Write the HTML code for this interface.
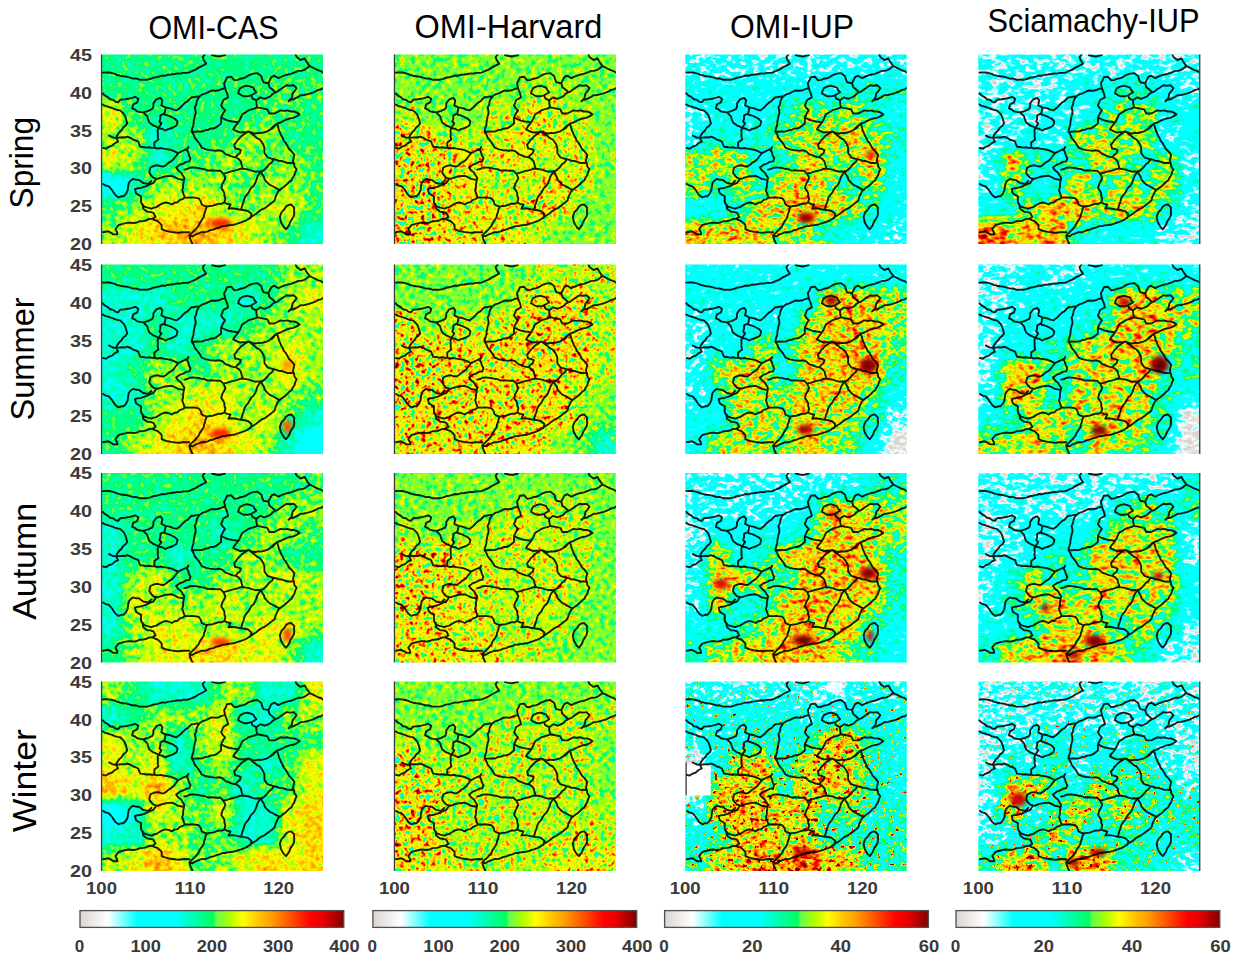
<!DOCTYPE html><html><head><meta charset="utf-8"><style>html,body{margin:0;padding:0;background:#fff;width:1240px;height:963px;overflow:hidden}svg{display:block;font-family:"Liberation Sans",sans-serif}</style></head><body><svg width="1240" height="963" viewBox="0 0 1240 963"><rect width="1240" height="963" fill="#fff"/><defs><path id="bd" d="M1.0,18.1L4.0,17.9 7.6,18.0 10.6,18.6 13.3,19.3 15.4,20.3 18.6,21.2 21.5,21.8 24.9,22.1 28.7,23.2 31.6,24.1 34.3,23.9 37.9,25.2 40.8,25.2 45.8,25.2 48.9,24.3 52.4,23.0 54.9,22.7 58.3,21.8 60.6,21.0 63.8,21.2 67.0,20.2 69.7,20.0 73.2,19.5 76.1,18.9 79.1,19.1 81.3,18.4 84.6,18.4 87.1,18.1 90.4,16.7 94.2,15.1 97.1,13.1 100.2,11.6 104.7,9.1 102.2,5.5 101.2,2.5 103.3,0.0M110.5,0.5L114.4,1.5 117.6,2.0 120.3,1.3 123.6,0.5M1.0,38.8L3.6,41.2 6.3,42.6 8.6,44.8 11.8,45.4 13.8,47.1 16.6,47.8 18.6,45.3 20.9,45.0 23.5,44.8 26.7,44.3 30.5,43.4 33.7,42.3 36.8,44.3 35.8,47.8 31.7,49.9 30.7,53.9 33.7,55.2 35.8,56.9 39.0,57.5 41.8,57.9 44.4,57.1 46.8,56.4 50.9,54.4 51.8,52.1 51.9,48.9 54.9,44.8 58.9,43.3 60.9,45.8 59.9,50.9 64.0,52.9 69.0,53.9 72.0,55.1 75.0,55.9 79.0,52.9 81.1,50.6 84.1,47.8 86.3,46.7 88.5,44.2 90.1,42.8 92.7,42.7 95.0,42.1 98.2,41.8 100.8,39.9 104.2,38.8 106.3,37.8 109.3,36.3 111.5,36.0 114.5,36.3 117.4,35.8 120.1,34.5 123.6,33.7 122.6,28.7 124.2,26.1 125.6,22.7 129.6,22.2 132.7,25.7 136.1,25.4 138.5,24.3 141.7,23.7 143.9,23.0 146.9,21.0 148.8,20.2 151.9,19.1 155.8,18.6 159.9,21.7 160.6,24.7 161.9,27.7 166.9,28.7 168.5,25.4 169.9,22.7 172.9,21.2 177.0,23.7 180.0,22.1 184.0,20.7 186.4,20.0 189.5,19.4 191.6,18.5 194.1,17.6 196.8,16.4 199.6,16.4 202.1,15.7 204.2,14.6 208.2,11.6 211.1,13.0 214.2,14.6 216.3,15.7 219.3,16.6 222.0,18.6M208.2,11.6L205.2,7.6 203.2,4.0 199.1,5.5 195.1,2.5 194.1,0.0M41.8,57.9L43.3,59.4 45.8,61.9 46.5,64.6 47.8,68.0 51.9,71.0 54.2,71.8 56.9,73.5 56.1,75.9 56.4,79.1 56.2,81.9 56.9,85.1 52.9,88.1 52.9,93.2 55.5,94.0 59.2,93.5 61.9,94.1 65.3,94.6 68.8,95.2 72.5,96.6 76.6,98.7M64.0,53.9L63.0,58.9 58.9,60.9 58.8,64.5 57.9,67.0 59.9,69.0 58.4,71.2 56.9,73.5M63.0,60.0L65.2,60.6 68.2,61.7 71.0,63.0 73.9,64.6 76.0,67.0 75.0,71.0 71.5,73.0 69.0,74.0 66.5,74.6 64.0,76.0 60.5,74.2 56.9,73.5M1.0,49.9L3.6,51.4 6.5,52.1 8.6,52.9 10.8,53.5 13.2,54.7 16.1,55.5 18.6,55.9 20.5,57.6 22.7,59.9 24.0,63.0 24.7,65.0 25.7,69.0 24.1,71.3 21.7,73.0 20.0,75.8 17.6,78.0 15.8,80.6 14.6,83.1 16.6,87.1 13.4,88.6 10.6,91.1 7.0,92.4 4.5,94.2 1.6,93.5M7.6,81.1L11.6,83.1 14.3,83.3 17.6,83.1 20.8,82.7 23.5,83.0 25.7,82.1 29.2,83.5 31.7,85.1 33.9,85.8 36.8,87.1 37.5,89.3 38.8,92.2 41.7,92.5 44.6,93.1 47.7,92.8 50.3,93.4 52.9,93.2M98.2,41.8L96.2,44.5 95.2,46.8 94.7,50.2 93.2,52.9 94.0,55.9 94.2,58.9 93.2,61.9 92.7,64.6 92.2,67.0 92.0,70.3 90.7,74.2 90.1,77.1 91.9,79.7 93.2,83.1 94.8,85.2 97.2,88.1 99.1,91.0 100.2,93.2 101.3,93.5 104.5,94.9 108.5,95.6 112.1,96.0 114.5,96.2 117.3,95.8 120.8,96.6 123.9,99.7 127.0,100.6 129.1,101.7 131.6,102.4 134.2,102.8 137.1,104.5 139.3,106.9 140.1,110.3 141.4,114.1M90.1,77.1L92.8,77.2 95.9,77.0 99.2,77.1 101.3,76.8 104.1,75.5 106.9,75.2 109.3,74.0 111.8,74.0 114.5,73.0 117.1,71.0 119.6,69.0 119.6,65.5 119.6,63.0 120.9,60.3 121.7,58.6 123.6,55.9 121.2,53.4 119.6,50.9 120.8,48.4 121.6,45.8 123.9,44.3 126.6,42.8 125.6,38.8 124.7,36.6 123.6,33.7M119.6,63.0L123.6,65.0 126.7,66.1 130.7,67.0 133.4,67.3 136.7,68.0 138.3,65.3 139.4,62.9 140.7,59.9 144.2,57.8 146.8,55.9 149.9,54.9 152.8,54.1 155.8,52.9 160.9,53.9 165.9,54.9 167.9,59.0 173.0,59.0 175.9,57.5 179.0,55.9 182.5,56.4 186.0,55.9 189.3,57.0 192.6,57.0 195.1,57.9 198.1,59.9 195.1,61.9 191.7,63.4 188.1,64.0 185.4,64.9 181.6,66.6 179.0,68.0 175.5,69.2 173.0,71.0 170.5,73.2 168.9,75.0 165.7,76.9 161.9,78.0 158.8,78.6 156.7,78.3 153.8,79.0 150.7,78.5 146.8,77.0 143.8,77.8 141.3,77.7 138.7,78.0 135.7,76.9 131.7,75.0 133.0,72.6 135.1,70.2 136.7,68.0M136.7,38.8L137.4,36.1 138.7,33.7 142.5,31.9 145.8,31.2 148.9,32.1 151.8,33.2 152.8,35.3 154.8,37.8 152.4,39.3 149.8,40.8 145.8,41.8 142.7,41.8 140.0,40.8 136.7,38.8M149.8,40.8L150.8,43.8 154.8,45.8 154.9,49.1 155.8,52.9M154.8,45.8L158.9,42.8 162.9,44.3 165.4,43.4 168.9,41.8 171.1,39.4 173.9,37.8 176.4,36.8 179.0,34.8 182.4,32.5 185.0,30.7 188.2,31.2 192.1,30.7 195.1,33.7 193.2,36.5 191.1,38.8 190.1,43.8 187.0,46.8 189.1,45.3 192.1,44.8 194.6,43.4 196.3,42.6 199.1,40.8 202.6,40.5 205.4,39.9 209.2,38.8 211.2,38.2 214.2,36.8 216.7,35.4 219.5,34.9 222.0,33.2M166.9,28.7L168.0,32.7 170.7,34.8 173.9,37.8M146.8,77.0L144.6,78.5 141.8,80.2 139.5,82.0 137.7,84.1 135.8,85.9 134.7,87.9 132.7,90.1 133.7,94.0 136.5,94.4 139.3,95.6 138.3,98.7 136.1,100.2 134.2,102.8M146.8,77.0L148.9,78.2 151.7,80.5 153.8,82.1 155.5,83.7 158.3,85.0 159.9,87.1 161.8,90.1 162.9,93.2 162.9,96.3 163.0,98.7 166.0,102.8 169.0,103.8 172.2,104.8M168.9,75.0L171.3,73.6 173.1,71.4 175.5,69.1 176.7,72.7 177.5,76.0 178.7,78.4 179.5,80.7 181.3,83.7 182.3,86.4 184.0,88.1 185.7,90.9 187.4,94.2 190.0,96.7 192.9,100.4 192.2,103.3 191.5,106.2 192.6,109.3 192.9,112.0 195.1,114.9 193.8,117.5 192.9,120.7 191.2,123.2 190.0,125.8 187.5,127.6 185.7,129.5 183.2,131.8 181.3,133.1 179.4,134.6M172.2,104.8L175.3,105.4 177.1,106.4 180.0,106.5 182.8,107.3 186.0,108.5 188.4,108.4 191.8,108.6M141.4,114.1L144.5,114.6 147.6,115.1 150.3,116.2 153.7,117.2 156.3,116.9 159.9,117.2 163.0,115.1 166.0,112.0 167.6,109.8 170.2,107.9 172.2,104.8M179.4,134.6L176.8,136.7 175.3,139.8 174.0,142.6 173.2,145.9 170.7,148.0 168.1,150.0 165.6,151.9 162.9,153.9 159.9,155.2 157.2,157.1 154.7,159.3 152.7,160.5 149.6,162.4 145.5,165.5 143.0,166.7 139.5,167.9 137.3,168.6 135.0,169.4 132.0,170.3 129.0,170.6 125.9,171.0 123.5,171.6 120.8,171.6 118.1,173.0 114.7,173.7 111.7,175.1 108.5,175.7 106.4,176.8 103.5,177.7 100.0,177.6 97.2,178.8 93.7,180.2 91.0,181.9 87.9,180.9 88.9,185.0 91.0,189.5M159.6,116.6L157.4,119.7 156.0,122.0 154.8,125.7 153.4,129.1 151.9,131.4 150.1,132.8 148.4,135.4 147.1,138.1 145.1,140.4 143.4,142.8 142.7,144.8 142.0,147.5 140.9,150.3 139.6,155.3M159.6,116.6L160.4,119.3 162.3,122.1 163.3,125.4 166.1,128.4 168.3,130.4 170.8,131.5 173.3,132.9 175.8,134.3 178.3,135.3M82.8,115.1L85.8,114.5 88.4,113.2 91.0,113.0 93.3,113.1 96.7,113.5 99.2,114.1 102.9,114.6 106.4,116.1 109.5,115.8 113.6,116.1 116.4,116.3 118.8,116.1 121.9,119.2 126.0,118.2 129.8,116.9 133.2,116.1 136.0,115.4 138.6,114.3 141.4,114.1M121.9,119.2L123.9,123.3 122.8,126.1 120.8,129.5 119.8,133.6 121.9,136.6 122.9,138.7 122.9,141.3 123.9,143.9 122.9,148.0 120.5,149.2 117.4,149.1 114.7,150.0 111.3,151.2 108.2,151.5 105.4,152.1 102.4,151.1 100.2,150.0 99.2,146.5 97.2,143.9 94.5,143.4 91.0,142.9 87.8,143.1 83.8,142.9M122.9,148.0L125.7,149.4 129.0,150.0 127.0,154.2 130.6,153.7 134.2,154.2 136.4,154.7 139.6,155.3M139.6,155.3L143.0,155.7 146.5,156.5 150.0,159.5 149.0,163.5M105.4,152.1L104.2,154.5 103.6,157.6 102.5,160.1 102.3,162.4 100.6,165.1 98.2,168.6 97.1,171.4 95.1,173.7 93.5,175.5 91.0,177.8 87.9,180.9M76.6,98.7L80.7,96.6 83.2,95.5 85.9,94.6 86.9,92.5M84.8,94.6L86.7,97.8 87.4,100.7 89.0,103.8 87.9,106.9 84.6,107.4 81.3,109.3 78.7,110.0 74.6,113.0 76.9,116.1 79.7,118.2 81.0,120.5 82.8,123.3 82.3,126.1 81.6,130.0 81.6,132.9 80.7,135.7 81.9,139.2 82.8,141.8 83.8,142.9M76.6,98.7L73.5,102.8 71.9,104.9 69.4,106.9 67.2,108.1 64.9,110.2 62.2,112.0 59.7,111.8 56.5,110.8 54.0,111.0 51.9,111.6 48.9,113.0 48.3,115.4 47.8,118.2 49.7,121.0 52.0,123.3 56.0,124.4 59.6,123.1 62.2,122.3 65.1,121.7 67.7,121.5 70.4,121.3 73.1,122.5 76.6,124.4 81.7,125.4M83.8,142.9L80.8,144.8 78.4,145.4 76.2,147.7 73.0,148.2 70.4,150.0 67.0,148.5 64.3,148.0 61.7,148.6 59.2,149.8 57.1,151.1 54.8,152.6 52.6,153.1 49.9,154.2 46.2,153.2 42.7,152.1 39.6,148.0 39.5,144.7 39.6,141.8 36.6,140.1 34.5,138.8 33.4,134.6 36.5,133.7 38.6,133.6 41.7,132.7 44.8,131.6 48.7,129.7 51.9,128.5 54.0,125.4M31.4,124.4L29.1,126.2 27.3,128.5 26.6,132.0 26.2,135.7 24.6,139.1 22.1,141.8 20.0,141.8 17.0,142.9 13.9,140.5 11.9,137.7 10.6,135.6 8.5,133.1 6.7,131.6 4.0,131.0 1.6,129.5M31.4,124.4L34.9,125.3 37.6,125.4 41.7,128.5 46.8,129.5 49.9,126.4M39.6,148.0L41.2,150.8 41.7,154.2 45.8,157.2 48.4,157.4 51.9,158.3 54.0,162.4 50.9,164.4 53.5,165.7 56.0,166.5 58.6,168.8 60.2,170.6 60.2,174.7 63.4,176.0 66.3,176.8 69.4,177.4 72.5,177.8 74.7,178.1 77.7,178.3 80.7,177.8 84.5,177.6 87.9,177.8M49.9,164.4L46.8,164.8 44.6,166.0 41.7,166.5 38.2,166.7 35.5,168.0 32.4,168.6 29.5,168.3 27.0,168.1 24.2,168.6 20.4,169.6 17.0,170.6 13.9,174.7 15.5,177.5 16.0,179.9 11.9,179.9 9.7,178.3 6.7,176.8 1.6,177.8M189.7,150.0L192.8,153.1 192.5,155.4 192.8,158.3 192.3,161.6 190.7,164.4 188.9,167.0 187.6,170.6 184.6,174.7 182.5,172.7 180.9,170.3 179.4,167.5 178.4,162.4 179.3,159.5 180.4,157.2 182.7,155.1 184.6,152.1 186.8,150.5 189.7,150.0" fill="none" stroke="#050505" stroke-width="1.9" stroke-linejoin="round" stroke-linecap="round" opacity="0.88" filter="url(#lb)"/><linearGradient id="cbg" x1="0" x2="1" y1="0" y2="0"><stop offset="0.000" stop-color="rgb(218,213,208)"/><stop offset="0.105" stop-color="rgb(255,255,255)"/><stop offset="0.218" stop-color="rgb(0,255,255)"/><stop offset="0.362" stop-color="rgb(0,255,255)"/><stop offset="0.505" stop-color="rgb(0,255,96)"/><stop offset="0.514" stop-color="rgb(96,255,80)"/><stop offset="0.569" stop-color="rgb(176,255,0)"/><stop offset="0.617" stop-color="rgb(255,255,0)"/><stop offset="0.684" stop-color="rgb(255,192,0)"/><stop offset="0.720" stop-color="rgb(255,165,0)"/><stop offset="0.785" stop-color="rgb(255,96,0)"/><stop offset="0.875" stop-color="rgb(255,0,0)"/><stop offset="0.920" stop-color="rgb(235,0,0)"/><stop offset="1.000" stop-color="rgb(128,0,0)"/></linearGradient><filter id="sb" x="-50%" y="-50%" width="200%" height="200%"><feGaussianBlur stdDeviation="2.2"/></filter><filter id="lb" x="-5%" y="-5%" width="110%" height="110%"><feGaussianBlur stdDeviation="0.45"/></filter></defs><filter id="f00" filterUnits="userSpaceOnUse" x="61.5" y="14.5" width="301.5" height="269.5" color-interpolation-filters="sRGB"><feGaussianBlur in="SourceGraphic" stdDeviation="6" result="b"/><feColorMatrix in="b" type="matrix" values="1 0 0 0 0 1 0 0 0 0 1 0 0 0 0 0 0 0 0 1" result="val"/><feColorMatrix in="b" type="matrix" values="0 1 0 0 0 0 1 0 0 0 0 1 0 0 0 0 0 0 0 1" result="amp"/><feTurbulence type="fractalNoise" baseFrequency="0.18" numOctaves="2" seed="3" result="t"/><feColorMatrix in="t" type="matrix" values="1 0 0 0 0 1 0 0 0 0 1 0 0 0 0 0 0 0 0 1" result="tg0"/><feOffset in="tg0" dx="0" dy="0" result="tg"/><feComposite in="amp" in2="tg" operator="arithmetic" k1="1" k2="-0.5" k3="0" k4="0.5" result="nm"/><feComposite in="val" in2="nm" operator="arithmetic" k1="0" k2="1" k3="0.32" k4="-0.160" result="sum"/><feComponentTransfer><feFuncR type="table" tableValues="0.855 0.866 0.877 0.888 0.898 0.909 0.920 0.931 0.942 0.953 0.964 0.975 0.985 0.996 0.954 0.884 0.814 0.745 0.675 0.605 0.536 0.466 0.396 0.327 0.257 0.187 0.117 0.048 0.000 0.000 0.000 0.000 0.000 0.000 0.000 0.000 0.000 0.000 0.000 0.000 0.000 0.000 0.000 0.000 0.000 0.000 0.000 0.000 0.000 0.000 0.000 0.000 0.000 0.000 0.000 0.000 0.000 0.000 0.000 0.000 0.000 0.000 0.000 0.000 0.000 0.285 0.409 0.454 0.499 0.544 0.589 0.633 0.678 0.728 0.778 0.829 0.880 0.931 0.982 1.000 1.000 1.000 1.000 1.000 1.000 1.000 1.000 1.000 1.000 1.000 1.000 1.000 1.000 1.000 1.000 1.000 1.000 1.000 1.000 1.000 1.000 1.000 1.000 1.000 1.000 1.000 1.000 1.000 1.000 1.000 1.000 1.000 0.988 0.974 0.961 0.947 0.933 0.915 0.874 0.832 0.791 0.750 0.708 0.667 0.626 0.585 0.543 0.502"/><feFuncG type="table" tableValues="0.835 0.848 0.860 0.872 0.885 0.897 0.909 0.922 0.934 0.946 0.959 0.971 0.984 0.996 1.000 1.000 1.000 1.000 1.000 1.000 1.000 1.000 1.000 1.000 1.000 1.000 1.000 1.000 1.000 1.000 1.000 1.000 1.000 1.000 1.000 1.000 1.000 1.000 1.000 1.000 1.000 1.000 1.000 1.000 1.000 1.000 1.000 1.000 1.000 1.000 1.000 1.000 1.000 1.000 1.000 1.000 1.000 1.000 1.000 1.000 1.000 1.000 1.000 1.000 1.000 1.000 1.000 1.000 1.000 1.000 1.000 1.000 1.000 1.000 1.000 1.000 1.000 1.000 1.000 0.981 0.952 0.923 0.894 0.865 0.836 0.807 0.778 0.750 0.727 0.704 0.680 0.657 0.629 0.596 0.563 0.530 0.498 0.465 0.432 0.399 0.366 0.333 0.301 0.268 0.235 0.202 0.169 0.136 0.103 0.070 0.037 0.004 0.000 0.000 0.000 0.000 0.000 0.000 0.000 0.000 0.000 0.000 0.000 0.000 0.000 0.000 0.000 0.000"/><feFuncB type="table" tableValues="0.816 0.830 0.843 0.857 0.871 0.885 0.899 0.912 0.926 0.940 0.954 0.968 0.982 0.995 1.000 1.000 1.000 1.000 1.000 1.000 1.000 1.000 1.000 1.000 1.000 1.000 1.000 1.000 1.000 1.000 1.000 1.000 1.000 1.000 1.000 1.000 1.000 1.000 1.000 1.000 1.000 1.000 1.000 1.000 1.000 1.000 0.999 0.965 0.930 0.896 0.862 0.827 0.793 0.759 0.724 0.690 0.656 0.621 0.587 0.553 0.518 0.484 0.450 0.415 0.381 0.329 0.281 0.236 0.191 0.147 0.102 0.057 0.012 0.000 0.000 0.000 0.000 0.000 0.000 0.000 0.000 0.000 0.000 0.000 0.000 0.000 0.000 0.000 0.000 0.000 0.000 0.000 0.000 0.000 0.000 0.000 0.000 0.000 0.000 0.000 0.000 0.000 0.000 0.000 0.000 0.000 0.000 0.000 0.000 0.000 0.000 0.000 0.000 0.000 0.000 0.000 0.000 0.000 0.000 0.000 0.000 0.000 0.000 0.000 0.000 0.000 0.000 0.000"/></feComponentTransfer><feGaussianBlur stdDeviation="0.6"/></filter><clipPath id="cf00"><rect x="101.5" y="54.5" width="221.5" height="189.5"/></clipPath><g clip-path="url(#cf00)"><g filter="url(#f00)"><rect x="61.5" y="14.5" width="62.6" height="64.2" fill="rgb(121,204,0)"/><rect x="123.7" y="14.5" width="22.6" height="64.2" fill="rgb(121,204,0)"/><rect x="145.8" y="14.5" width="22.6" height="64.2" fill="rgb(121,204,0)"/><rect x="167.9" y="14.5" width="22.6" height="64.2" fill="rgb(121,204,0)"/><rect x="190.1" y="14.5" width="22.6" height="64.2" fill="rgb(121,204,0)"/><rect x="212.2" y="14.5" width="22.6" height="64.2" fill="rgb(121,204,0)"/><rect x="234.4" y="14.5" width="22.6" height="64.2" fill="rgb(121,204,0)"/><rect x="256.5" y="14.5" width="22.6" height="64.2" fill="rgb(121,204,0)"/><rect x="278.7" y="14.5" width="22.6" height="64.2" fill="rgb(121,204,0)"/><rect x="300.9" y="14.5" width="62.6" height="64.2" fill="rgb(121,204,0)"/><rect x="61.5" y="78.2" width="62.6" height="24.2" fill="rgb(121,204,0)"/><rect x="123.7" y="78.2" width="22.6" height="24.2" fill="rgb(121,204,0)"/><rect x="145.8" y="78.2" width="22.6" height="24.2" fill="rgb(121,204,0)"/><rect x="167.9" y="78.2" width="22.6" height="24.2" fill="rgb(121,204,0)"/><rect x="190.1" y="78.2" width="22.6" height="24.2" fill="rgb(121,204,0)"/><rect x="212.2" y="78.2" width="22.6" height="24.2" fill="rgb(121,204,0)"/><rect x="234.4" y="78.2" width="22.6" height="24.2" fill="rgb(121,204,0)"/><rect x="256.5" y="78.2" width="22.6" height="24.2" fill="rgb(128,255,0)"/><rect x="278.7" y="78.2" width="22.6" height="24.2" fill="rgb(128,255,0)"/><rect x="300.9" y="78.2" width="62.6" height="24.2" fill="rgb(128,255,0)"/><rect x="61.5" y="101.9" width="62.6" height="24.2" fill="rgb(155,255,0)"/><rect x="123.7" y="101.9" width="22.6" height="24.2" fill="rgb(121,204,0)"/><rect x="145.8" y="101.9" width="22.6" height="24.2" fill="rgb(121,204,0)"/><rect x="167.9" y="101.9" width="22.6" height="24.2" fill="rgb(121,204,0)"/><rect x="190.1" y="101.9" width="22.6" height="24.2" fill="rgb(121,204,0)"/><rect x="212.2" y="101.9" width="22.6" height="24.2" fill="rgb(121,204,0)"/><rect x="234.4" y="101.9" width="22.6" height="24.2" fill="rgb(121,204,0)"/><rect x="256.5" y="101.9" width="22.6" height="24.2" fill="rgb(128,255,0)"/><rect x="278.7" y="101.9" width="22.6" height="24.2" fill="rgb(128,255,0)"/><rect x="300.9" y="101.9" width="62.6" height="24.2" fill="rgb(121,204,0)"/><rect x="61.5" y="125.6" width="62.6" height="24.2" fill="rgb(141,255,0)"/><rect x="123.7" y="125.6" width="22.6" height="24.2" fill="rgb(141,255,0)"/><rect x="145.8" y="125.6" width="22.6" height="24.2" fill="rgb(102,178,0)"/><rect x="167.9" y="125.6" width="22.6" height="24.2" fill="rgb(121,204,0)"/><rect x="190.1" y="125.6" width="22.6" height="24.2" fill="rgb(121,204,0)"/><rect x="212.2" y="125.6" width="22.6" height="24.2" fill="rgb(121,204,0)"/><rect x="234.4" y="125.6" width="22.6" height="24.2" fill="rgb(141,255,0)"/><rect x="256.5" y="125.6" width="22.6" height="24.2" fill="rgb(141,255,0)"/><rect x="278.7" y="125.6" width="22.6" height="24.2" fill="rgb(121,204,0)"/><rect x="300.9" y="125.6" width="62.6" height="24.2" fill="rgb(121,204,0)"/><rect x="61.5" y="149.2" width="62.6" height="24.2" fill="rgb(155,255,0)"/><rect x="123.7" y="149.2" width="22.6" height="24.2" fill="rgb(141,255,0)"/><rect x="145.8" y="149.2" width="22.6" height="24.2" fill="rgb(102,178,0)"/><rect x="167.9" y="149.2" width="22.6" height="24.2" fill="rgb(121,204,0)"/><rect x="190.1" y="149.2" width="22.6" height="24.2" fill="rgb(128,255,0)"/><rect x="212.2" y="149.2" width="22.6" height="24.2" fill="rgb(141,255,0)"/><rect x="234.4" y="149.2" width="22.6" height="24.2" fill="rgb(141,255,0)"/><rect x="256.5" y="149.2" width="22.6" height="24.2" fill="rgb(128,255,0)"/><rect x="278.7" y="149.2" width="22.6" height="24.2" fill="rgb(141,255,0)"/><rect x="300.9" y="149.2" width="62.6" height="24.2" fill="rgb(128,255,0)"/><rect x="61.5" y="172.9" width="62.6" height="24.2" fill="rgb(76,153,0)"/><rect x="123.7" y="172.9" width="22.6" height="24.2" fill="rgb(102,178,0)"/><rect x="145.8" y="172.9" width="22.6" height="24.2" fill="rgb(141,255,0)"/><rect x="167.9" y="172.9" width="22.6" height="24.2" fill="rgb(141,255,0)"/><rect x="190.1" y="172.9" width="22.6" height="24.2" fill="rgb(141,255,0)"/><rect x="212.2" y="172.9" width="22.6" height="24.2" fill="rgb(141,255,0)"/><rect x="234.4" y="172.9" width="22.6" height="24.2" fill="rgb(128,255,0)"/><rect x="256.5" y="172.9" width="22.6" height="24.2" fill="rgb(141,255,0)"/><rect x="278.7" y="172.9" width="22.6" height="24.2" fill="rgb(141,255,0)"/><rect x="300.9" y="172.9" width="62.6" height="24.2" fill="rgb(128,255,0)"/><rect x="61.5" y="196.6" width="62.6" height="24.2" fill="rgb(128,255,0)"/><rect x="123.7" y="196.6" width="22.6" height="24.2" fill="rgb(141,255,0)"/><rect x="145.8" y="196.6" width="22.6" height="24.2" fill="rgb(155,255,0)"/><rect x="167.9" y="196.6" width="22.6" height="24.2" fill="rgb(155,255,0)"/><rect x="190.1" y="196.6" width="22.6" height="24.2" fill="rgb(167,255,0)"/><rect x="212.2" y="196.6" width="22.6" height="24.2" fill="rgb(141,255,0)"/><rect x="234.4" y="196.6" width="22.6" height="24.2" fill="rgb(141,255,0)"/><rect x="256.5" y="196.6" width="22.6" height="24.2" fill="rgb(141,255,0)"/><rect x="278.7" y="196.6" width="22.6" height="24.2" fill="rgb(155,255,0)"/><rect x="300.9" y="196.6" width="62.6" height="24.2" fill="rgb(128,255,0)"/><rect x="61.5" y="220.3" width="62.6" height="64.2" fill="rgb(141,255,0)"/><rect x="123.7" y="220.3" width="22.6" height="64.2" fill="rgb(155,255,0)"/><rect x="145.8" y="220.3" width="22.6" height="64.2" fill="rgb(167,255,0)"/><rect x="167.9" y="220.3" width="22.6" height="64.2" fill="rgb(178,255,0)"/><rect x="190.1" y="220.3" width="22.6" height="64.2" fill="rgb(178,255,0)"/><rect x="212.2" y="220.3" width="22.6" height="64.2" fill="rgb(167,255,0)"/><rect x="234.4" y="220.3" width="22.6" height="64.2" fill="rgb(155,255,0)"/><rect x="256.5" y="220.3" width="22.6" height="64.2" fill="rgb(141,255,0)"/><rect x="278.7" y="220.3" width="22.6" height="64.2" fill="rgb(128,255,0)"/><rect x="300.9" y="220.3" width="62.6" height="64.2" fill="rgb(102,178,0)"/></g><ellipse cx="220.5" cy="223.5" rx="11" ry="5" fill="#ff2400" filter="url(#sb)"/><use href="#bd" x="101.5" y="54.5"/></g><filter id="f01" filterUnits="userSpaceOnUse" x="354.4" y="14.5" width="301.5" height="269.5" color-interpolation-filters="sRGB"><feGaussianBlur in="SourceGraphic" stdDeviation="6" result="b"/><feColorMatrix in="b" type="matrix" values="1 0 0 0 0 1 0 0 0 0 1 0 0 0 0 0 0 0 0 1" result="val"/><feColorMatrix in="b" type="matrix" values="0 1 0 0 0 0 1 0 0 0 0 1 0 0 0 0 0 0 0 1" result="amp"/><feTurbulence type="fractalNoise" baseFrequency="0.19" numOctaves="2" seed="4" result="t"/><feColorMatrix in="t" type="matrix" values="1 0 0 0 0 1 0 0 0 0 1 0 0 0 0 0 0 0 0 1" result="tg0"/><feComponentTransfer in="tg0" result="tg"><feFuncR type="table" tableValues="0 0.12 0.25 0.36 0.45 0.5 0.55 0.7 0.84 0.95 1"/><feFuncG type="table" tableValues="0 0.12 0.25 0.36 0.45 0.5 0.55 0.7 0.84 0.95 1"/><feFuncB type="table" tableValues="0 0.12 0.25 0.36 0.45 0.5 0.55 0.7 0.84 0.95 1"/></feComponentTransfer><feComposite in="amp" in2="tg" operator="arithmetic" k1="1" k2="-0.5" k3="0" k4="0.5" result="nm"/><feComposite in="val" in2="nm" operator="arithmetic" k1="0" k2="1" k3="1.25" k4="-0.625" result="sum"/><feComponentTransfer><feFuncR type="table" tableValues="0.855 0.866 0.877 0.888 0.898 0.909 0.920 0.931 0.942 0.953 0.964 0.975 0.985 0.996 0.954 0.884 0.814 0.745 0.675 0.605 0.536 0.466 0.396 0.327 0.257 0.187 0.117 0.048 0.000 0.000 0.000 0.000 0.000 0.000 0.000 0.000 0.000 0.000 0.000 0.000 0.000 0.000 0.000 0.000 0.000 0.000 0.000 0.000 0.000 0.000 0.000 0.000 0.000 0.000 0.000 0.000 0.000 0.000 0.000 0.000 0.000 0.000 0.000 0.000 0.000 0.285 0.409 0.454 0.499 0.544 0.589 0.633 0.678 0.728 0.778 0.829 0.880 0.931 0.982 1.000 1.000 1.000 1.000 1.000 1.000 1.000 1.000 1.000 1.000 1.000 1.000 1.000 1.000 1.000 1.000 1.000 1.000 1.000 1.000 1.000 1.000 1.000 1.000 1.000 1.000 1.000 1.000 1.000 1.000 1.000 1.000 1.000 0.988 0.974 0.961 0.947 0.933 0.915 0.874 0.832 0.791 0.750 0.708 0.667 0.626 0.585 0.543 0.502"/><feFuncG type="table" tableValues="0.835 0.848 0.860 0.872 0.885 0.897 0.909 0.922 0.934 0.946 0.959 0.971 0.984 0.996 1.000 1.000 1.000 1.000 1.000 1.000 1.000 1.000 1.000 1.000 1.000 1.000 1.000 1.000 1.000 1.000 1.000 1.000 1.000 1.000 1.000 1.000 1.000 1.000 1.000 1.000 1.000 1.000 1.000 1.000 1.000 1.000 1.000 1.000 1.000 1.000 1.000 1.000 1.000 1.000 1.000 1.000 1.000 1.000 1.000 1.000 1.000 1.000 1.000 1.000 1.000 1.000 1.000 1.000 1.000 1.000 1.000 1.000 1.000 1.000 1.000 1.000 1.000 1.000 1.000 0.981 0.952 0.923 0.894 0.865 0.836 0.807 0.778 0.750 0.727 0.704 0.680 0.657 0.629 0.596 0.563 0.530 0.498 0.465 0.432 0.399 0.366 0.333 0.301 0.268 0.235 0.202 0.169 0.136 0.103 0.070 0.037 0.004 0.000 0.000 0.000 0.000 0.000 0.000 0.000 0.000 0.000 0.000 0.000 0.000 0.000 0.000 0.000 0.000"/><feFuncB type="table" tableValues="0.816 0.830 0.843 0.857 0.871 0.885 0.899 0.912 0.926 0.940 0.954 0.968 0.982 0.995 1.000 1.000 1.000 1.000 1.000 1.000 1.000 1.000 1.000 1.000 1.000 1.000 1.000 1.000 1.000 1.000 1.000 1.000 1.000 1.000 1.000 1.000 1.000 1.000 1.000 1.000 1.000 1.000 1.000 1.000 1.000 1.000 0.999 0.965 0.930 0.896 0.862 0.827 0.793 0.759 0.724 0.690 0.656 0.621 0.587 0.553 0.518 0.484 0.450 0.415 0.381 0.329 0.281 0.236 0.191 0.147 0.102 0.057 0.012 0.000 0.000 0.000 0.000 0.000 0.000 0.000 0.000 0.000 0.000 0.000 0.000 0.000 0.000 0.000 0.000 0.000 0.000 0.000 0.000 0.000 0.000 0.000 0.000 0.000 0.000 0.000 0.000 0.000 0.000 0.000 0.000 0.000 0.000 0.000 0.000 0.000 0.000 0.000 0.000 0.000 0.000 0.000 0.000 0.000 0.000 0.000 0.000 0.000 0.000 0.000 0.000 0.000 0.000 0.000"/></feComponentTransfer><feGaussianBlur stdDeviation="0.6"/></filter><clipPath id="cf01"><rect x="394.4" y="54.5" width="221.5" height="189.5"/></clipPath><g clip-path="url(#cf01)"><g filter="url(#f01)"><rect x="354.4" y="14.5" width="62.6" height="64.2" fill="rgb(136,71,0)"/><rect x="416.5" y="14.5" width="22.6" height="64.2" fill="rgb(136,71,0)"/><rect x="438.7" y="14.5" width="22.6" height="64.2" fill="rgb(136,71,0)"/><rect x="460.8" y="14.5" width="22.6" height="64.2" fill="rgb(136,71,0)"/><rect x="483.0" y="14.5" width="22.6" height="64.2" fill="rgb(136,71,0)"/><rect x="505.1" y="14.5" width="22.6" height="64.2" fill="rgb(136,71,0)"/><rect x="527.3" y="14.5" width="22.6" height="64.2" fill="rgb(136,71,0)"/><rect x="549.4" y="14.5" width="22.6" height="64.2" fill="rgb(136,71,0)"/><rect x="571.6" y="14.5" width="22.6" height="64.2" fill="rgb(136,71,0)"/><rect x="593.8" y="14.5" width="62.6" height="64.2" fill="rgb(136,71,0)"/><rect x="354.4" y="78.2" width="62.6" height="24.2" fill="rgb(136,71,0)"/><rect x="416.5" y="78.2" width="22.6" height="24.2" fill="rgb(136,71,0)"/><rect x="438.7" y="78.2" width="22.6" height="24.2" fill="rgb(136,71,0)"/><rect x="460.8" y="78.2" width="22.6" height="24.2" fill="rgb(136,71,0)"/><rect x="483.0" y="78.2" width="22.6" height="24.2" fill="rgb(136,71,0)"/><rect x="505.1" y="78.2" width="22.6" height="24.2" fill="rgb(136,71,0)"/><rect x="527.3" y="78.2" width="22.6" height="24.2" fill="rgb(146,133,0)"/><rect x="549.4" y="78.2" width="22.6" height="24.2" fill="rgb(146,133,0)"/><rect x="571.6" y="78.2" width="22.6" height="24.2" fill="rgb(136,71,0)"/><rect x="593.8" y="78.2" width="62.6" height="24.2" fill="rgb(136,71,0)"/><rect x="354.4" y="101.9" width="62.6" height="24.2" fill="rgb(146,133,0)"/><rect x="416.5" y="101.9" width="22.6" height="24.2" fill="rgb(136,71,0)"/><rect x="438.7" y="101.9" width="22.6" height="24.2" fill="rgb(136,71,0)"/><rect x="460.8" y="101.9" width="22.6" height="24.2" fill="rgb(136,71,0)"/><rect x="483.0" y="101.9" width="22.6" height="24.2" fill="rgb(146,133,0)"/><rect x="505.1" y="101.9" width="22.6" height="24.2" fill="rgb(146,133,0)"/><rect x="527.3" y="101.9" width="22.6" height="24.2" fill="rgb(157,168,0)"/><rect x="549.4" y="101.9" width="22.6" height="24.2" fill="rgb(146,133,0)"/><rect x="571.6" y="101.9" width="22.6" height="24.2" fill="rgb(146,133,0)"/><rect x="593.8" y="101.9" width="62.6" height="24.2" fill="rgb(136,71,0)"/><rect x="354.4" y="125.6" width="62.6" height="24.2" fill="rgb(161,255,0)"/><rect x="416.5" y="125.6" width="22.6" height="24.2" fill="rgb(162,204,0)"/><rect x="438.7" y="125.6" width="22.6" height="24.2" fill="rgb(146,133,0)"/><rect x="460.8" y="125.6" width="22.6" height="24.2" fill="rgb(146,133,0)"/><rect x="483.0" y="125.6" width="22.6" height="24.2" fill="rgb(146,133,0)"/><rect x="505.1" y="125.6" width="22.6" height="24.2" fill="rgb(157,168,0)"/><rect x="527.3" y="125.6" width="22.6" height="24.2" fill="rgb(157,168,0)"/><rect x="549.4" y="125.6" width="22.6" height="24.2" fill="rgb(157,168,0)"/><rect x="571.6" y="125.6" width="22.6" height="24.2" fill="rgb(146,133,0)"/><rect x="593.8" y="125.6" width="62.6" height="24.2" fill="rgb(136,71,0)"/><rect x="354.4" y="149.2" width="62.6" height="24.2" fill="rgb(161,255,0)"/><rect x="416.5" y="149.2" width="22.6" height="24.2" fill="rgb(161,255,0)"/><rect x="438.7" y="149.2" width="22.6" height="24.2" fill="rgb(162,204,0)"/><rect x="460.8" y="149.2" width="22.6" height="24.2" fill="rgb(157,168,0)"/><rect x="483.0" y="149.2" width="22.6" height="24.2" fill="rgb(157,168,0)"/><rect x="505.1" y="149.2" width="22.6" height="24.2" fill="rgb(157,168,0)"/><rect x="527.3" y="149.2" width="22.6" height="24.2" fill="rgb(146,133,0)"/><rect x="549.4" y="149.2" width="22.6" height="24.2" fill="rgb(146,133,0)"/><rect x="571.6" y="149.2" width="22.6" height="24.2" fill="rgb(157,168,0)"/><rect x="593.8" y="149.2" width="62.6" height="24.2" fill="rgb(136,71,0)"/><rect x="354.4" y="172.9" width="62.6" height="24.2" fill="rgb(161,255,0)"/><rect x="416.5" y="172.9" width="22.6" height="24.2" fill="rgb(161,255,0)"/><rect x="438.7" y="172.9" width="22.6" height="24.2" fill="rgb(162,204,0)"/><rect x="460.8" y="172.9" width="22.6" height="24.2" fill="rgb(157,168,0)"/><rect x="483.0" y="172.9" width="22.6" height="24.2" fill="rgb(146,133,0)"/><rect x="505.1" y="172.9" width="22.6" height="24.2" fill="rgb(146,133,0)"/><rect x="527.3" y="172.9" width="22.6" height="24.2" fill="rgb(157,168,0)"/><rect x="549.4" y="172.9" width="22.6" height="24.2" fill="rgb(162,204,0)"/><rect x="571.6" y="172.9" width="22.6" height="24.2" fill="rgb(146,133,0)"/><rect x="593.8" y="172.9" width="62.6" height="24.2" fill="rgb(136,71,0)"/><rect x="354.4" y="196.6" width="62.6" height="24.2" fill="rgb(161,255,0)"/><rect x="416.5" y="196.6" width="22.6" height="24.2" fill="rgb(161,255,0)"/><rect x="438.7" y="196.6" width="22.6" height="24.2" fill="rgb(162,204,0)"/><rect x="460.8" y="196.6" width="22.6" height="24.2" fill="rgb(157,168,0)"/><rect x="483.0" y="196.6" width="22.6" height="24.2" fill="rgb(157,168,0)"/><rect x="505.1" y="196.6" width="22.6" height="24.2" fill="rgb(146,133,0)"/><rect x="527.3" y="196.6" width="22.6" height="24.2" fill="rgb(162,204,0)"/><rect x="549.4" y="196.6" width="22.6" height="24.2" fill="rgb(157,168,0)"/><rect x="571.6" y="196.6" width="22.6" height="24.2" fill="rgb(136,71,0)"/><rect x="593.8" y="196.6" width="62.6" height="24.2" fill="rgb(136,71,0)"/><rect x="354.4" y="220.3" width="62.6" height="64.2" fill="rgb(161,255,0)"/><rect x="416.5" y="220.3" width="22.6" height="64.2" fill="rgb(161,255,0)"/><rect x="438.7" y="220.3" width="22.6" height="64.2" fill="rgb(162,204,0)"/><rect x="460.8" y="220.3" width="22.6" height="64.2" fill="rgb(157,168,0)"/><rect x="483.0" y="220.3" width="22.6" height="64.2" fill="rgb(157,168,0)"/><rect x="505.1" y="220.3" width="22.6" height="64.2" fill="rgb(157,168,0)"/><rect x="527.3" y="220.3" width="22.6" height="64.2" fill="rgb(146,133,0)"/><rect x="549.4" y="220.3" width="22.6" height="64.2" fill="rgb(136,71,0)"/><rect x="571.6" y="220.3" width="22.6" height="64.2" fill="rgb(136,71,0)"/><rect x="593.8" y="220.3" width="62.6" height="64.2" fill="rgb(136,71,0)"/></g><use href="#bd" x="394.4" y="54.5"/></g><filter id="f02" filterUnits="userSpaceOnUse" x="645.2" y="14.5" width="301.5" height="269.5" color-interpolation-filters="sRGB"><feGaussianBlur in="SourceGraphic" stdDeviation="6" result="b"/><feColorMatrix in="b" type="matrix" values="1 0 0 0 0 1 0 0 0 0 1 0 0 0 0 0 0 0 0 1" result="val"/><feColorMatrix in="b" type="matrix" values="0 1 0 0 0 0 1 0 0 0 0 1 0 0 0 0 0 0 0 1" result="amp"/><feTurbulence type="fractalNoise" baseFrequency="0.15 0.22" numOctaves="2" seed="5" result="t"/><feColorMatrix in="t" type="matrix" values="1 0 0 0 0 1 0 0 0 0 1 0 0 0 0 0 0 0 0 1" result="tg0"/><feOffset in="tg0" dx="0" dy="0" result="tg"/><feComposite in="amp" in2="tg" operator="arithmetic" k1="1" k2="-0.5" k3="0" k4="0.5" result="nm"/><feComposite in="val" in2="nm" operator="arithmetic" k1="0" k2="1" k3="0.9" k4="-0.450" result="sum"/><feComponentTransfer><feFuncR type="table" tableValues="0.855 0.866 0.877 0.888 0.898 0.909 0.920 0.931 0.942 0.953 0.964 0.975 0.985 0.996 0.954 0.884 0.814 0.745 0.675 0.605 0.536 0.466 0.396 0.327 0.257 0.187 0.117 0.048 0.000 0.000 0.000 0.000 0.000 0.000 0.000 0.000 0.000 0.000 0.000 0.000 0.000 0.000 0.000 0.000 0.000 0.000 0.000 0.000 0.000 0.000 0.000 0.000 0.000 0.000 0.000 0.000 0.000 0.000 0.000 0.000 0.000 0.000 0.000 0.000 0.000 0.285 0.409 0.454 0.499 0.544 0.589 0.633 0.678 0.728 0.778 0.829 0.880 0.931 0.982 1.000 1.000 1.000 1.000 1.000 1.000 1.000 1.000 1.000 1.000 1.000 1.000 1.000 1.000 1.000 1.000 1.000 1.000 1.000 1.000 1.000 1.000 1.000 1.000 1.000 1.000 1.000 1.000 1.000 1.000 1.000 1.000 1.000 0.988 0.974 0.961 0.947 0.933 0.915 0.874 0.832 0.791 0.750 0.708 0.667 0.626 0.585 0.543 0.502"/><feFuncG type="table" tableValues="0.835 0.848 0.860 0.872 0.885 0.897 0.909 0.922 0.934 0.946 0.959 0.971 0.984 0.996 1.000 1.000 1.000 1.000 1.000 1.000 1.000 1.000 1.000 1.000 1.000 1.000 1.000 1.000 1.000 1.000 1.000 1.000 1.000 1.000 1.000 1.000 1.000 1.000 1.000 1.000 1.000 1.000 1.000 1.000 1.000 1.000 1.000 1.000 1.000 1.000 1.000 1.000 1.000 1.000 1.000 1.000 1.000 1.000 1.000 1.000 1.000 1.000 1.000 1.000 1.000 1.000 1.000 1.000 1.000 1.000 1.000 1.000 1.000 1.000 1.000 1.000 1.000 1.000 1.000 0.981 0.952 0.923 0.894 0.865 0.836 0.807 0.778 0.750 0.727 0.704 0.680 0.657 0.629 0.596 0.563 0.530 0.498 0.465 0.432 0.399 0.366 0.333 0.301 0.268 0.235 0.202 0.169 0.136 0.103 0.070 0.037 0.004 0.000 0.000 0.000 0.000 0.000 0.000 0.000 0.000 0.000 0.000 0.000 0.000 0.000 0.000 0.000 0.000"/><feFuncB type="table" tableValues="0.816 0.830 0.843 0.857 0.871 0.885 0.899 0.912 0.926 0.940 0.954 0.968 0.982 0.995 1.000 1.000 1.000 1.000 1.000 1.000 1.000 1.000 1.000 1.000 1.000 1.000 1.000 1.000 1.000 1.000 1.000 1.000 1.000 1.000 1.000 1.000 1.000 1.000 1.000 1.000 1.000 1.000 1.000 1.000 1.000 1.000 0.999 0.965 0.930 0.896 0.862 0.827 0.793 0.759 0.724 0.690 0.656 0.621 0.587 0.553 0.518 0.484 0.450 0.415 0.381 0.329 0.281 0.236 0.191 0.147 0.102 0.057 0.012 0.000 0.000 0.000 0.000 0.000 0.000 0.000 0.000 0.000 0.000 0.000 0.000 0.000 0.000 0.000 0.000 0.000 0.000 0.000 0.000 0.000 0.000 0.000 0.000 0.000 0.000 0.000 0.000 0.000 0.000 0.000 0.000 0.000 0.000 0.000 0.000 0.000 0.000 0.000 0.000 0.000 0.000 0.000 0.000 0.000 0.000 0.000 0.000 0.000 0.000 0.000 0.000 0.000 0.000 0.000"/></feComponentTransfer><feGaussianBlur stdDeviation="0.6"/></filter><clipPath id="cf02"><rect x="685.2" y="54.5" width="221.5" height="189.5"/></clipPath><g clip-path="url(#cf02)"><g filter="url(#f02)"><rect x="645.2" y="14.5" width="62.6" height="64.2" fill="rgb(57,204,0)"/><rect x="707.4" y="14.5" width="22.6" height="64.2" fill="rgb(57,204,0)"/><rect x="729.5" y="14.5" width="22.6" height="64.2" fill="rgb(57,204,0)"/><rect x="751.7" y="14.5" width="22.6" height="64.2" fill="rgb(57,204,0)"/><rect x="773.8" y="14.5" width="22.6" height="64.2" fill="rgb(57,204,0)"/><rect x="796.0" y="14.5" width="22.6" height="64.2" fill="rgb(57,204,0)"/><rect x="818.1" y="14.5" width="22.6" height="64.2" fill="rgb(57,204,0)"/><rect x="840.2" y="14.5" width="22.6" height="64.2" fill="rgb(57,204,0)"/><rect x="862.4" y="14.5" width="22.6" height="64.2" fill="rgb(57,204,0)"/><rect x="884.6" y="14.5" width="62.6" height="64.2" fill="rgb(57,204,0)"/><rect x="645.2" y="78.2" width="62.6" height="24.2" fill="rgb(76,153,0)"/><rect x="707.4" y="78.2" width="22.6" height="24.2" fill="rgb(76,153,0)"/><rect x="729.5" y="78.2" width="22.6" height="24.2" fill="rgb(76,153,0)"/><rect x="751.7" y="78.2" width="22.6" height="24.2" fill="rgb(76,153,0)"/><rect x="773.8" y="78.2" width="22.6" height="24.2" fill="rgb(76,153,0)"/><rect x="796.0" y="78.2" width="22.6" height="24.2" fill="rgb(76,153,0)"/><rect x="818.1" y="78.2" width="22.6" height="24.2" fill="rgb(76,153,0)"/><rect x="840.2" y="78.2" width="22.6" height="24.2" fill="rgb(102,178,0)"/><rect x="862.4" y="78.2" width="22.6" height="24.2" fill="rgb(102,178,0)"/><rect x="884.6" y="78.2" width="62.6" height="24.2" fill="rgb(102,178,0)"/><rect x="645.2" y="101.9" width="62.6" height="24.2" fill="rgb(57,204,0)"/><rect x="707.4" y="101.9" width="22.6" height="24.2" fill="rgb(76,153,0)"/><rect x="729.5" y="101.9" width="22.6" height="24.2" fill="rgb(76,153,0)"/><rect x="751.7" y="101.9" width="22.6" height="24.2" fill="rgb(76,153,0)"/><rect x="773.8" y="101.9" width="22.6" height="24.2" fill="rgb(102,178,0)"/><rect x="796.0" y="101.9" width="22.6" height="24.2" fill="rgb(141,204,0)"/><rect x="818.1" y="101.9" width="22.6" height="24.2" fill="rgb(128,204,0)"/><rect x="840.2" y="101.9" width="22.6" height="24.2" fill="rgb(141,204,0)"/><rect x="862.4" y="101.9" width="22.6" height="24.2" fill="rgb(102,178,0)"/><rect x="884.6" y="101.9" width="62.6" height="24.2" fill="rgb(76,153,0)"/><rect x="645.2" y="125.6" width="62.6" height="24.2" fill="rgb(57,204,0)"/><rect x="707.4" y="125.6" width="22.6" height="24.2" fill="rgb(102,178,0)"/><rect x="729.5" y="125.6" width="22.6" height="24.2" fill="rgb(76,153,0)"/><rect x="751.7" y="125.6" width="22.6" height="24.2" fill="rgb(102,178,0)"/><rect x="773.8" y="125.6" width="22.6" height="24.2" fill="rgb(141,204,0)"/><rect x="796.0" y="125.6" width="22.6" height="24.2" fill="rgb(141,204,0)"/><rect x="818.1" y="125.6" width="22.6" height="24.2" fill="rgb(154,204,0)"/><rect x="840.2" y="125.6" width="22.6" height="24.2" fill="rgb(164,204,0)"/><rect x="862.4" y="125.6" width="22.6" height="24.2" fill="rgb(141,204,0)"/><rect x="884.6" y="125.6" width="62.6" height="24.2" fill="rgb(102,178,0)"/><rect x="645.2" y="149.2" width="62.6" height="24.2" fill="rgb(141,204,0)"/><rect x="707.4" y="149.2" width="22.6" height="24.2" fill="rgb(154,204,0)"/><rect x="729.5" y="149.2" width="22.6" height="24.2" fill="rgb(141,204,0)"/><rect x="751.7" y="149.2" width="22.6" height="24.2" fill="rgb(76,153,0)"/><rect x="773.8" y="149.2" width="22.6" height="24.2" fill="rgb(102,178,0)"/><rect x="796.0" y="149.2" width="22.6" height="24.2" fill="rgb(164,204,0)"/><rect x="818.1" y="149.2" width="22.6" height="24.2" fill="rgb(141,204,0)"/><rect x="840.2" y="149.2" width="22.6" height="24.2" fill="rgb(141,204,0)"/><rect x="862.4" y="149.2" width="22.6" height="24.2" fill="rgb(175,217,0)"/><rect x="884.6" y="149.2" width="62.6" height="24.2" fill="rgb(76,153,0)"/><rect x="645.2" y="172.9" width="62.6" height="24.2" fill="rgb(154,204,0)"/><rect x="707.4" y="172.9" width="22.6" height="24.2" fill="rgb(102,178,0)"/><rect x="729.5" y="172.9" width="22.6" height="24.2" fill="rgb(154,204,0)"/><rect x="751.7" y="172.9" width="22.6" height="24.2" fill="rgb(102,178,0)"/><rect x="773.8" y="172.9" width="22.6" height="24.2" fill="rgb(164,204,0)"/><rect x="796.0" y="172.9" width="22.6" height="24.2" fill="rgb(164,204,0)"/><rect x="818.1" y="172.9" width="22.6" height="24.2" fill="rgb(141,204,0)"/><rect x="840.2" y="172.9" width="22.6" height="24.2" fill="rgb(102,178,0)"/><rect x="862.4" y="172.9" width="22.6" height="24.2" fill="rgb(141,204,0)"/><rect x="884.6" y="172.9" width="62.6" height="24.2" fill="rgb(76,153,0)"/><rect x="645.2" y="196.6" width="62.6" height="24.2" fill="rgb(76,153,0)"/><rect x="707.4" y="196.6" width="22.6" height="24.2" fill="rgb(76,153,0)"/><rect x="729.5" y="196.6" width="22.6" height="24.2" fill="rgb(102,178,0)"/><rect x="751.7" y="196.6" width="22.6" height="24.2" fill="rgb(164,204,0)"/><rect x="773.8" y="196.6" width="22.6" height="24.2" fill="rgb(164,204,0)"/><rect x="796.0" y="196.6" width="22.6" height="24.2" fill="rgb(175,217,0)"/><rect x="818.1" y="196.6" width="22.6" height="24.2" fill="rgb(164,204,0)"/><rect x="840.2" y="196.6" width="22.6" height="24.2" fill="rgb(154,204,0)"/><rect x="862.4" y="196.6" width="22.6" height="24.2" fill="rgb(102,178,0)"/><rect x="884.6" y="196.6" width="62.6" height="24.2" fill="rgb(76,153,0)"/><rect x="645.2" y="220.3" width="62.6" height="64.2" fill="rgb(175,217,0)"/><rect x="707.4" y="220.3" width="22.6" height="64.2" fill="rgb(164,204,0)"/><rect x="729.5" y="220.3" width="22.6" height="64.2" fill="rgb(175,217,0)"/><rect x="751.7" y="220.3" width="22.6" height="64.2" fill="rgb(154,204,0)"/><rect x="773.8" y="220.3" width="22.6" height="64.2" fill="rgb(141,204,0)"/><rect x="796.0" y="220.3" width="22.6" height="64.2" fill="rgb(141,204,0)"/><rect x="818.1" y="220.3" width="22.6" height="64.2" fill="rgb(102,178,0)"/><rect x="840.2" y="220.3" width="22.6" height="64.2" fill="rgb(76,153,0)"/><rect x="862.4" y="220.3" width="22.6" height="64.2" fill="rgb(76,153,0)"/><rect x="884.6" y="220.3" width="62.6" height="64.2" fill="rgb(57,204,0)"/></g><ellipse cx="806.2" cy="217.5" rx="9" ry="5" fill="#d00000" filter="url(#sb)"/><ellipse cx="806.2" cy="218.5" rx="5" ry="3" fill="#800000" filter="url(#sb)"/><ellipse cx="871.2" cy="154.5" rx="5" ry="4" fill="#ff2000" filter="url(#sb)"/><use href="#bd" x="685.2" y="54.5"/></g><filter id="f03" filterUnits="userSpaceOnUse" x="938.3" y="14.5" width="301.5" height="269.5" color-interpolation-filters="sRGB"><feGaussianBlur in="SourceGraphic" stdDeviation="6" result="b"/><feColorMatrix in="b" type="matrix" values="1 0 0 0 0 1 0 0 0 0 1 0 0 0 0 0 0 0 0 1" result="val"/><feColorMatrix in="b" type="matrix" values="0 1 0 0 0 0 1 0 0 0 0 1 0 0 0 0 0 0 0 1" result="amp"/><feTurbulence type="fractalNoise" baseFrequency="0.12 0.2" numOctaves="2" seed="6" result="t"/><feColorMatrix in="t" type="matrix" values="1 0 0 0 0 1 0 0 0 0 1 0 0 0 0 0 0 0 0 1" result="tg0"/><feOffset in="tg0" dx="0" dy="0" result="tg"/><feComposite in="amp" in2="tg" operator="arithmetic" k1="1" k2="-0.5" k3="0" k4="0.5" result="nm"/><feComposite in="val" in2="nm" operator="arithmetic" k1="0" k2="1" k3="0.95" k4="-0.475" result="sum"/><feComponentTransfer><feFuncR type="table" tableValues="0.855 0.866 0.877 0.888 0.898 0.909 0.920 0.931 0.942 0.953 0.964 0.975 0.985 0.996 0.954 0.884 0.814 0.745 0.675 0.605 0.536 0.466 0.396 0.327 0.257 0.187 0.117 0.048 0.000 0.000 0.000 0.000 0.000 0.000 0.000 0.000 0.000 0.000 0.000 0.000 0.000 0.000 0.000 0.000 0.000 0.000 0.000 0.000 0.000 0.000 0.000 0.000 0.000 0.000 0.000 0.000 0.000 0.000 0.000 0.000 0.000 0.000 0.000 0.000 0.000 0.285 0.409 0.454 0.499 0.544 0.589 0.633 0.678 0.728 0.778 0.829 0.880 0.931 0.982 1.000 1.000 1.000 1.000 1.000 1.000 1.000 1.000 1.000 1.000 1.000 1.000 1.000 1.000 1.000 1.000 1.000 1.000 1.000 1.000 1.000 1.000 1.000 1.000 1.000 1.000 1.000 1.000 1.000 1.000 1.000 1.000 1.000 0.988 0.974 0.961 0.947 0.933 0.915 0.874 0.832 0.791 0.750 0.708 0.667 0.626 0.585 0.543 0.502"/><feFuncG type="table" tableValues="0.835 0.848 0.860 0.872 0.885 0.897 0.909 0.922 0.934 0.946 0.959 0.971 0.984 0.996 1.000 1.000 1.000 1.000 1.000 1.000 1.000 1.000 1.000 1.000 1.000 1.000 1.000 1.000 1.000 1.000 1.000 1.000 1.000 1.000 1.000 1.000 1.000 1.000 1.000 1.000 1.000 1.000 1.000 1.000 1.000 1.000 1.000 1.000 1.000 1.000 1.000 1.000 1.000 1.000 1.000 1.000 1.000 1.000 1.000 1.000 1.000 1.000 1.000 1.000 1.000 1.000 1.000 1.000 1.000 1.000 1.000 1.000 1.000 1.000 1.000 1.000 1.000 1.000 1.000 0.981 0.952 0.923 0.894 0.865 0.836 0.807 0.778 0.750 0.727 0.704 0.680 0.657 0.629 0.596 0.563 0.530 0.498 0.465 0.432 0.399 0.366 0.333 0.301 0.268 0.235 0.202 0.169 0.136 0.103 0.070 0.037 0.004 0.000 0.000 0.000 0.000 0.000 0.000 0.000 0.000 0.000 0.000 0.000 0.000 0.000 0.000 0.000 0.000"/><feFuncB type="table" tableValues="0.816 0.830 0.843 0.857 0.871 0.885 0.899 0.912 0.926 0.940 0.954 0.968 0.982 0.995 1.000 1.000 1.000 1.000 1.000 1.000 1.000 1.000 1.000 1.000 1.000 1.000 1.000 1.000 1.000 1.000 1.000 1.000 1.000 1.000 1.000 1.000 1.000 1.000 1.000 1.000 1.000 1.000 1.000 1.000 1.000 1.000 0.999 0.965 0.930 0.896 0.862 0.827 0.793 0.759 0.724 0.690 0.656 0.621 0.587 0.553 0.518 0.484 0.450 0.415 0.381 0.329 0.281 0.236 0.191 0.147 0.102 0.057 0.012 0.000 0.000 0.000 0.000 0.000 0.000 0.000 0.000 0.000 0.000 0.000 0.000 0.000 0.000 0.000 0.000 0.000 0.000 0.000 0.000 0.000 0.000 0.000 0.000 0.000 0.000 0.000 0.000 0.000 0.000 0.000 0.000 0.000 0.000 0.000 0.000 0.000 0.000 0.000 0.000 0.000 0.000 0.000 0.000 0.000 0.000 0.000 0.000 0.000 0.000 0.000 0.000 0.000 0.000 0.000"/></feComponentTransfer><feGaussianBlur stdDeviation="0.6"/></filter><clipPath id="cf03"><rect x="978.3" y="54.5" width="221.5" height="189.5"/></clipPath><g clip-path="url(#cf03)"><g filter="url(#f03)"><rect x="938.3" y="14.5" width="62.6" height="64.2" fill="rgb(50,204,0)"/><rect x="1000.4" y="14.5" width="22.6" height="64.2" fill="rgb(50,204,0)"/><rect x="1022.6" y="14.5" width="22.6" height="64.2" fill="rgb(50,204,0)"/><rect x="1044.8" y="14.5" width="22.6" height="64.2" fill="rgb(50,204,0)"/><rect x="1066.9" y="14.5" width="22.6" height="64.2" fill="rgb(50,204,0)"/><rect x="1089.0" y="14.5" width="22.6" height="64.2" fill="rgb(50,204,0)"/><rect x="1111.2" y="14.5" width="22.6" height="64.2" fill="rgb(50,204,0)"/><rect x="1133.3" y="14.5" width="22.6" height="64.2" fill="rgb(50,204,0)"/><rect x="1155.5" y="14.5" width="22.6" height="64.2" fill="rgb(50,204,0)"/><rect x="1177.6" y="14.5" width="62.6" height="64.2" fill="rgb(50,204,0)"/><rect x="938.3" y="78.2" width="62.6" height="24.2" fill="rgb(50,204,0)"/><rect x="1000.4" y="78.2" width="22.6" height="24.2" fill="rgb(50,204,0)"/><rect x="1022.6" y="78.2" width="22.6" height="24.2" fill="rgb(50,204,0)"/><rect x="1044.8" y="78.2" width="22.6" height="24.2" fill="rgb(50,204,0)"/><rect x="1066.9" y="78.2" width="22.6" height="24.2" fill="rgb(76,153,0)"/><rect x="1089.0" y="78.2" width="22.6" height="24.2" fill="rgb(76,153,0)"/><rect x="1111.2" y="78.2" width="22.6" height="24.2" fill="rgb(102,178,0)"/><rect x="1133.3" y="78.2" width="22.6" height="24.2" fill="rgb(102,178,0)"/><rect x="1155.5" y="78.2" width="22.6" height="24.2" fill="rgb(76,153,0)"/><rect x="1177.6" y="78.2" width="62.6" height="24.2" fill="rgb(50,204,0)"/><rect x="938.3" y="101.9" width="62.6" height="24.2" fill="rgb(50,204,0)"/><rect x="1000.4" y="101.9" width="22.6" height="24.2" fill="rgb(50,204,0)"/><rect x="1022.6" y="101.9" width="22.6" height="24.2" fill="rgb(50,204,0)"/><rect x="1044.8" y="101.9" width="22.6" height="24.2" fill="rgb(76,153,0)"/><rect x="1066.9" y="101.9" width="22.6" height="24.2" fill="rgb(50,204,0)"/><rect x="1089.0" y="101.9" width="22.6" height="24.2" fill="rgb(102,178,0)"/><rect x="1111.2" y="101.9" width="22.6" height="24.2" fill="rgb(128,204,0)"/><rect x="1133.3" y="101.9" width="22.6" height="24.2" fill="rgb(141,204,0)"/><rect x="1155.5" y="101.9" width="22.6" height="24.2" fill="rgb(76,153,0)"/><rect x="1177.6" y="101.9" width="62.6" height="24.2" fill="rgb(76,153,0)"/><rect x="938.3" y="125.6" width="62.6" height="24.2" fill="rgb(50,204,0)"/><rect x="1000.4" y="125.6" width="22.6" height="24.2" fill="rgb(50,204,0)"/><rect x="1022.6" y="125.6" width="22.6" height="24.2" fill="rgb(76,153,0)"/><rect x="1044.8" y="125.6" width="22.6" height="24.2" fill="rgb(50,204,0)"/><rect x="1066.9" y="125.6" width="22.6" height="24.2" fill="rgb(141,204,0)"/><rect x="1089.0" y="125.6" width="22.6" height="24.2" fill="rgb(141,204,0)"/><rect x="1111.2" y="125.6" width="22.6" height="24.2" fill="rgb(141,204,0)"/><rect x="1133.3" y="125.6" width="22.6" height="24.2" fill="rgb(141,204,0)"/><rect x="1155.5" y="125.6" width="22.6" height="24.2" fill="rgb(50,204,0)"/><rect x="1177.6" y="125.6" width="62.6" height="24.2" fill="rgb(76,153,0)"/><rect x="938.3" y="149.2" width="62.6" height="24.2" fill="rgb(50,204,0)"/><rect x="1000.4" y="149.2" width="22.6" height="24.2" fill="rgb(175,217,0)"/><rect x="1022.6" y="149.2" width="22.6" height="24.2" fill="rgb(102,178,0)"/><rect x="1044.8" y="149.2" width="22.6" height="24.2" fill="rgb(102,178,0)"/><rect x="1066.9" y="149.2" width="22.6" height="24.2" fill="rgb(102,178,0)"/><rect x="1089.0" y="149.2" width="22.6" height="24.2" fill="rgb(164,204,0)"/><rect x="1111.2" y="149.2" width="22.6" height="24.2" fill="rgb(141,204,0)"/><rect x="1133.3" y="149.2" width="22.6" height="24.2" fill="rgb(102,178,0)"/><rect x="1155.5" y="149.2" width="22.6" height="24.2" fill="rgb(141,204,0)"/><rect x="1177.6" y="149.2" width="62.6" height="24.2" fill="rgb(50,204,0)"/><rect x="938.3" y="172.9" width="62.6" height="24.2" fill="rgb(50,204,0)"/><rect x="1000.4" y="172.9" width="22.6" height="24.2" fill="rgb(141,204,0)"/><rect x="1022.6" y="172.9" width="22.6" height="24.2" fill="rgb(76,153,0)"/><rect x="1044.8" y="172.9" width="22.6" height="24.2" fill="rgb(76,153,0)"/><rect x="1066.9" y="172.9" width="22.6" height="24.2" fill="rgb(164,204,0)"/><rect x="1089.0" y="172.9" width="22.6" height="24.2" fill="rgb(102,178,0)"/><rect x="1111.2" y="172.9" width="22.6" height="24.2" fill="rgb(141,204,0)"/><rect x="1133.3" y="172.9" width="22.6" height="24.2" fill="rgb(102,178,0)"/><rect x="1155.5" y="172.9" width="22.6" height="24.2" fill="rgb(154,204,0)"/><rect x="1177.6" y="172.9" width="62.6" height="24.2" fill="rgb(76,153,0)"/><rect x="938.3" y="196.6" width="62.6" height="24.2" fill="rgb(76,153,0)"/><rect x="1000.4" y="196.6" width="22.6" height="24.2" fill="rgb(102,178,0)"/><rect x="1022.6" y="196.6" width="22.6" height="24.2" fill="rgb(141,204,0)"/><rect x="1044.8" y="196.6" width="22.6" height="24.2" fill="rgb(175,217,0)"/><rect x="1066.9" y="196.6" width="22.6" height="24.2" fill="rgb(175,217,0)"/><rect x="1089.0" y="196.6" width="22.6" height="24.2" fill="rgb(141,204,0)"/><rect x="1111.2" y="196.6" width="22.6" height="24.2" fill="rgb(164,204,0)"/><rect x="1133.3" y="196.6" width="22.6" height="24.2" fill="rgb(164,204,0)"/><rect x="1155.5" y="196.6" width="22.6" height="24.2" fill="rgb(102,178,0)"/><rect x="1177.6" y="196.6" width="62.6" height="24.2" fill="rgb(50,204,0)"/><rect x="938.3" y="220.3" width="62.6" height="64.2" fill="rgb(208,255,0)"/><rect x="1000.4" y="220.3" width="22.6" height="64.2" fill="rgb(164,204,0)"/><rect x="1022.6" y="220.3" width="22.6" height="64.2" fill="rgb(175,217,0)"/><rect x="1044.8" y="220.3" width="22.6" height="64.2" fill="rgb(175,217,0)"/><rect x="1066.9" y="220.3" width="22.6" height="64.2" fill="rgb(102,178,0)"/><rect x="1089.0" y="220.3" width="22.6" height="64.2" fill="rgb(76,153,0)"/><rect x="1111.2" y="220.3" width="22.6" height="64.2" fill="rgb(76,153,0)"/><rect x="1133.3" y="220.3" width="22.6" height="64.2" fill="rgb(76,153,0)"/><rect x="1155.5" y="220.3" width="22.6" height="64.2" fill="rgb(50,204,0)"/><rect x="1177.6" y="220.3" width="62.6" height="64.2" fill="rgb(38,204,0)"/></g><use href="#bd" x="978.3" y="54.5"/></g><filter id="f10" filterUnits="userSpaceOnUse" x="61.5" y="224.5" width="301.5" height="269.5" color-interpolation-filters="sRGB"><feGaussianBlur in="SourceGraphic" stdDeviation="6" result="b"/><feColorMatrix in="b" type="matrix" values="1 0 0 0 0 1 0 0 0 0 1 0 0 0 0 0 0 0 0 1" result="val"/><feColorMatrix in="b" type="matrix" values="0 1 0 0 0 0 1 0 0 0 0 1 0 0 0 0 0 0 0 1" result="amp"/><feTurbulence type="fractalNoise" baseFrequency="0.18" numOctaves="2" seed="7" result="t"/><feColorMatrix in="t" type="matrix" values="1 0 0 0 0 1 0 0 0 0 1 0 0 0 0 0 0 0 0 1" result="tg0"/><feOffset in="tg0" dx="0" dy="0" result="tg"/><feComposite in="amp" in2="tg" operator="arithmetic" k1="1" k2="-0.5" k3="0" k4="0.5" result="nm"/><feComposite in="val" in2="nm" operator="arithmetic" k1="0" k2="1" k3="0.32" k4="-0.160" result="sum"/><feComponentTransfer><feFuncR type="table" tableValues="0.855 0.866 0.877 0.888 0.898 0.909 0.920 0.931 0.942 0.953 0.964 0.975 0.985 0.996 0.954 0.884 0.814 0.745 0.675 0.605 0.536 0.466 0.396 0.327 0.257 0.187 0.117 0.048 0.000 0.000 0.000 0.000 0.000 0.000 0.000 0.000 0.000 0.000 0.000 0.000 0.000 0.000 0.000 0.000 0.000 0.000 0.000 0.000 0.000 0.000 0.000 0.000 0.000 0.000 0.000 0.000 0.000 0.000 0.000 0.000 0.000 0.000 0.000 0.000 0.000 0.285 0.409 0.454 0.499 0.544 0.589 0.633 0.678 0.728 0.778 0.829 0.880 0.931 0.982 1.000 1.000 1.000 1.000 1.000 1.000 1.000 1.000 1.000 1.000 1.000 1.000 1.000 1.000 1.000 1.000 1.000 1.000 1.000 1.000 1.000 1.000 1.000 1.000 1.000 1.000 1.000 1.000 1.000 1.000 1.000 1.000 1.000 0.988 0.974 0.961 0.947 0.933 0.915 0.874 0.832 0.791 0.750 0.708 0.667 0.626 0.585 0.543 0.502"/><feFuncG type="table" tableValues="0.835 0.848 0.860 0.872 0.885 0.897 0.909 0.922 0.934 0.946 0.959 0.971 0.984 0.996 1.000 1.000 1.000 1.000 1.000 1.000 1.000 1.000 1.000 1.000 1.000 1.000 1.000 1.000 1.000 1.000 1.000 1.000 1.000 1.000 1.000 1.000 1.000 1.000 1.000 1.000 1.000 1.000 1.000 1.000 1.000 1.000 1.000 1.000 1.000 1.000 1.000 1.000 1.000 1.000 1.000 1.000 1.000 1.000 1.000 1.000 1.000 1.000 1.000 1.000 1.000 1.000 1.000 1.000 1.000 1.000 1.000 1.000 1.000 1.000 1.000 1.000 1.000 1.000 1.000 0.981 0.952 0.923 0.894 0.865 0.836 0.807 0.778 0.750 0.727 0.704 0.680 0.657 0.629 0.596 0.563 0.530 0.498 0.465 0.432 0.399 0.366 0.333 0.301 0.268 0.235 0.202 0.169 0.136 0.103 0.070 0.037 0.004 0.000 0.000 0.000 0.000 0.000 0.000 0.000 0.000 0.000 0.000 0.000 0.000 0.000 0.000 0.000 0.000"/><feFuncB type="table" tableValues="0.816 0.830 0.843 0.857 0.871 0.885 0.899 0.912 0.926 0.940 0.954 0.968 0.982 0.995 1.000 1.000 1.000 1.000 1.000 1.000 1.000 1.000 1.000 1.000 1.000 1.000 1.000 1.000 1.000 1.000 1.000 1.000 1.000 1.000 1.000 1.000 1.000 1.000 1.000 1.000 1.000 1.000 1.000 1.000 1.000 1.000 0.999 0.965 0.930 0.896 0.862 0.827 0.793 0.759 0.724 0.690 0.656 0.621 0.587 0.553 0.518 0.484 0.450 0.415 0.381 0.329 0.281 0.236 0.191 0.147 0.102 0.057 0.012 0.000 0.000 0.000 0.000 0.000 0.000 0.000 0.000 0.000 0.000 0.000 0.000 0.000 0.000 0.000 0.000 0.000 0.000 0.000 0.000 0.000 0.000 0.000 0.000 0.000 0.000 0.000 0.000 0.000 0.000 0.000 0.000 0.000 0.000 0.000 0.000 0.000 0.000 0.000 0.000 0.000 0.000 0.000 0.000 0.000 0.000 0.000 0.000 0.000 0.000 0.000 0.000 0.000 0.000 0.000"/></feComponentTransfer><feGaussianBlur stdDeviation="0.6"/></filter><clipPath id="cf10"><rect x="101.5" y="264.5" width="221.5" height="189.5"/></clipPath><g clip-path="url(#cf10)"><g filter="url(#f10)"><rect x="61.5" y="224.5" width="62.6" height="64.2" fill="rgb(121,204,0)"/><rect x="123.7" y="224.5" width="22.6" height="64.2" fill="rgb(121,204,0)"/><rect x="145.8" y="224.5" width="22.6" height="64.2" fill="rgb(121,204,0)"/><rect x="167.9" y="224.5" width="22.6" height="64.2" fill="rgb(121,204,0)"/><rect x="190.1" y="224.5" width="22.6" height="64.2" fill="rgb(121,204,0)"/><rect x="212.2" y="224.5" width="22.6" height="64.2" fill="rgb(121,204,0)"/><rect x="234.4" y="224.5" width="22.6" height="64.2" fill="rgb(121,204,0)"/><rect x="256.5" y="224.5" width="22.6" height="64.2" fill="rgb(121,204,0)"/><rect x="278.7" y="224.5" width="22.6" height="64.2" fill="rgb(141,255,0)"/><rect x="300.9" y="224.5" width="62.6" height="64.2" fill="rgb(141,255,0)"/><rect x="61.5" y="288.2" width="62.6" height="24.2" fill="rgb(102,178,0)"/><rect x="123.7" y="288.2" width="22.6" height="24.2" fill="rgb(102,178,0)"/><rect x="145.8" y="288.2" width="22.6" height="24.2" fill="rgb(102,178,0)"/><rect x="167.9" y="288.2" width="22.6" height="24.2" fill="rgb(121,204,0)"/><rect x="190.1" y="288.2" width="22.6" height="24.2" fill="rgb(121,204,0)"/><rect x="212.2" y="288.2" width="22.6" height="24.2" fill="rgb(121,204,0)"/><rect x="234.4" y="288.2" width="22.6" height="24.2" fill="rgb(102,178,0)"/><rect x="256.5" y="288.2" width="22.6" height="24.2" fill="rgb(121,204,0)"/><rect x="278.7" y="288.2" width="22.6" height="24.2" fill="rgb(141,255,0)"/><rect x="300.9" y="288.2" width="62.6" height="24.2" fill="rgb(155,255,0)"/><rect x="61.5" y="311.9" width="62.6" height="24.2" fill="rgb(102,178,0)"/><rect x="123.7" y="311.9" width="22.6" height="24.2" fill="rgb(102,178,0)"/><rect x="145.8" y="311.9" width="22.6" height="24.2" fill="rgb(121,204,0)"/><rect x="167.9" y="311.9" width="22.6" height="24.2" fill="rgb(102,178,0)"/><rect x="190.1" y="311.9" width="22.6" height="24.2" fill="rgb(102,178,0)"/><rect x="212.2" y="311.9" width="22.6" height="24.2" fill="rgb(102,178,0)"/><rect x="234.4" y="311.9" width="22.6" height="24.2" fill="rgb(121,204,0)"/><rect x="256.5" y="311.9" width="22.6" height="24.2" fill="rgb(141,255,0)"/><rect x="278.7" y="311.9" width="22.6" height="24.2" fill="rgb(141,255,0)"/><rect x="300.9" y="311.9" width="62.6" height="24.2" fill="rgb(141,255,0)"/><rect x="61.5" y="335.6" width="62.6" height="24.2" fill="rgb(102,178,0)"/><rect x="123.7" y="335.6" width="22.6" height="24.2" fill="rgb(102,178,0)"/><rect x="145.8" y="335.6" width="22.6" height="24.2" fill="rgb(121,204,0)"/><rect x="167.9" y="335.6" width="22.6" height="24.2" fill="rgb(102,178,0)"/><rect x="190.1" y="335.6" width="22.6" height="24.2" fill="rgb(121,204,0)"/><rect x="212.2" y="335.6" width="22.6" height="24.2" fill="rgb(141,255,0)"/><rect x="234.4" y="335.6" width="22.6" height="24.2" fill="rgb(141,255,0)"/><rect x="256.5" y="335.6" width="22.6" height="24.2" fill="rgb(141,255,0)"/><rect x="278.7" y="335.6" width="22.6" height="24.2" fill="rgb(155,255,0)"/><rect x="300.9" y="335.6" width="62.6" height="24.2" fill="rgb(141,255,0)"/><rect x="61.5" y="359.2" width="62.6" height="24.2" fill="rgb(102,178,0)"/><rect x="123.7" y="359.2" width="22.6" height="24.2" fill="rgb(121,204,0)"/><rect x="145.8" y="359.2" width="22.6" height="24.2" fill="rgb(141,255,0)"/><rect x="167.9" y="359.2" width="22.6" height="24.2" fill="rgb(141,255,0)"/><rect x="190.1" y="359.2" width="22.6" height="24.2" fill="rgb(121,204,0)"/><rect x="212.2" y="359.2" width="22.6" height="24.2" fill="rgb(141,255,0)"/><rect x="234.4" y="359.2" width="22.6" height="24.2" fill="rgb(141,255,0)"/><rect x="256.5" y="359.2" width="22.6" height="24.2" fill="rgb(141,255,0)"/><rect x="278.7" y="359.2" width="22.6" height="24.2" fill="rgb(167,255,0)"/><rect x="300.9" y="359.2" width="62.6" height="24.2" fill="rgb(141,255,0)"/><rect x="61.5" y="382.9" width="62.6" height="24.2" fill="rgb(102,178,0)"/><rect x="123.7" y="382.9" width="22.6" height="24.2" fill="rgb(102,178,0)"/><rect x="145.8" y="382.9" width="22.6" height="24.2" fill="rgb(141,255,0)"/><rect x="167.9" y="382.9" width="22.6" height="24.2" fill="rgb(141,255,0)"/><rect x="190.1" y="382.9" width="22.6" height="24.2" fill="rgb(155,255,0)"/><rect x="212.2" y="382.9" width="22.6" height="24.2" fill="rgb(155,255,0)"/><rect x="234.4" y="382.9" width="22.6" height="24.2" fill="rgb(141,255,0)"/><rect x="256.5" y="382.9" width="22.6" height="24.2" fill="rgb(141,255,0)"/><rect x="278.7" y="382.9" width="22.6" height="24.2" fill="rgb(141,255,0)"/><rect x="300.9" y="382.9" width="62.6" height="24.2" fill="rgb(128,255,0)"/><rect x="61.5" y="406.6" width="62.6" height="24.2" fill="rgb(121,204,0)"/><rect x="123.7" y="406.6" width="22.6" height="24.2" fill="rgb(121,204,0)"/><rect x="145.8" y="406.6" width="22.6" height="24.2" fill="rgb(141,255,0)"/><rect x="167.9" y="406.6" width="22.6" height="24.2" fill="rgb(155,255,0)"/><rect x="190.1" y="406.6" width="22.6" height="24.2" fill="rgb(167,255,0)"/><rect x="212.2" y="406.6" width="22.6" height="24.2" fill="rgb(155,255,0)"/><rect x="234.4" y="406.6" width="22.6" height="24.2" fill="rgb(141,255,0)"/><rect x="256.5" y="406.6" width="22.6" height="24.2" fill="rgb(155,255,0)"/><rect x="278.7" y="406.6" width="22.6" height="24.2" fill="rgb(128,255,0)"/><rect x="300.9" y="406.6" width="62.6" height="24.2" fill="rgb(102,178,0)"/><rect x="61.5" y="430.3" width="62.6" height="64.2" fill="rgb(121,204,0)"/><rect x="123.7" y="430.3" width="22.6" height="64.2" fill="rgb(141,255,0)"/><rect x="145.8" y="430.3" width="22.6" height="64.2" fill="rgb(155,255,0)"/><rect x="167.9" y="430.3" width="22.6" height="64.2" fill="rgb(167,255,0)"/><rect x="190.1" y="430.3" width="22.6" height="64.2" fill="rgb(178,255,0)"/><rect x="212.2" y="430.3" width="22.6" height="64.2" fill="rgb(167,255,0)"/><rect x="234.4" y="430.3" width="22.6" height="64.2" fill="rgb(155,255,0)"/><rect x="256.5" y="430.3" width="22.6" height="64.2" fill="rgb(141,255,0)"/><rect x="278.7" y="430.3" width="22.6" height="64.2" fill="rgb(102,178,0)"/><rect x="300.9" y="430.3" width="62.6" height="64.2" fill="rgb(76,153,0)"/></g><ellipse cx="220.5" cy="433.5" rx="10" ry="5" fill="#ff2000" filter="url(#sb)"/><ellipse cx="287.5" cy="426.5" rx="4" ry="7" fill="#ff5000" filter="url(#sb)"/><ellipse cx="287.5" cy="364.5" rx="5" ry="4" fill="#ff9000" filter="url(#sb)"/><use href="#bd" x="101.5" y="264.5"/></g><filter id="f11" filterUnits="userSpaceOnUse" x="354.4" y="224.5" width="301.5" height="269.5" color-interpolation-filters="sRGB"><feGaussianBlur in="SourceGraphic" stdDeviation="6" result="b"/><feColorMatrix in="b" type="matrix" values="1 0 0 0 0 1 0 0 0 0 1 0 0 0 0 0 0 0 0 1" result="val"/><feColorMatrix in="b" type="matrix" values="0 1 0 0 0 0 1 0 0 0 0 1 0 0 0 0 0 0 0 1" result="amp"/><feTurbulence type="fractalNoise" baseFrequency="0.19" numOctaves="2" seed="8" result="t"/><feColorMatrix in="t" type="matrix" values="1 0 0 0 0 1 0 0 0 0 1 0 0 0 0 0 0 0 0 1" result="tg0"/><feComponentTransfer in="tg0" result="tg"><feFuncR type="table" tableValues="0 0.12 0.25 0.36 0.45 0.5 0.55 0.7 0.84 0.95 1"/><feFuncG type="table" tableValues="0 0.12 0.25 0.36 0.45 0.5 0.55 0.7 0.84 0.95 1"/><feFuncB type="table" tableValues="0 0.12 0.25 0.36 0.45 0.5 0.55 0.7 0.84 0.95 1"/></feComponentTransfer><feComposite in="amp" in2="tg" operator="arithmetic" k1="1" k2="-0.5" k3="0" k4="0.5" result="nm"/><feComposite in="val" in2="nm" operator="arithmetic" k1="0" k2="1" k3="1.25" k4="-0.625" result="sum"/><feComponentTransfer><feFuncR type="table" tableValues="0.855 0.866 0.877 0.888 0.898 0.909 0.920 0.931 0.942 0.953 0.964 0.975 0.985 0.996 0.954 0.884 0.814 0.745 0.675 0.605 0.536 0.466 0.396 0.327 0.257 0.187 0.117 0.048 0.000 0.000 0.000 0.000 0.000 0.000 0.000 0.000 0.000 0.000 0.000 0.000 0.000 0.000 0.000 0.000 0.000 0.000 0.000 0.000 0.000 0.000 0.000 0.000 0.000 0.000 0.000 0.000 0.000 0.000 0.000 0.000 0.000 0.000 0.000 0.000 0.000 0.285 0.409 0.454 0.499 0.544 0.589 0.633 0.678 0.728 0.778 0.829 0.880 0.931 0.982 1.000 1.000 1.000 1.000 1.000 1.000 1.000 1.000 1.000 1.000 1.000 1.000 1.000 1.000 1.000 1.000 1.000 1.000 1.000 1.000 1.000 1.000 1.000 1.000 1.000 1.000 1.000 1.000 1.000 1.000 1.000 1.000 1.000 0.988 0.974 0.961 0.947 0.933 0.915 0.874 0.832 0.791 0.750 0.708 0.667 0.626 0.585 0.543 0.502"/><feFuncG type="table" tableValues="0.835 0.848 0.860 0.872 0.885 0.897 0.909 0.922 0.934 0.946 0.959 0.971 0.984 0.996 1.000 1.000 1.000 1.000 1.000 1.000 1.000 1.000 1.000 1.000 1.000 1.000 1.000 1.000 1.000 1.000 1.000 1.000 1.000 1.000 1.000 1.000 1.000 1.000 1.000 1.000 1.000 1.000 1.000 1.000 1.000 1.000 1.000 1.000 1.000 1.000 1.000 1.000 1.000 1.000 1.000 1.000 1.000 1.000 1.000 1.000 1.000 1.000 1.000 1.000 1.000 1.000 1.000 1.000 1.000 1.000 1.000 1.000 1.000 1.000 1.000 1.000 1.000 1.000 1.000 0.981 0.952 0.923 0.894 0.865 0.836 0.807 0.778 0.750 0.727 0.704 0.680 0.657 0.629 0.596 0.563 0.530 0.498 0.465 0.432 0.399 0.366 0.333 0.301 0.268 0.235 0.202 0.169 0.136 0.103 0.070 0.037 0.004 0.000 0.000 0.000 0.000 0.000 0.000 0.000 0.000 0.000 0.000 0.000 0.000 0.000 0.000 0.000 0.000"/><feFuncB type="table" tableValues="0.816 0.830 0.843 0.857 0.871 0.885 0.899 0.912 0.926 0.940 0.954 0.968 0.982 0.995 1.000 1.000 1.000 1.000 1.000 1.000 1.000 1.000 1.000 1.000 1.000 1.000 1.000 1.000 1.000 1.000 1.000 1.000 1.000 1.000 1.000 1.000 1.000 1.000 1.000 1.000 1.000 1.000 1.000 1.000 1.000 1.000 0.999 0.965 0.930 0.896 0.862 0.827 0.793 0.759 0.724 0.690 0.656 0.621 0.587 0.553 0.518 0.484 0.450 0.415 0.381 0.329 0.281 0.236 0.191 0.147 0.102 0.057 0.012 0.000 0.000 0.000 0.000 0.000 0.000 0.000 0.000 0.000 0.000 0.000 0.000 0.000 0.000 0.000 0.000 0.000 0.000 0.000 0.000 0.000 0.000 0.000 0.000 0.000 0.000 0.000 0.000 0.000 0.000 0.000 0.000 0.000 0.000 0.000 0.000 0.000 0.000 0.000 0.000 0.000 0.000 0.000 0.000 0.000 0.000 0.000 0.000 0.000 0.000 0.000 0.000 0.000 0.000 0.000"/></feComponentTransfer><feGaussianBlur stdDeviation="0.6"/></filter><clipPath id="cf11"><rect x="394.4" y="264.5" width="221.5" height="189.5"/></clipPath><g clip-path="url(#cf11)"><g filter="url(#f11)"><rect x="354.4" y="224.5" width="62.6" height="64.2" fill="rgb(136,71,0)"/><rect x="416.5" y="224.5" width="22.6" height="64.2" fill="rgb(136,71,0)"/><rect x="438.7" y="224.5" width="22.6" height="64.2" fill="rgb(136,71,0)"/><rect x="460.8" y="224.5" width="22.6" height="64.2" fill="rgb(136,71,0)"/><rect x="483.0" y="224.5" width="22.6" height="64.2" fill="rgb(136,71,0)"/><rect x="505.1" y="224.5" width="22.6" height="64.2" fill="rgb(136,71,0)"/><rect x="527.3" y="224.5" width="22.6" height="64.2" fill="rgb(146,133,0)"/><rect x="549.4" y="224.5" width="22.6" height="64.2" fill="rgb(146,133,0)"/><rect x="571.6" y="224.5" width="22.6" height="64.2" fill="rgb(146,133,0)"/><rect x="593.8" y="224.5" width="62.6" height="64.2" fill="rgb(146,133,0)"/><rect x="354.4" y="288.2" width="62.6" height="24.2" fill="rgb(136,71,0)"/><rect x="416.5" y="288.2" width="22.6" height="24.2" fill="rgb(136,71,0)"/><rect x="438.7" y="288.2" width="22.6" height="24.2" fill="rgb(136,71,0)"/><rect x="460.8" y="288.2" width="22.6" height="24.2" fill="rgb(136,71,0)"/><rect x="483.0" y="288.2" width="22.6" height="24.2" fill="rgb(136,71,0)"/><rect x="505.1" y="288.2" width="22.6" height="24.2" fill="rgb(146,133,0)"/><rect x="527.3" y="288.2" width="22.6" height="24.2" fill="rgb(162,204,0)"/><rect x="549.4" y="288.2" width="22.6" height="24.2" fill="rgb(162,204,0)"/><rect x="571.6" y="288.2" width="22.6" height="24.2" fill="rgb(162,204,0)"/><rect x="593.8" y="288.2" width="62.6" height="24.2" fill="rgb(146,133,0)"/><rect x="354.4" y="311.9" width="62.6" height="24.2" fill="rgb(161,255,0)"/><rect x="416.5" y="311.9" width="22.6" height="24.2" fill="rgb(136,71,0)"/><rect x="438.7" y="311.9" width="22.6" height="24.2" fill="rgb(146,133,0)"/><rect x="460.8" y="311.9" width="22.6" height="24.2" fill="rgb(146,133,0)"/><rect x="483.0" y="311.9" width="22.6" height="24.2" fill="rgb(146,133,0)"/><rect x="505.1" y="311.9" width="22.6" height="24.2" fill="rgb(162,204,0)"/><rect x="527.3" y="311.9" width="22.6" height="24.2" fill="rgb(162,204,0)"/><rect x="549.4" y="311.9" width="22.6" height="24.2" fill="rgb(162,204,0)"/><rect x="571.6" y="311.9" width="22.6" height="24.2" fill="rgb(162,204,0)"/><rect x="593.8" y="311.9" width="62.6" height="24.2" fill="rgb(146,133,0)"/><rect x="354.4" y="335.6" width="62.6" height="24.2" fill="rgb(161,255,0)"/><rect x="416.5" y="335.6" width="22.6" height="24.2" fill="rgb(161,255,0)"/><rect x="438.7" y="335.6" width="22.6" height="24.2" fill="rgb(162,204,0)"/><rect x="460.8" y="335.6" width="22.6" height="24.2" fill="rgb(162,204,0)"/><rect x="483.0" y="335.6" width="22.6" height="24.2" fill="rgb(162,204,0)"/><rect x="505.1" y="335.6" width="22.6" height="24.2" fill="rgb(162,204,0)"/><rect x="527.3" y="335.6" width="22.6" height="24.2" fill="rgb(162,204,0)"/><rect x="549.4" y="335.6" width="22.6" height="24.2" fill="rgb(162,204,0)"/><rect x="571.6" y="335.6" width="22.6" height="24.2" fill="rgb(162,204,0)"/><rect x="593.8" y="335.6" width="62.6" height="24.2" fill="rgb(146,133,0)"/><rect x="354.4" y="359.2" width="62.6" height="24.2" fill="rgb(161,255,0)"/><rect x="416.5" y="359.2" width="22.6" height="24.2" fill="rgb(161,255,0)"/><rect x="438.7" y="359.2" width="22.6" height="24.2" fill="rgb(162,204,0)"/><rect x="460.8" y="359.2" width="22.6" height="24.2" fill="rgb(162,204,0)"/><rect x="483.0" y="359.2" width="22.6" height="24.2" fill="rgb(162,204,0)"/><rect x="505.1" y="359.2" width="22.6" height="24.2" fill="rgb(162,204,0)"/><rect x="527.3" y="359.2" width="22.6" height="24.2" fill="rgb(162,204,0)"/><rect x="549.4" y="359.2" width="22.6" height="24.2" fill="rgb(162,204,0)"/><rect x="571.6" y="359.2" width="22.6" height="24.2" fill="rgb(162,204,0)"/><rect x="593.8" y="359.2" width="62.6" height="24.2" fill="rgb(146,133,0)"/><rect x="354.4" y="382.9" width="62.6" height="24.2" fill="rgb(161,255,0)"/><rect x="416.5" y="382.9" width="22.6" height="24.2" fill="rgb(162,204,0)"/><rect x="438.7" y="382.9" width="22.6" height="24.2" fill="rgb(162,204,0)"/><rect x="460.8" y="382.9" width="22.6" height="24.2" fill="rgb(162,204,0)"/><rect x="483.0" y="382.9" width="22.6" height="24.2" fill="rgb(162,204,0)"/><rect x="505.1" y="382.9" width="22.6" height="24.2" fill="rgb(162,204,0)"/><rect x="527.3" y="382.9" width="22.6" height="24.2" fill="rgb(162,204,0)"/><rect x="549.4" y="382.9" width="22.6" height="24.2" fill="rgb(162,204,0)"/><rect x="571.6" y="382.9" width="22.6" height="24.2" fill="rgb(146,133,0)"/><rect x="593.8" y="382.9" width="62.6" height="24.2" fill="rgb(136,71,0)"/><rect x="354.4" y="406.6" width="62.6" height="24.2" fill="rgb(161,255,0)"/><rect x="416.5" y="406.6" width="22.6" height="24.2" fill="rgb(162,204,0)"/><rect x="438.7" y="406.6" width="22.6" height="24.2" fill="rgb(162,204,0)"/><rect x="460.8" y="406.6" width="22.6" height="24.2" fill="rgb(162,204,0)"/><rect x="483.0" y="406.6" width="22.6" height="24.2" fill="rgb(162,204,0)"/><rect x="505.1" y="406.6" width="22.6" height="24.2" fill="rgb(162,204,0)"/><rect x="527.3" y="406.6" width="22.6" height="24.2" fill="rgb(162,204,0)"/><rect x="549.4" y="406.6" width="22.6" height="24.2" fill="rgb(162,204,0)"/><rect x="571.6" y="406.6" width="22.6" height="24.2" fill="rgb(146,133,0)"/><rect x="593.8" y="406.6" width="62.6" height="24.2" fill="rgb(136,71,0)"/><rect x="354.4" y="430.3" width="62.6" height="64.2" fill="rgb(162,204,0)"/><rect x="416.5" y="430.3" width="22.6" height="64.2" fill="rgb(162,204,0)"/><rect x="438.7" y="430.3" width="22.6" height="64.2" fill="rgb(162,204,0)"/><rect x="460.8" y="430.3" width="22.6" height="64.2" fill="rgb(162,204,0)"/><rect x="483.0" y="430.3" width="22.6" height="64.2" fill="rgb(162,204,0)"/><rect x="505.1" y="430.3" width="22.6" height="64.2" fill="rgb(162,204,0)"/><rect x="527.3" y="430.3" width="22.6" height="64.2" fill="rgb(162,204,0)"/><rect x="549.4" y="430.3" width="22.6" height="64.2" fill="rgb(136,71,0)"/><rect x="571.6" y="430.3" width="22.6" height="64.2" fill="rgb(136,71,0)"/><rect x="593.8" y="430.3" width="62.6" height="64.2" fill="rgb(102,102,0)"/></g><use href="#bd" x="394.4" y="264.5"/></g><filter id="f12" filterUnits="userSpaceOnUse" x="645.2" y="224.5" width="301.5" height="269.5" color-interpolation-filters="sRGB"><feGaussianBlur in="SourceGraphic" stdDeviation="6" result="b"/><feColorMatrix in="b" type="matrix" values="1 0 0 0 0 1 0 0 0 0 1 0 0 0 0 0 0 0 0 1" result="val"/><feColorMatrix in="b" type="matrix" values="0 1 0 0 0 0 1 0 0 0 0 1 0 0 0 0 0 0 0 1" result="amp"/><feTurbulence type="fractalNoise" baseFrequency="0.15 0.22" numOctaves="2" seed="9" result="t"/><feColorMatrix in="t" type="matrix" values="1 0 0 0 0 1 0 0 0 0 1 0 0 0 0 0 0 0 0 1" result="tg0"/><feOffset in="tg0" dx="0" dy="0" result="tg"/><feComposite in="amp" in2="tg" operator="arithmetic" k1="1" k2="-0.5" k3="0" k4="0.5" result="nm"/><feComposite in="val" in2="nm" operator="arithmetic" k1="0" k2="1" k3="0.9" k4="-0.450" result="sum"/><feComponentTransfer><feFuncR type="table" tableValues="0.855 0.866 0.877 0.888 0.898 0.909 0.920 0.931 0.942 0.953 0.964 0.975 0.985 0.996 0.954 0.884 0.814 0.745 0.675 0.605 0.536 0.466 0.396 0.327 0.257 0.187 0.117 0.048 0.000 0.000 0.000 0.000 0.000 0.000 0.000 0.000 0.000 0.000 0.000 0.000 0.000 0.000 0.000 0.000 0.000 0.000 0.000 0.000 0.000 0.000 0.000 0.000 0.000 0.000 0.000 0.000 0.000 0.000 0.000 0.000 0.000 0.000 0.000 0.000 0.000 0.285 0.409 0.454 0.499 0.544 0.589 0.633 0.678 0.728 0.778 0.829 0.880 0.931 0.982 1.000 1.000 1.000 1.000 1.000 1.000 1.000 1.000 1.000 1.000 1.000 1.000 1.000 1.000 1.000 1.000 1.000 1.000 1.000 1.000 1.000 1.000 1.000 1.000 1.000 1.000 1.000 1.000 1.000 1.000 1.000 1.000 1.000 0.988 0.974 0.961 0.947 0.933 0.915 0.874 0.832 0.791 0.750 0.708 0.667 0.626 0.585 0.543 0.502"/><feFuncG type="table" tableValues="0.835 0.848 0.860 0.872 0.885 0.897 0.909 0.922 0.934 0.946 0.959 0.971 0.984 0.996 1.000 1.000 1.000 1.000 1.000 1.000 1.000 1.000 1.000 1.000 1.000 1.000 1.000 1.000 1.000 1.000 1.000 1.000 1.000 1.000 1.000 1.000 1.000 1.000 1.000 1.000 1.000 1.000 1.000 1.000 1.000 1.000 1.000 1.000 1.000 1.000 1.000 1.000 1.000 1.000 1.000 1.000 1.000 1.000 1.000 1.000 1.000 1.000 1.000 1.000 1.000 1.000 1.000 1.000 1.000 1.000 1.000 1.000 1.000 1.000 1.000 1.000 1.000 1.000 1.000 0.981 0.952 0.923 0.894 0.865 0.836 0.807 0.778 0.750 0.727 0.704 0.680 0.657 0.629 0.596 0.563 0.530 0.498 0.465 0.432 0.399 0.366 0.333 0.301 0.268 0.235 0.202 0.169 0.136 0.103 0.070 0.037 0.004 0.000 0.000 0.000 0.000 0.000 0.000 0.000 0.000 0.000 0.000 0.000 0.000 0.000 0.000 0.000 0.000"/><feFuncB type="table" tableValues="0.816 0.830 0.843 0.857 0.871 0.885 0.899 0.912 0.926 0.940 0.954 0.968 0.982 0.995 1.000 1.000 1.000 1.000 1.000 1.000 1.000 1.000 1.000 1.000 1.000 1.000 1.000 1.000 1.000 1.000 1.000 1.000 1.000 1.000 1.000 1.000 1.000 1.000 1.000 1.000 1.000 1.000 1.000 1.000 1.000 1.000 0.999 0.965 0.930 0.896 0.862 0.827 0.793 0.759 0.724 0.690 0.656 0.621 0.587 0.553 0.518 0.484 0.450 0.415 0.381 0.329 0.281 0.236 0.191 0.147 0.102 0.057 0.012 0.000 0.000 0.000 0.000 0.000 0.000 0.000 0.000 0.000 0.000 0.000 0.000 0.000 0.000 0.000 0.000 0.000 0.000 0.000 0.000 0.000 0.000 0.000 0.000 0.000 0.000 0.000 0.000 0.000 0.000 0.000 0.000 0.000 0.000 0.000 0.000 0.000 0.000 0.000 0.000 0.000 0.000 0.000 0.000 0.000 0.000 0.000 0.000 0.000 0.000 0.000 0.000 0.000 0.000 0.000"/></feComponentTransfer><feGaussianBlur stdDeviation="0.6"/></filter><clipPath id="cf12"><rect x="685.2" y="264.5" width="221.5" height="189.5"/></clipPath><g clip-path="url(#cf12)"><g filter="url(#f12)"><rect x="645.2" y="224.5" width="62.6" height="64.2" fill="rgb(76,153,0)"/><rect x="707.4" y="224.5" width="22.6" height="64.2" fill="rgb(76,153,0)"/><rect x="729.5" y="224.5" width="22.6" height="64.2" fill="rgb(76,153,0)"/><rect x="751.7" y="224.5" width="22.6" height="64.2" fill="rgb(76,153,0)"/><rect x="773.8" y="224.5" width="22.6" height="64.2" fill="rgb(76,153,0)"/><rect x="796.0" y="224.5" width="22.6" height="64.2" fill="rgb(76,153,0)"/><rect x="818.1" y="224.5" width="22.6" height="64.2" fill="rgb(76,153,0)"/><rect x="840.2" y="224.5" width="22.6" height="64.2" fill="rgb(76,153,0)"/><rect x="862.4" y="224.5" width="22.6" height="64.2" fill="rgb(76,153,0)"/><rect x="884.6" y="224.5" width="62.6" height="64.2" fill="rgb(76,153,0)"/><rect x="645.2" y="288.2" width="62.6" height="24.2" fill="rgb(76,153,0)"/><rect x="707.4" y="288.2" width="22.6" height="24.2" fill="rgb(76,153,0)"/><rect x="729.5" y="288.2" width="22.6" height="24.2" fill="rgb(76,153,0)"/><rect x="751.7" y="288.2" width="22.6" height="24.2" fill="rgb(76,153,0)"/><rect x="773.8" y="288.2" width="22.6" height="24.2" fill="rgb(76,153,0)"/><rect x="796.0" y="288.2" width="22.6" height="24.2" fill="rgb(76,153,0)"/><rect x="818.1" y="288.2" width="22.6" height="24.2" fill="rgb(164,204,0)"/><rect x="840.2" y="288.2" width="22.6" height="24.2" fill="rgb(175,217,0)"/><rect x="862.4" y="288.2" width="22.6" height="24.2" fill="rgb(164,204,0)"/><rect x="884.6" y="288.2" width="62.6" height="24.2" fill="rgb(141,204,0)"/><rect x="645.2" y="311.9" width="62.6" height="24.2" fill="rgb(57,204,0)"/><rect x="707.4" y="311.9" width="22.6" height="24.2" fill="rgb(76,153,0)"/><rect x="729.5" y="311.9" width="22.6" height="24.2" fill="rgb(76,153,0)"/><rect x="751.7" y="311.9" width="22.6" height="24.2" fill="rgb(76,153,0)"/><rect x="773.8" y="311.9" width="22.6" height="24.2" fill="rgb(76,153,0)"/><rect x="796.0" y="311.9" width="22.6" height="24.2" fill="rgb(141,204,0)"/><rect x="818.1" y="311.9" width="22.6" height="24.2" fill="rgb(164,204,0)"/><rect x="840.2" y="311.9" width="22.6" height="24.2" fill="rgb(175,217,0)"/><rect x="862.4" y="311.9" width="22.6" height="24.2" fill="rgb(164,204,0)"/><rect x="884.6" y="311.9" width="62.6" height="24.2" fill="rgb(141,204,0)"/><rect x="645.2" y="335.6" width="62.6" height="24.2" fill="rgb(57,204,0)"/><rect x="707.4" y="335.6" width="22.6" height="24.2" fill="rgb(76,153,0)"/><rect x="729.5" y="335.6" width="22.6" height="24.2" fill="rgb(76,153,0)"/><rect x="751.7" y="335.6" width="22.6" height="24.2" fill="rgb(141,204,0)"/><rect x="773.8" y="335.6" width="22.6" height="24.2" fill="rgb(102,178,0)"/><rect x="796.0" y="335.6" width="22.6" height="24.2" fill="rgb(164,204,0)"/><rect x="818.1" y="335.6" width="22.6" height="24.2" fill="rgb(175,217,0)"/><rect x="840.2" y="335.6" width="22.6" height="24.2" fill="rgb(175,217,0)"/><rect x="862.4" y="335.6" width="22.6" height="24.2" fill="rgb(164,204,0)"/><rect x="884.6" y="335.6" width="62.6" height="24.2" fill="rgb(128,204,0)"/><rect x="645.2" y="359.2" width="62.6" height="24.2" fill="rgb(57,204,0)"/><rect x="707.4" y="359.2" width="22.6" height="24.2" fill="rgb(141,204,0)"/><rect x="729.5" y="359.2" width="22.6" height="24.2" fill="rgb(164,204,0)"/><rect x="751.7" y="359.2" width="22.6" height="24.2" fill="rgb(164,204,0)"/><rect x="773.8" y="359.2" width="22.6" height="24.2" fill="rgb(76,153,0)"/><rect x="796.0" y="359.2" width="22.6" height="24.2" fill="rgb(164,204,0)"/><rect x="818.1" y="359.2" width="22.6" height="24.2" fill="rgb(164,204,0)"/><rect x="840.2" y="359.2" width="22.6" height="24.2" fill="rgb(175,217,0)"/><rect x="862.4" y="359.2" width="22.6" height="24.2" fill="rgb(175,217,0)"/><rect x="884.6" y="359.2" width="62.6" height="24.2" fill="rgb(102,178,0)"/><rect x="645.2" y="382.9" width="62.6" height="24.2" fill="rgb(57,204,0)"/><rect x="707.4" y="382.9" width="22.6" height="24.2" fill="rgb(102,178,0)"/><rect x="729.5" y="382.9" width="22.6" height="24.2" fill="rgb(164,204,0)"/><rect x="751.7" y="382.9" width="22.6" height="24.2" fill="rgb(141,204,0)"/><rect x="773.8" y="382.9" width="22.6" height="24.2" fill="rgb(141,204,0)"/><rect x="796.0" y="382.9" width="22.6" height="24.2" fill="rgb(164,204,0)"/><rect x="818.1" y="382.9" width="22.6" height="24.2" fill="rgb(164,204,0)"/><rect x="840.2" y="382.9" width="22.6" height="24.2" fill="rgb(164,204,0)"/><rect x="862.4" y="382.9" width="22.6" height="24.2" fill="rgb(128,204,0)"/><rect x="884.6" y="382.9" width="62.6" height="24.2" fill="rgb(76,153,0)"/><rect x="645.2" y="406.6" width="62.6" height="24.2" fill="rgb(76,153,0)"/><rect x="707.4" y="406.6" width="22.6" height="24.2" fill="rgb(76,153,0)"/><rect x="729.5" y="406.6" width="22.6" height="24.2" fill="rgb(141,204,0)"/><rect x="751.7" y="406.6" width="22.6" height="24.2" fill="rgb(154,204,0)"/><rect x="773.8" y="406.6" width="22.6" height="24.2" fill="rgb(141,204,0)"/><rect x="796.0" y="406.6" width="22.6" height="24.2" fill="rgb(164,204,0)"/><rect x="818.1" y="406.6" width="22.6" height="24.2" fill="rgb(154,204,0)"/><rect x="840.2" y="406.6" width="22.6" height="24.2" fill="rgb(141,204,0)"/><rect x="862.4" y="406.6" width="22.6" height="24.2" fill="rgb(102,178,0)"/><rect x="884.6" y="406.6" width="62.6" height="24.2" fill="rgb(38,204,0)"/><rect x="645.2" y="430.3" width="62.6" height="64.2" fill="rgb(76,153,0)"/><rect x="707.4" y="430.3" width="22.6" height="64.2" fill="rgb(141,204,0)"/><rect x="729.5" y="430.3" width="22.6" height="64.2" fill="rgb(154,204,0)"/><rect x="751.7" y="430.3" width="22.6" height="64.2" fill="rgb(141,204,0)"/><rect x="773.8" y="430.3" width="22.6" height="64.2" fill="rgb(128,204,0)"/><rect x="796.0" y="430.3" width="22.6" height="64.2" fill="rgb(175,217,0)"/><rect x="818.1" y="430.3" width="22.6" height="64.2" fill="rgb(141,204,0)"/><rect x="840.2" y="430.3" width="22.6" height="64.2" fill="rgb(128,204,0)"/><rect x="862.4" y="430.3" width="22.6" height="64.2" fill="rgb(76,153,0)"/><rect x="884.6" y="430.3" width="62.6" height="64.2" fill="rgb(10,128,0)"/></g><ellipse cx="831.2" cy="300.5" rx="6" ry="5" fill="#b00000" filter="url(#sb)"/><ellipse cx="868.2" cy="365.5" rx="9" ry="8" fill="#c00000" filter="url(#sb)"/><ellipse cx="868.2" cy="365.5" rx="5" ry="4" fill="#700000" filter="url(#sb)"/><ellipse cx="805.2" cy="429.5" rx="8" ry="5" fill="#b00000" filter="url(#sb)"/><use href="#bd" x="685.2" y="264.5"/></g><filter id="f13" filterUnits="userSpaceOnUse" x="938.3" y="224.5" width="301.5" height="269.5" color-interpolation-filters="sRGB"><feGaussianBlur in="SourceGraphic" stdDeviation="6" result="b"/><feColorMatrix in="b" type="matrix" values="1 0 0 0 0 1 0 0 0 0 1 0 0 0 0 0 0 0 0 1" result="val"/><feColorMatrix in="b" type="matrix" values="0 1 0 0 0 0 1 0 0 0 0 1 0 0 0 0 0 0 0 1" result="amp"/><feTurbulence type="fractalNoise" baseFrequency="0.12 0.2" numOctaves="2" seed="10" result="t"/><feColorMatrix in="t" type="matrix" values="1 0 0 0 0 1 0 0 0 0 1 0 0 0 0 0 0 0 0 1" result="tg0"/><feOffset in="tg0" dx="0" dy="0" result="tg"/><feComposite in="amp" in2="tg" operator="arithmetic" k1="1" k2="-0.5" k3="0" k4="0.5" result="nm"/><feComposite in="val" in2="nm" operator="arithmetic" k1="0" k2="1" k3="0.95" k4="-0.475" result="sum"/><feComponentTransfer><feFuncR type="table" tableValues="0.855 0.866 0.877 0.888 0.898 0.909 0.920 0.931 0.942 0.953 0.964 0.975 0.985 0.996 0.954 0.884 0.814 0.745 0.675 0.605 0.536 0.466 0.396 0.327 0.257 0.187 0.117 0.048 0.000 0.000 0.000 0.000 0.000 0.000 0.000 0.000 0.000 0.000 0.000 0.000 0.000 0.000 0.000 0.000 0.000 0.000 0.000 0.000 0.000 0.000 0.000 0.000 0.000 0.000 0.000 0.000 0.000 0.000 0.000 0.000 0.000 0.000 0.000 0.000 0.000 0.285 0.409 0.454 0.499 0.544 0.589 0.633 0.678 0.728 0.778 0.829 0.880 0.931 0.982 1.000 1.000 1.000 1.000 1.000 1.000 1.000 1.000 1.000 1.000 1.000 1.000 1.000 1.000 1.000 1.000 1.000 1.000 1.000 1.000 1.000 1.000 1.000 1.000 1.000 1.000 1.000 1.000 1.000 1.000 1.000 1.000 1.000 0.988 0.974 0.961 0.947 0.933 0.915 0.874 0.832 0.791 0.750 0.708 0.667 0.626 0.585 0.543 0.502"/><feFuncG type="table" tableValues="0.835 0.848 0.860 0.872 0.885 0.897 0.909 0.922 0.934 0.946 0.959 0.971 0.984 0.996 1.000 1.000 1.000 1.000 1.000 1.000 1.000 1.000 1.000 1.000 1.000 1.000 1.000 1.000 1.000 1.000 1.000 1.000 1.000 1.000 1.000 1.000 1.000 1.000 1.000 1.000 1.000 1.000 1.000 1.000 1.000 1.000 1.000 1.000 1.000 1.000 1.000 1.000 1.000 1.000 1.000 1.000 1.000 1.000 1.000 1.000 1.000 1.000 1.000 1.000 1.000 1.000 1.000 1.000 1.000 1.000 1.000 1.000 1.000 1.000 1.000 1.000 1.000 1.000 1.000 0.981 0.952 0.923 0.894 0.865 0.836 0.807 0.778 0.750 0.727 0.704 0.680 0.657 0.629 0.596 0.563 0.530 0.498 0.465 0.432 0.399 0.366 0.333 0.301 0.268 0.235 0.202 0.169 0.136 0.103 0.070 0.037 0.004 0.000 0.000 0.000 0.000 0.000 0.000 0.000 0.000 0.000 0.000 0.000 0.000 0.000 0.000 0.000 0.000"/><feFuncB type="table" tableValues="0.816 0.830 0.843 0.857 0.871 0.885 0.899 0.912 0.926 0.940 0.954 0.968 0.982 0.995 1.000 1.000 1.000 1.000 1.000 1.000 1.000 1.000 1.000 1.000 1.000 1.000 1.000 1.000 1.000 1.000 1.000 1.000 1.000 1.000 1.000 1.000 1.000 1.000 1.000 1.000 1.000 1.000 1.000 1.000 1.000 1.000 0.999 0.965 0.930 0.896 0.862 0.827 0.793 0.759 0.724 0.690 0.656 0.621 0.587 0.553 0.518 0.484 0.450 0.415 0.381 0.329 0.281 0.236 0.191 0.147 0.102 0.057 0.012 0.000 0.000 0.000 0.000 0.000 0.000 0.000 0.000 0.000 0.000 0.000 0.000 0.000 0.000 0.000 0.000 0.000 0.000 0.000 0.000 0.000 0.000 0.000 0.000 0.000 0.000 0.000 0.000 0.000 0.000 0.000 0.000 0.000 0.000 0.000 0.000 0.000 0.000 0.000 0.000 0.000 0.000 0.000 0.000 0.000 0.000 0.000 0.000 0.000 0.000 0.000 0.000 0.000 0.000 0.000"/></feComponentTransfer><feGaussianBlur stdDeviation="0.6"/></filter><clipPath id="cf13"><rect x="978.3" y="264.5" width="221.5" height="189.5"/></clipPath><g clip-path="url(#cf13)"><g filter="url(#f13)"><rect x="938.3" y="224.5" width="62.6" height="64.2" fill="rgb(50,204,0)"/><rect x="1000.4" y="224.5" width="22.6" height="64.2" fill="rgb(50,204,0)"/><rect x="1022.6" y="224.5" width="22.6" height="64.2" fill="rgb(76,153,0)"/><rect x="1044.8" y="224.5" width="22.6" height="64.2" fill="rgb(50,204,0)"/><rect x="1066.9" y="224.5" width="22.6" height="64.2" fill="rgb(50,204,0)"/><rect x="1089.0" y="224.5" width="22.6" height="64.2" fill="rgb(76,153,0)"/><rect x="1111.2" y="224.5" width="22.6" height="64.2" fill="rgb(76,153,0)"/><rect x="1133.3" y="224.5" width="22.6" height="64.2" fill="rgb(76,153,0)"/><rect x="1155.5" y="224.5" width="22.6" height="64.2" fill="rgb(76,153,0)"/><rect x="1177.6" y="224.5" width="62.6" height="64.2" fill="rgb(76,153,0)"/><rect x="938.3" y="288.2" width="62.6" height="24.2" fill="rgb(50,204,0)"/><rect x="1000.4" y="288.2" width="22.6" height="24.2" fill="rgb(50,204,0)"/><rect x="1022.6" y="288.2" width="22.6" height="24.2" fill="rgb(76,153,0)"/><rect x="1044.8" y="288.2" width="22.6" height="24.2" fill="rgb(76,153,0)"/><rect x="1066.9" y="288.2" width="22.6" height="24.2" fill="rgb(76,153,0)"/><rect x="1089.0" y="288.2" width="22.6" height="24.2" fill="rgb(76,153,0)"/><rect x="1111.2" y="288.2" width="22.6" height="24.2" fill="rgb(164,204,0)"/><rect x="1133.3" y="288.2" width="22.6" height="24.2" fill="rgb(175,217,0)"/><rect x="1155.5" y="288.2" width="22.6" height="24.2" fill="rgb(141,204,0)"/><rect x="1177.6" y="288.2" width="62.6" height="24.2" fill="rgb(141,204,0)"/><rect x="938.3" y="311.9" width="62.6" height="24.2" fill="rgb(50,204,0)"/><rect x="1000.4" y="311.9" width="22.6" height="24.2" fill="rgb(76,153,0)"/><rect x="1022.6" y="311.9" width="22.6" height="24.2" fill="rgb(76,153,0)"/><rect x="1044.8" y="311.9" width="22.6" height="24.2" fill="rgb(76,153,0)"/><rect x="1066.9" y="311.9" width="22.6" height="24.2" fill="rgb(76,153,0)"/><rect x="1089.0" y="311.9" width="22.6" height="24.2" fill="rgb(102,178,0)"/><rect x="1111.2" y="311.9" width="22.6" height="24.2" fill="rgb(164,204,0)"/><rect x="1133.3" y="311.9" width="22.6" height="24.2" fill="rgb(175,217,0)"/><rect x="1155.5" y="311.9" width="22.6" height="24.2" fill="rgb(164,204,0)"/><rect x="1177.6" y="311.9" width="62.6" height="24.2" fill="rgb(141,204,0)"/><rect x="938.3" y="335.6" width="62.6" height="24.2" fill="rgb(50,204,0)"/><rect x="1000.4" y="335.6" width="22.6" height="24.2" fill="rgb(76,153,0)"/><rect x="1022.6" y="335.6" width="22.6" height="24.2" fill="rgb(76,153,0)"/><rect x="1044.8" y="335.6" width="22.6" height="24.2" fill="rgb(102,178,0)"/><rect x="1066.9" y="335.6" width="22.6" height="24.2" fill="rgb(141,204,0)"/><rect x="1089.0" y="335.6" width="22.6" height="24.2" fill="rgb(164,204,0)"/><rect x="1111.2" y="335.6" width="22.6" height="24.2" fill="rgb(164,204,0)"/><rect x="1133.3" y="335.6" width="22.6" height="24.2" fill="rgb(175,217,0)"/><rect x="1155.5" y="335.6" width="22.6" height="24.2" fill="rgb(141,204,0)"/><rect x="1177.6" y="335.6" width="62.6" height="24.2" fill="rgb(102,178,0)"/><rect x="938.3" y="359.2" width="62.6" height="24.2" fill="rgb(50,204,0)"/><rect x="1000.4" y="359.2" width="22.6" height="24.2" fill="rgb(164,204,0)"/><rect x="1022.6" y="359.2" width="22.6" height="24.2" fill="rgb(175,217,0)"/><rect x="1044.8" y="359.2" width="22.6" height="24.2" fill="rgb(102,178,0)"/><rect x="1066.9" y="359.2" width="22.6" height="24.2" fill="rgb(141,204,0)"/><rect x="1089.0" y="359.2" width="22.6" height="24.2" fill="rgb(164,204,0)"/><rect x="1111.2" y="359.2" width="22.6" height="24.2" fill="rgb(141,204,0)"/><rect x="1133.3" y="359.2" width="22.6" height="24.2" fill="rgb(175,217,0)"/><rect x="1155.5" y="359.2" width="22.6" height="24.2" fill="rgb(102,178,0)"/><rect x="1177.6" y="359.2" width="62.6" height="24.2" fill="rgb(102,178,0)"/><rect x="938.3" y="382.9" width="62.6" height="24.2" fill="rgb(50,204,0)"/><rect x="1000.4" y="382.9" width="22.6" height="24.2" fill="rgb(175,217,0)"/><rect x="1022.6" y="382.9" width="22.6" height="24.2" fill="rgb(164,204,0)"/><rect x="1044.8" y="382.9" width="22.6" height="24.2" fill="rgb(76,153,0)"/><rect x="1066.9" y="382.9" width="22.6" height="24.2" fill="rgb(164,204,0)"/><rect x="1089.0" y="382.9" width="22.6" height="24.2" fill="rgb(141,204,0)"/><rect x="1111.2" y="382.9" width="22.6" height="24.2" fill="rgb(164,204,0)"/><rect x="1133.3" y="382.9" width="22.6" height="24.2" fill="rgb(141,204,0)"/><rect x="1155.5" y="382.9" width="22.6" height="24.2" fill="rgb(102,178,0)"/><rect x="1177.6" y="382.9" width="62.6" height="24.2" fill="rgb(76,153,0)"/><rect x="938.3" y="406.6" width="62.6" height="24.2" fill="rgb(76,153,0)"/><rect x="1000.4" y="406.6" width="22.6" height="24.2" fill="rgb(102,178,0)"/><rect x="1022.6" y="406.6" width="22.6" height="24.2" fill="rgb(141,204,0)"/><rect x="1044.8" y="406.6" width="22.6" height="24.2" fill="rgb(164,204,0)"/><rect x="1066.9" y="406.6" width="22.6" height="24.2" fill="rgb(141,204,0)"/><rect x="1089.0" y="406.6" width="22.6" height="24.2" fill="rgb(164,204,0)"/><rect x="1111.2" y="406.6" width="22.6" height="24.2" fill="rgb(164,204,0)"/><rect x="1133.3" y="406.6" width="22.6" height="24.2" fill="rgb(141,204,0)"/><rect x="1155.5" y="406.6" width="22.6" height="24.2" fill="rgb(102,178,0)"/><rect x="1177.6" y="406.6" width="62.6" height="24.2" fill="rgb(10,128,0)"/><rect x="938.3" y="430.3" width="62.6" height="64.2" fill="rgb(141,204,0)"/><rect x="1000.4" y="430.3" width="22.6" height="64.2" fill="rgb(141,204,0)"/><rect x="1022.6" y="430.3" width="22.6" height="64.2" fill="rgb(164,204,0)"/><rect x="1044.8" y="430.3" width="22.6" height="64.2" fill="rgb(141,204,0)"/><rect x="1066.9" y="430.3" width="22.6" height="64.2" fill="rgb(102,178,0)"/><rect x="1089.0" y="430.3" width="22.6" height="64.2" fill="rgb(175,217,0)"/><rect x="1111.2" y="430.3" width="22.6" height="64.2" fill="rgb(141,204,0)"/><rect x="1133.3" y="430.3" width="22.6" height="64.2" fill="rgb(128,204,0)"/><rect x="1155.5" y="430.3" width="22.6" height="64.2" fill="rgb(76,153,0)"/><rect x="1177.6" y="430.3" width="62.6" height="64.2" fill="rgb(10,128,0)"/></g><ellipse cx="1124.3" cy="302.5" rx="6" ry="5" fill="#d00000" filter="url(#sb)"/><ellipse cx="1159.3" cy="364.5" rx="9" ry="9" fill="#b00000" filter="url(#sb)"/><ellipse cx="1159.3" cy="365.5" rx="6" ry="5" fill="#600000" filter="url(#sb)"/><ellipse cx="1099.3" cy="430.5" rx="8" ry="5" fill="#900000" filter="url(#sb)"/><use href="#bd" x="978.3" y="264.5"/></g><filter id="f20" filterUnits="userSpaceOnUse" x="61.5" y="433.0" width="301.5" height="269.5" color-interpolation-filters="sRGB"><feGaussianBlur in="SourceGraphic" stdDeviation="6" result="b"/><feColorMatrix in="b" type="matrix" values="1 0 0 0 0 1 0 0 0 0 1 0 0 0 0 0 0 0 0 1" result="val"/><feColorMatrix in="b" type="matrix" values="0 1 0 0 0 0 1 0 0 0 0 1 0 0 0 0 0 0 0 1" result="amp"/><feTurbulence type="fractalNoise" baseFrequency="0.18" numOctaves="2" seed="11" result="t"/><feColorMatrix in="t" type="matrix" values="1 0 0 0 0 1 0 0 0 0 1 0 0 0 0 0 0 0 0 1" result="tg0"/><feOffset in="tg0" dx="0" dy="0" result="tg"/><feComposite in="amp" in2="tg" operator="arithmetic" k1="1" k2="-0.5" k3="0" k4="0.5" result="nm"/><feComposite in="val" in2="nm" operator="arithmetic" k1="0" k2="1" k3="0.32" k4="-0.160" result="sum"/><feComponentTransfer><feFuncR type="table" tableValues="0.855 0.866 0.877 0.888 0.898 0.909 0.920 0.931 0.942 0.953 0.964 0.975 0.985 0.996 0.954 0.884 0.814 0.745 0.675 0.605 0.536 0.466 0.396 0.327 0.257 0.187 0.117 0.048 0.000 0.000 0.000 0.000 0.000 0.000 0.000 0.000 0.000 0.000 0.000 0.000 0.000 0.000 0.000 0.000 0.000 0.000 0.000 0.000 0.000 0.000 0.000 0.000 0.000 0.000 0.000 0.000 0.000 0.000 0.000 0.000 0.000 0.000 0.000 0.000 0.000 0.285 0.409 0.454 0.499 0.544 0.589 0.633 0.678 0.728 0.778 0.829 0.880 0.931 0.982 1.000 1.000 1.000 1.000 1.000 1.000 1.000 1.000 1.000 1.000 1.000 1.000 1.000 1.000 1.000 1.000 1.000 1.000 1.000 1.000 1.000 1.000 1.000 1.000 1.000 1.000 1.000 1.000 1.000 1.000 1.000 1.000 1.000 0.988 0.974 0.961 0.947 0.933 0.915 0.874 0.832 0.791 0.750 0.708 0.667 0.626 0.585 0.543 0.502"/><feFuncG type="table" tableValues="0.835 0.848 0.860 0.872 0.885 0.897 0.909 0.922 0.934 0.946 0.959 0.971 0.984 0.996 1.000 1.000 1.000 1.000 1.000 1.000 1.000 1.000 1.000 1.000 1.000 1.000 1.000 1.000 1.000 1.000 1.000 1.000 1.000 1.000 1.000 1.000 1.000 1.000 1.000 1.000 1.000 1.000 1.000 1.000 1.000 1.000 1.000 1.000 1.000 1.000 1.000 1.000 1.000 1.000 1.000 1.000 1.000 1.000 1.000 1.000 1.000 1.000 1.000 1.000 1.000 1.000 1.000 1.000 1.000 1.000 1.000 1.000 1.000 1.000 1.000 1.000 1.000 1.000 1.000 0.981 0.952 0.923 0.894 0.865 0.836 0.807 0.778 0.750 0.727 0.704 0.680 0.657 0.629 0.596 0.563 0.530 0.498 0.465 0.432 0.399 0.366 0.333 0.301 0.268 0.235 0.202 0.169 0.136 0.103 0.070 0.037 0.004 0.000 0.000 0.000 0.000 0.000 0.000 0.000 0.000 0.000 0.000 0.000 0.000 0.000 0.000 0.000 0.000"/><feFuncB type="table" tableValues="0.816 0.830 0.843 0.857 0.871 0.885 0.899 0.912 0.926 0.940 0.954 0.968 0.982 0.995 1.000 1.000 1.000 1.000 1.000 1.000 1.000 1.000 1.000 1.000 1.000 1.000 1.000 1.000 1.000 1.000 1.000 1.000 1.000 1.000 1.000 1.000 1.000 1.000 1.000 1.000 1.000 1.000 1.000 1.000 1.000 1.000 0.999 0.965 0.930 0.896 0.862 0.827 0.793 0.759 0.724 0.690 0.656 0.621 0.587 0.553 0.518 0.484 0.450 0.415 0.381 0.329 0.281 0.236 0.191 0.147 0.102 0.057 0.012 0.000 0.000 0.000 0.000 0.000 0.000 0.000 0.000 0.000 0.000 0.000 0.000 0.000 0.000 0.000 0.000 0.000 0.000 0.000 0.000 0.000 0.000 0.000 0.000 0.000 0.000 0.000 0.000 0.000 0.000 0.000 0.000 0.000 0.000 0.000 0.000 0.000 0.000 0.000 0.000 0.000 0.000 0.000 0.000 0.000 0.000 0.000 0.000 0.000 0.000 0.000 0.000 0.000 0.000 0.000"/></feComponentTransfer><feGaussianBlur stdDeviation="0.6"/></filter><clipPath id="cf20"><rect x="101.5" y="473.0" width="221.5" height="189.5"/></clipPath><g clip-path="url(#cf20)"><g filter="url(#f20)"><rect x="61.5" y="433.0" width="62.6" height="64.2" fill="rgb(121,204,0)"/><rect x="123.7" y="433.0" width="22.6" height="64.2" fill="rgb(121,204,0)"/><rect x="145.8" y="433.0" width="22.6" height="64.2" fill="rgb(121,204,0)"/><rect x="167.9" y="433.0" width="22.6" height="64.2" fill="rgb(121,204,0)"/><rect x="190.1" y="433.0" width="22.6" height="64.2" fill="rgb(121,204,0)"/><rect x="212.2" y="433.0" width="22.6" height="64.2" fill="rgb(121,204,0)"/><rect x="234.4" y="433.0" width="22.6" height="64.2" fill="rgb(121,204,0)"/><rect x="256.5" y="433.0" width="22.6" height="64.2" fill="rgb(121,204,0)"/><rect x="278.7" y="433.0" width="22.6" height="64.2" fill="rgb(121,204,0)"/><rect x="300.9" y="433.0" width="62.6" height="64.2" fill="rgb(128,255,0)"/><rect x="61.5" y="496.7" width="62.6" height="24.2" fill="rgb(121,204,0)"/><rect x="123.7" y="496.7" width="22.6" height="24.2" fill="rgb(121,204,0)"/><rect x="145.8" y="496.7" width="22.6" height="24.2" fill="rgb(121,204,0)"/><rect x="167.9" y="496.7" width="22.6" height="24.2" fill="rgb(121,204,0)"/><rect x="190.1" y="496.7" width="22.6" height="24.2" fill="rgb(121,204,0)"/><rect x="212.2" y="496.7" width="22.6" height="24.2" fill="rgb(121,204,0)"/><rect x="234.4" y="496.7" width="22.6" height="24.2" fill="rgb(121,204,0)"/><rect x="256.5" y="496.7" width="22.6" height="24.2" fill="rgb(121,204,0)"/><rect x="278.7" y="496.7" width="22.6" height="24.2" fill="rgb(141,255,0)"/><rect x="300.9" y="496.7" width="62.6" height="24.2" fill="rgb(141,255,0)"/><rect x="61.5" y="520.4" width="62.6" height="24.2" fill="rgb(102,178,0)"/><rect x="123.7" y="520.4" width="22.6" height="24.2" fill="rgb(121,204,0)"/><rect x="145.8" y="520.4" width="22.6" height="24.2" fill="rgb(121,204,0)"/><rect x="167.9" y="520.4" width="22.6" height="24.2" fill="rgb(121,204,0)"/><rect x="190.1" y="520.4" width="22.6" height="24.2" fill="rgb(121,204,0)"/><rect x="212.2" y="520.4" width="22.6" height="24.2" fill="rgb(102,178,0)"/><rect x="234.4" y="520.4" width="22.6" height="24.2" fill="rgb(121,204,0)"/><rect x="256.5" y="520.4" width="22.6" height="24.2" fill="rgb(141,255,0)"/><rect x="278.7" y="520.4" width="22.6" height="24.2" fill="rgb(141,255,0)"/><rect x="300.9" y="520.4" width="62.6" height="24.2" fill="rgb(128,255,0)"/><rect x="61.5" y="544.1" width="62.6" height="24.2" fill="rgb(102,178,0)"/><rect x="123.7" y="544.1" width="22.6" height="24.2" fill="rgb(121,204,0)"/><rect x="145.8" y="544.1" width="22.6" height="24.2" fill="rgb(121,204,0)"/><rect x="167.9" y="544.1" width="22.6" height="24.2" fill="rgb(102,178,0)"/><rect x="190.1" y="544.1" width="22.6" height="24.2" fill="rgb(121,204,0)"/><rect x="212.2" y="544.1" width="22.6" height="24.2" fill="rgb(121,204,0)"/><rect x="234.4" y="544.1" width="22.6" height="24.2" fill="rgb(141,255,0)"/><rect x="256.5" y="544.1" width="22.6" height="24.2" fill="rgb(141,255,0)"/><rect x="278.7" y="544.1" width="22.6" height="24.2" fill="rgb(121,204,0)"/><rect x="300.9" y="544.1" width="62.6" height="24.2" fill="rgb(121,204,0)"/><rect x="61.5" y="567.8" width="62.6" height="24.2" fill="rgb(102,178,0)"/><rect x="123.7" y="567.8" width="22.6" height="24.2" fill="rgb(141,255,0)"/><rect x="145.8" y="567.8" width="22.6" height="24.2" fill="rgb(155,255,0)"/><rect x="167.9" y="567.8" width="22.6" height="24.2" fill="rgb(121,204,0)"/><rect x="190.1" y="567.8" width="22.6" height="24.2" fill="rgb(121,204,0)"/><rect x="212.2" y="567.8" width="22.6" height="24.2" fill="rgb(141,255,0)"/><rect x="234.4" y="567.8" width="22.6" height="24.2" fill="rgb(141,255,0)"/><rect x="256.5" y="567.8" width="22.6" height="24.2" fill="rgb(141,255,0)"/><rect x="278.7" y="567.8" width="22.6" height="24.2" fill="rgb(155,255,0)"/><rect x="300.9" y="567.8" width="62.6" height="24.2" fill="rgb(141,255,0)"/><rect x="61.5" y="591.4" width="62.6" height="24.2" fill="rgb(102,178,0)"/><rect x="123.7" y="591.4" width="22.6" height="24.2" fill="rgb(155,255,0)"/><rect x="145.8" y="591.4" width="22.6" height="24.2" fill="rgb(141,255,0)"/><rect x="167.9" y="591.4" width="22.6" height="24.2" fill="rgb(141,255,0)"/><rect x="190.1" y="591.4" width="22.6" height="24.2" fill="rgb(141,255,0)"/><rect x="212.2" y="591.4" width="22.6" height="24.2" fill="rgb(155,255,0)"/><rect x="234.4" y="591.4" width="22.6" height="24.2" fill="rgb(141,255,0)"/><rect x="256.5" y="591.4" width="22.6" height="24.2" fill="rgb(141,255,0)"/><rect x="278.7" y="591.4" width="22.6" height="24.2" fill="rgb(141,255,0)"/><rect x="300.9" y="591.4" width="62.6" height="24.2" fill="rgb(141,255,0)"/><rect x="61.5" y="615.1" width="62.6" height="24.2" fill="rgb(102,178,0)"/><rect x="123.7" y="615.1" width="22.6" height="24.2" fill="rgb(141,255,0)"/><rect x="145.8" y="615.1" width="22.6" height="24.2" fill="rgb(155,255,0)"/><rect x="167.9" y="615.1" width="22.6" height="24.2" fill="rgb(155,255,0)"/><rect x="190.1" y="615.1" width="22.6" height="24.2" fill="rgb(141,255,0)"/><rect x="212.2" y="615.1" width="22.6" height="24.2" fill="rgb(141,255,0)"/><rect x="234.4" y="615.1" width="22.6" height="24.2" fill="rgb(141,255,0)"/><rect x="256.5" y="615.1" width="22.6" height="24.2" fill="rgb(155,255,0)"/><rect x="278.7" y="615.1" width="22.6" height="24.2" fill="rgb(155,255,0)"/><rect x="300.9" y="615.1" width="62.6" height="24.2" fill="rgb(141,255,0)"/><rect x="61.5" y="638.8" width="62.6" height="64.2" fill="rgb(121,204,0)"/><rect x="123.7" y="638.8" width="22.6" height="64.2" fill="rgb(141,255,0)"/><rect x="145.8" y="638.8" width="22.6" height="64.2" fill="rgb(155,255,0)"/><rect x="167.9" y="638.8" width="22.6" height="64.2" fill="rgb(155,255,0)"/><rect x="190.1" y="638.8" width="22.6" height="64.2" fill="rgb(167,255,0)"/><rect x="212.2" y="638.8" width="22.6" height="64.2" fill="rgb(167,255,0)"/><rect x="234.4" y="638.8" width="22.6" height="64.2" fill="rgb(155,255,0)"/><rect x="256.5" y="638.8" width="22.6" height="64.2" fill="rgb(155,255,0)"/><rect x="278.7" y="638.8" width="22.6" height="64.2" fill="rgb(141,255,0)"/><rect x="300.9" y="638.8" width="62.6" height="64.2" fill="rgb(102,178,0)"/></g><ellipse cx="220.5" cy="642.0" rx="10" ry="4" fill="#ff3000" filter="url(#sb)"/><ellipse cx="287.5" cy="635.0" rx="4" ry="7" fill="#ff4000" filter="url(#sb)"/><use href="#bd" x="101.5" y="473.0"/></g><filter id="f21" filterUnits="userSpaceOnUse" x="354.4" y="433.0" width="301.5" height="269.5" color-interpolation-filters="sRGB"><feGaussianBlur in="SourceGraphic" stdDeviation="6" result="b"/><feColorMatrix in="b" type="matrix" values="1 0 0 0 0 1 0 0 0 0 1 0 0 0 0 0 0 0 0 1" result="val"/><feColorMatrix in="b" type="matrix" values="0 1 0 0 0 0 1 0 0 0 0 1 0 0 0 0 0 0 0 1" result="amp"/><feTurbulence type="fractalNoise" baseFrequency="0.19" numOctaves="2" seed="12" result="t"/><feColorMatrix in="t" type="matrix" values="1 0 0 0 0 1 0 0 0 0 1 0 0 0 0 0 0 0 0 1" result="tg0"/><feComponentTransfer in="tg0" result="tg"><feFuncR type="table" tableValues="0 0.12 0.25 0.36 0.45 0.5 0.55 0.7 0.84 0.95 1"/><feFuncG type="table" tableValues="0 0.12 0.25 0.36 0.45 0.5 0.55 0.7 0.84 0.95 1"/><feFuncB type="table" tableValues="0 0.12 0.25 0.36 0.45 0.5 0.55 0.7 0.84 0.95 1"/></feComponentTransfer><feComposite in="amp" in2="tg" operator="arithmetic" k1="1" k2="-0.5" k3="0" k4="0.5" result="nm"/><feComposite in="val" in2="nm" operator="arithmetic" k1="0" k2="1" k3="1.25" k4="-0.625" result="sum"/><feComponentTransfer><feFuncR type="table" tableValues="0.855 0.866 0.877 0.888 0.898 0.909 0.920 0.931 0.942 0.953 0.964 0.975 0.985 0.996 0.954 0.884 0.814 0.745 0.675 0.605 0.536 0.466 0.396 0.327 0.257 0.187 0.117 0.048 0.000 0.000 0.000 0.000 0.000 0.000 0.000 0.000 0.000 0.000 0.000 0.000 0.000 0.000 0.000 0.000 0.000 0.000 0.000 0.000 0.000 0.000 0.000 0.000 0.000 0.000 0.000 0.000 0.000 0.000 0.000 0.000 0.000 0.000 0.000 0.000 0.000 0.285 0.409 0.454 0.499 0.544 0.589 0.633 0.678 0.728 0.778 0.829 0.880 0.931 0.982 1.000 1.000 1.000 1.000 1.000 1.000 1.000 1.000 1.000 1.000 1.000 1.000 1.000 1.000 1.000 1.000 1.000 1.000 1.000 1.000 1.000 1.000 1.000 1.000 1.000 1.000 1.000 1.000 1.000 1.000 1.000 1.000 1.000 0.988 0.974 0.961 0.947 0.933 0.915 0.874 0.832 0.791 0.750 0.708 0.667 0.626 0.585 0.543 0.502"/><feFuncG type="table" tableValues="0.835 0.848 0.860 0.872 0.885 0.897 0.909 0.922 0.934 0.946 0.959 0.971 0.984 0.996 1.000 1.000 1.000 1.000 1.000 1.000 1.000 1.000 1.000 1.000 1.000 1.000 1.000 1.000 1.000 1.000 1.000 1.000 1.000 1.000 1.000 1.000 1.000 1.000 1.000 1.000 1.000 1.000 1.000 1.000 1.000 1.000 1.000 1.000 1.000 1.000 1.000 1.000 1.000 1.000 1.000 1.000 1.000 1.000 1.000 1.000 1.000 1.000 1.000 1.000 1.000 1.000 1.000 1.000 1.000 1.000 1.000 1.000 1.000 1.000 1.000 1.000 1.000 1.000 1.000 0.981 0.952 0.923 0.894 0.865 0.836 0.807 0.778 0.750 0.727 0.704 0.680 0.657 0.629 0.596 0.563 0.530 0.498 0.465 0.432 0.399 0.366 0.333 0.301 0.268 0.235 0.202 0.169 0.136 0.103 0.070 0.037 0.004 0.000 0.000 0.000 0.000 0.000 0.000 0.000 0.000 0.000 0.000 0.000 0.000 0.000 0.000 0.000 0.000"/><feFuncB type="table" tableValues="0.816 0.830 0.843 0.857 0.871 0.885 0.899 0.912 0.926 0.940 0.954 0.968 0.982 0.995 1.000 1.000 1.000 1.000 1.000 1.000 1.000 1.000 1.000 1.000 1.000 1.000 1.000 1.000 1.000 1.000 1.000 1.000 1.000 1.000 1.000 1.000 1.000 1.000 1.000 1.000 1.000 1.000 1.000 1.000 1.000 1.000 0.999 0.965 0.930 0.896 0.862 0.827 0.793 0.759 0.724 0.690 0.656 0.621 0.587 0.553 0.518 0.484 0.450 0.415 0.381 0.329 0.281 0.236 0.191 0.147 0.102 0.057 0.012 0.000 0.000 0.000 0.000 0.000 0.000 0.000 0.000 0.000 0.000 0.000 0.000 0.000 0.000 0.000 0.000 0.000 0.000 0.000 0.000 0.000 0.000 0.000 0.000 0.000 0.000 0.000 0.000 0.000 0.000 0.000 0.000 0.000 0.000 0.000 0.000 0.000 0.000 0.000 0.000 0.000 0.000 0.000 0.000 0.000 0.000 0.000 0.000 0.000 0.000 0.000 0.000 0.000 0.000 0.000"/></feComponentTransfer><feGaussianBlur stdDeviation="0.6"/></filter><clipPath id="cf21"><rect x="394.4" y="473.0" width="221.5" height="189.5"/></clipPath><g clip-path="url(#cf21)"><g filter="url(#f21)"><rect x="354.4" y="433.0" width="62.6" height="64.2" fill="rgb(136,71,0)"/><rect x="416.5" y="433.0" width="22.6" height="64.2" fill="rgb(136,71,0)"/><rect x="438.7" y="433.0" width="22.6" height="64.2" fill="rgb(136,71,0)"/><rect x="460.8" y="433.0" width="22.6" height="64.2" fill="rgb(136,71,0)"/><rect x="483.0" y="433.0" width="22.6" height="64.2" fill="rgb(136,71,0)"/><rect x="505.1" y="433.0" width="22.6" height="64.2" fill="rgb(136,71,0)"/><rect x="527.3" y="433.0" width="22.6" height="64.2" fill="rgb(136,71,0)"/><rect x="549.4" y="433.0" width="22.6" height="64.2" fill="rgb(136,71,0)"/><rect x="571.6" y="433.0" width="22.6" height="64.2" fill="rgb(136,71,0)"/><rect x="593.8" y="433.0" width="62.6" height="64.2" fill="rgb(136,71,0)"/><rect x="354.4" y="496.7" width="62.6" height="24.2" fill="rgb(136,71,0)"/><rect x="416.5" y="496.7" width="22.6" height="24.2" fill="rgb(136,71,0)"/><rect x="438.7" y="496.7" width="22.6" height="24.2" fill="rgb(136,71,0)"/><rect x="460.8" y="496.7" width="22.6" height="24.2" fill="rgb(136,71,0)"/><rect x="483.0" y="496.7" width="22.6" height="24.2" fill="rgb(136,71,0)"/><rect x="505.1" y="496.7" width="22.6" height="24.2" fill="rgb(146,133,0)"/><rect x="527.3" y="496.7" width="22.6" height="24.2" fill="rgb(146,133,0)"/><rect x="549.4" y="496.7" width="22.6" height="24.2" fill="rgb(146,133,0)"/><rect x="571.6" y="496.7" width="22.6" height="24.2" fill="rgb(146,133,0)"/><rect x="593.8" y="496.7" width="62.6" height="24.2" fill="rgb(136,71,0)"/><rect x="354.4" y="520.4" width="62.6" height="24.2" fill="rgb(146,133,0)"/><rect x="416.5" y="520.4" width="22.6" height="24.2" fill="rgb(136,71,0)"/><rect x="438.7" y="520.4" width="22.6" height="24.2" fill="rgb(136,71,0)"/><rect x="460.8" y="520.4" width="22.6" height="24.2" fill="rgb(146,133,0)"/><rect x="483.0" y="520.4" width="22.6" height="24.2" fill="rgb(146,133,0)"/><rect x="505.1" y="520.4" width="22.6" height="24.2" fill="rgb(157,168,0)"/><rect x="527.3" y="520.4" width="22.6" height="24.2" fill="rgb(146,133,0)"/><rect x="549.4" y="520.4" width="22.6" height="24.2" fill="rgb(146,133,0)"/><rect x="571.6" y="520.4" width="22.6" height="24.2" fill="rgb(146,133,0)"/><rect x="593.8" y="520.4" width="62.6" height="24.2" fill="rgb(136,71,0)"/><rect x="354.4" y="544.1" width="62.6" height="24.2" fill="rgb(161,255,0)"/><rect x="416.5" y="544.1" width="22.6" height="24.2" fill="rgb(161,255,0)"/><rect x="438.7" y="544.1" width="22.6" height="24.2" fill="rgb(162,204,0)"/><rect x="460.8" y="544.1" width="22.6" height="24.2" fill="rgb(146,133,0)"/><rect x="483.0" y="544.1" width="22.6" height="24.2" fill="rgb(146,133,0)"/><rect x="505.1" y="544.1" width="22.6" height="24.2" fill="rgb(146,133,0)"/><rect x="527.3" y="544.1" width="22.6" height="24.2" fill="rgb(157,168,0)"/><rect x="549.4" y="544.1" width="22.6" height="24.2" fill="rgb(146,133,0)"/><rect x="571.6" y="544.1" width="22.6" height="24.2" fill="rgb(146,133,0)"/><rect x="593.8" y="544.1" width="62.6" height="24.2" fill="rgb(136,71,0)"/><rect x="354.4" y="567.8" width="62.6" height="24.2" fill="rgb(161,255,0)"/><rect x="416.5" y="567.8" width="22.6" height="24.2" fill="rgb(161,255,0)"/><rect x="438.7" y="567.8" width="22.6" height="24.2" fill="rgb(162,204,0)"/><rect x="460.8" y="567.8" width="22.6" height="24.2" fill="rgb(157,168,0)"/><rect x="483.0" y="567.8" width="22.6" height="24.2" fill="rgb(157,168,0)"/><rect x="505.1" y="567.8" width="22.6" height="24.2" fill="rgb(146,133,0)"/><rect x="527.3" y="567.8" width="22.6" height="24.2" fill="rgb(146,133,0)"/><rect x="549.4" y="567.8" width="22.6" height="24.2" fill="rgb(157,168,0)"/><rect x="571.6" y="567.8" width="22.6" height="24.2" fill="rgb(146,133,0)"/><rect x="593.8" y="567.8" width="62.6" height="24.2" fill="rgb(136,71,0)"/><rect x="354.4" y="591.4" width="62.6" height="24.2" fill="rgb(161,255,0)"/><rect x="416.5" y="591.4" width="22.6" height="24.2" fill="rgb(161,255,0)"/><rect x="438.7" y="591.4" width="22.6" height="24.2" fill="rgb(157,168,0)"/><rect x="460.8" y="591.4" width="22.6" height="24.2" fill="rgb(157,168,0)"/><rect x="483.0" y="591.4" width="22.6" height="24.2" fill="rgb(146,133,0)"/><rect x="505.1" y="591.4" width="22.6" height="24.2" fill="rgb(146,133,0)"/><rect x="527.3" y="591.4" width="22.6" height="24.2" fill="rgb(157,168,0)"/><rect x="549.4" y="591.4" width="22.6" height="24.2" fill="rgb(146,133,0)"/><rect x="571.6" y="591.4" width="22.6" height="24.2" fill="rgb(136,71,0)"/><rect x="593.8" y="591.4" width="62.6" height="24.2" fill="rgb(136,71,0)"/><rect x="354.4" y="615.1" width="62.6" height="24.2" fill="rgb(162,204,0)"/><rect x="416.5" y="615.1" width="22.6" height="24.2" fill="rgb(162,204,0)"/><rect x="438.7" y="615.1" width="22.6" height="24.2" fill="rgb(157,168,0)"/><rect x="460.8" y="615.1" width="22.6" height="24.2" fill="rgb(157,168,0)"/><rect x="483.0" y="615.1" width="22.6" height="24.2" fill="rgb(146,133,0)"/><rect x="505.1" y="615.1" width="22.6" height="24.2" fill="rgb(146,133,0)"/><rect x="527.3" y="615.1" width="22.6" height="24.2" fill="rgb(146,133,0)"/><rect x="549.4" y="615.1" width="22.6" height="24.2" fill="rgb(146,133,0)"/><rect x="571.6" y="615.1" width="22.6" height="24.2" fill="rgb(136,71,0)"/><rect x="593.8" y="615.1" width="62.6" height="24.2" fill="rgb(136,71,0)"/><rect x="354.4" y="638.8" width="62.6" height="64.2" fill="rgb(162,204,0)"/><rect x="416.5" y="638.8" width="22.6" height="64.2" fill="rgb(162,204,0)"/><rect x="438.7" y="638.8" width="22.6" height="64.2" fill="rgb(157,168,0)"/><rect x="460.8" y="638.8" width="22.6" height="64.2" fill="rgb(157,168,0)"/><rect x="483.0" y="638.8" width="22.6" height="64.2" fill="rgb(157,168,0)"/><rect x="505.1" y="638.8" width="22.6" height="64.2" fill="rgb(146,133,0)"/><rect x="527.3" y="638.8" width="22.6" height="64.2" fill="rgb(146,133,0)"/><rect x="549.4" y="638.8" width="22.6" height="64.2" fill="rgb(136,71,0)"/><rect x="571.6" y="638.8" width="22.6" height="64.2" fill="rgb(136,71,0)"/><rect x="593.8" y="638.8" width="62.6" height="64.2" fill="rgb(136,71,0)"/></g><use href="#bd" x="394.4" y="473.0"/></g><filter id="f22" filterUnits="userSpaceOnUse" x="645.2" y="433.0" width="301.5" height="269.5" color-interpolation-filters="sRGB"><feGaussianBlur in="SourceGraphic" stdDeviation="6" result="b"/><feColorMatrix in="b" type="matrix" values="1 0 0 0 0 1 0 0 0 0 1 0 0 0 0 0 0 0 0 1" result="val"/><feColorMatrix in="b" type="matrix" values="0 1 0 0 0 0 1 0 0 0 0 1 0 0 0 0 0 0 0 1" result="amp"/><feTurbulence type="fractalNoise" baseFrequency="0.15 0.22" numOctaves="2" seed="13" result="t"/><feColorMatrix in="t" type="matrix" values="1 0 0 0 0 1 0 0 0 0 1 0 0 0 0 0 0 0 0 1" result="tg0"/><feOffset in="tg0" dx="0" dy="0" result="tg"/><feComposite in="amp" in2="tg" operator="arithmetic" k1="1" k2="-0.5" k3="0" k4="0.5" result="nm"/><feComposite in="val" in2="nm" operator="arithmetic" k1="0" k2="1" k3="0.9" k4="-0.450" result="sum"/><feComponentTransfer><feFuncR type="table" tableValues="0.855 0.866 0.877 0.888 0.898 0.909 0.920 0.931 0.942 0.953 0.964 0.975 0.985 0.996 0.954 0.884 0.814 0.745 0.675 0.605 0.536 0.466 0.396 0.327 0.257 0.187 0.117 0.048 0.000 0.000 0.000 0.000 0.000 0.000 0.000 0.000 0.000 0.000 0.000 0.000 0.000 0.000 0.000 0.000 0.000 0.000 0.000 0.000 0.000 0.000 0.000 0.000 0.000 0.000 0.000 0.000 0.000 0.000 0.000 0.000 0.000 0.000 0.000 0.000 0.000 0.285 0.409 0.454 0.499 0.544 0.589 0.633 0.678 0.728 0.778 0.829 0.880 0.931 0.982 1.000 1.000 1.000 1.000 1.000 1.000 1.000 1.000 1.000 1.000 1.000 1.000 1.000 1.000 1.000 1.000 1.000 1.000 1.000 1.000 1.000 1.000 1.000 1.000 1.000 1.000 1.000 1.000 1.000 1.000 1.000 1.000 1.000 0.988 0.974 0.961 0.947 0.933 0.915 0.874 0.832 0.791 0.750 0.708 0.667 0.626 0.585 0.543 0.502"/><feFuncG type="table" tableValues="0.835 0.848 0.860 0.872 0.885 0.897 0.909 0.922 0.934 0.946 0.959 0.971 0.984 0.996 1.000 1.000 1.000 1.000 1.000 1.000 1.000 1.000 1.000 1.000 1.000 1.000 1.000 1.000 1.000 1.000 1.000 1.000 1.000 1.000 1.000 1.000 1.000 1.000 1.000 1.000 1.000 1.000 1.000 1.000 1.000 1.000 1.000 1.000 1.000 1.000 1.000 1.000 1.000 1.000 1.000 1.000 1.000 1.000 1.000 1.000 1.000 1.000 1.000 1.000 1.000 1.000 1.000 1.000 1.000 1.000 1.000 1.000 1.000 1.000 1.000 1.000 1.000 1.000 1.000 0.981 0.952 0.923 0.894 0.865 0.836 0.807 0.778 0.750 0.727 0.704 0.680 0.657 0.629 0.596 0.563 0.530 0.498 0.465 0.432 0.399 0.366 0.333 0.301 0.268 0.235 0.202 0.169 0.136 0.103 0.070 0.037 0.004 0.000 0.000 0.000 0.000 0.000 0.000 0.000 0.000 0.000 0.000 0.000 0.000 0.000 0.000 0.000 0.000"/><feFuncB type="table" tableValues="0.816 0.830 0.843 0.857 0.871 0.885 0.899 0.912 0.926 0.940 0.954 0.968 0.982 0.995 1.000 1.000 1.000 1.000 1.000 1.000 1.000 1.000 1.000 1.000 1.000 1.000 1.000 1.000 1.000 1.000 1.000 1.000 1.000 1.000 1.000 1.000 1.000 1.000 1.000 1.000 1.000 1.000 1.000 1.000 1.000 1.000 0.999 0.965 0.930 0.896 0.862 0.827 0.793 0.759 0.724 0.690 0.656 0.621 0.587 0.553 0.518 0.484 0.450 0.415 0.381 0.329 0.281 0.236 0.191 0.147 0.102 0.057 0.012 0.000 0.000 0.000 0.000 0.000 0.000 0.000 0.000 0.000 0.000 0.000 0.000 0.000 0.000 0.000 0.000 0.000 0.000 0.000 0.000 0.000 0.000 0.000 0.000 0.000 0.000 0.000 0.000 0.000 0.000 0.000 0.000 0.000 0.000 0.000 0.000 0.000 0.000 0.000 0.000 0.000 0.000 0.000 0.000 0.000 0.000 0.000 0.000 0.000 0.000 0.000 0.000 0.000 0.000 0.000"/></feComponentTransfer><feGaussianBlur stdDeviation="0.6"/></filter><clipPath id="cf22"><rect x="685.2" y="473.0" width="221.5" height="189.5"/></clipPath><g clip-path="url(#cf22)"><g filter="url(#f22)"><rect x="645.2" y="433.0" width="62.6" height="64.2" fill="rgb(57,204,0)"/><rect x="707.4" y="433.0" width="22.6" height="64.2" fill="rgb(57,204,0)"/><rect x="729.5" y="433.0" width="22.6" height="64.2" fill="rgb(57,204,0)"/><rect x="751.7" y="433.0" width="22.6" height="64.2" fill="rgb(57,204,0)"/><rect x="773.8" y="433.0" width="22.6" height="64.2" fill="rgb(57,204,0)"/><rect x="796.0" y="433.0" width="22.6" height="64.2" fill="rgb(57,204,0)"/><rect x="818.1" y="433.0" width="22.6" height="64.2" fill="rgb(57,204,0)"/><rect x="840.2" y="433.0" width="22.6" height="64.2" fill="rgb(57,204,0)"/><rect x="862.4" y="433.0" width="22.6" height="64.2" fill="rgb(102,178,0)"/><rect x="884.6" y="433.0" width="62.6" height="64.2" fill="rgb(102,178,0)"/><rect x="645.2" y="496.7" width="62.6" height="24.2" fill="rgb(57,204,0)"/><rect x="707.4" y="496.7" width="22.6" height="24.2" fill="rgb(57,204,0)"/><rect x="729.5" y="496.7" width="22.6" height="24.2" fill="rgb(57,204,0)"/><rect x="751.7" y="496.7" width="22.6" height="24.2" fill="rgb(57,204,0)"/><rect x="773.8" y="496.7" width="22.6" height="24.2" fill="rgb(57,204,0)"/><rect x="796.0" y="496.7" width="22.6" height="24.2" fill="rgb(76,153,0)"/><rect x="818.1" y="496.7" width="22.6" height="24.2" fill="rgb(164,204,0)"/><rect x="840.2" y="496.7" width="22.6" height="24.2" fill="rgb(164,204,0)"/><rect x="862.4" y="496.7" width="22.6" height="24.2" fill="rgb(141,204,0)"/><rect x="884.6" y="496.7" width="62.6" height="24.2" fill="rgb(141,204,0)"/><rect x="645.2" y="520.4" width="62.6" height="24.2" fill="rgb(38,204,0)"/><rect x="707.4" y="520.4" width="22.6" height="24.2" fill="rgb(76,153,0)"/><rect x="729.5" y="520.4" width="22.6" height="24.2" fill="rgb(76,153,0)"/><rect x="751.7" y="520.4" width="22.6" height="24.2" fill="rgb(76,153,0)"/><rect x="773.8" y="520.4" width="22.6" height="24.2" fill="rgb(76,153,0)"/><rect x="796.0" y="520.4" width="22.6" height="24.2" fill="rgb(102,178,0)"/><rect x="818.1" y="520.4" width="22.6" height="24.2" fill="rgb(175,217,0)"/><rect x="840.2" y="520.4" width="22.6" height="24.2" fill="rgb(164,204,0)"/><rect x="862.4" y="520.4" width="22.6" height="24.2" fill="rgb(154,204,0)"/><rect x="884.6" y="520.4" width="62.6" height="24.2" fill="rgb(141,204,0)"/><rect x="645.2" y="544.1" width="62.6" height="24.2" fill="rgb(57,204,0)"/><rect x="707.4" y="544.1" width="22.6" height="24.2" fill="rgb(164,204,0)"/><rect x="729.5" y="544.1" width="22.6" height="24.2" fill="rgb(76,153,0)"/><rect x="751.7" y="544.1" width="22.6" height="24.2" fill="rgb(102,178,0)"/><rect x="773.8" y="544.1" width="22.6" height="24.2" fill="rgb(154,204,0)"/><rect x="796.0" y="544.1" width="22.6" height="24.2" fill="rgb(175,217,0)"/><rect x="818.1" y="544.1" width="22.6" height="24.2" fill="rgb(175,217,0)"/><rect x="840.2" y="544.1" width="22.6" height="24.2" fill="rgb(175,217,0)"/><rect x="862.4" y="544.1" width="22.6" height="24.2" fill="rgb(154,204,0)"/><rect x="884.6" y="544.1" width="62.6" height="24.2" fill="rgb(102,178,0)"/><rect x="645.2" y="567.8" width="62.6" height="24.2" fill="rgb(57,204,0)"/><rect x="707.4" y="567.8" width="22.6" height="24.2" fill="rgb(175,217,0)"/><rect x="729.5" y="567.8" width="22.6" height="24.2" fill="rgb(164,204,0)"/><rect x="751.7" y="567.8" width="22.6" height="24.2" fill="rgb(141,204,0)"/><rect x="773.8" y="567.8" width="22.6" height="24.2" fill="rgb(102,178,0)"/><rect x="796.0" y="567.8" width="22.6" height="24.2" fill="rgb(175,217,0)"/><rect x="818.1" y="567.8" width="22.6" height="24.2" fill="rgb(164,204,0)"/><rect x="840.2" y="567.8" width="22.6" height="24.2" fill="rgb(175,217,0)"/><rect x="862.4" y="567.8" width="22.6" height="24.2" fill="rgb(175,217,0)"/><rect x="884.6" y="567.8" width="62.6" height="24.2" fill="rgb(102,178,0)"/><rect x="645.2" y="591.4" width="62.6" height="24.2" fill="rgb(57,204,0)"/><rect x="707.4" y="591.4" width="22.6" height="24.2" fill="rgb(164,204,0)"/><rect x="729.5" y="591.4" width="22.6" height="24.2" fill="rgb(76,153,0)"/><rect x="751.7" y="591.4" width="22.6" height="24.2" fill="rgb(102,178,0)"/><rect x="773.8" y="591.4" width="22.6" height="24.2" fill="rgb(164,204,0)"/><rect x="796.0" y="591.4" width="22.6" height="24.2" fill="rgb(175,217,0)"/><rect x="818.1" y="591.4" width="22.6" height="24.2" fill="rgb(175,217,0)"/><rect x="840.2" y="591.4" width="22.6" height="24.2" fill="rgb(164,204,0)"/><rect x="862.4" y="591.4" width="22.6" height="24.2" fill="rgb(154,204,0)"/><rect x="884.6" y="591.4" width="62.6" height="24.2" fill="rgb(102,178,0)"/><rect x="645.2" y="615.1" width="62.6" height="24.2" fill="rgb(76,153,0)"/><rect x="707.4" y="615.1" width="22.6" height="24.2" fill="rgb(76,153,0)"/><rect x="729.5" y="615.1" width="22.6" height="24.2" fill="rgb(102,178,0)"/><rect x="751.7" y="615.1" width="22.6" height="24.2" fill="rgb(141,204,0)"/><rect x="773.8" y="615.1" width="22.6" height="24.2" fill="rgb(164,204,0)"/><rect x="796.0" y="615.1" width="22.6" height="24.2" fill="rgb(175,217,0)"/><rect x="818.1" y="615.1" width="22.6" height="24.2" fill="rgb(154,204,0)"/><rect x="840.2" y="615.1" width="22.6" height="24.2" fill="rgb(164,204,0)"/><rect x="862.4" y="615.1" width="22.6" height="24.2" fill="rgb(102,178,0)"/><rect x="884.6" y="615.1" width="62.6" height="24.2" fill="rgb(76,153,0)"/><rect x="645.2" y="638.8" width="62.6" height="64.2" fill="rgb(102,178,0)"/><rect x="707.4" y="638.8" width="22.6" height="64.2" fill="rgb(141,204,0)"/><rect x="729.5" y="638.8" width="22.6" height="64.2" fill="rgb(154,204,0)"/><rect x="751.7" y="638.8" width="22.6" height="64.2" fill="rgb(164,204,0)"/><rect x="773.8" y="638.8" width="22.6" height="64.2" fill="rgb(175,217,0)"/><rect x="796.0" y="638.8" width="22.6" height="64.2" fill="rgb(175,217,0)"/><rect x="818.1" y="638.8" width="22.6" height="64.2" fill="rgb(164,204,0)"/><rect x="840.2" y="638.8" width="22.6" height="64.2" fill="rgb(128,204,0)"/><rect x="862.4" y="638.8" width="22.6" height="64.2" fill="rgb(102,178,0)"/><rect x="884.6" y="638.8" width="62.6" height="64.2" fill="rgb(76,153,0)"/></g><ellipse cx="868.2" cy="573.0" rx="9" ry="6" fill="#c00000" filter="url(#sb)"/><ellipse cx="868.2" cy="574.0" rx="5" ry="3" fill="#700000" filter="url(#sb)"/><ellipse cx="803.2" cy="640.0" rx="11" ry="5" fill="#b00000" filter="url(#sb)"/><ellipse cx="803.2" cy="641.0" rx="6" ry="3" fill="#600000" filter="url(#sb)"/><ellipse cx="833.2" cy="514.0" rx="7" ry="4" fill="#ff3000" filter="url(#sb)"/><ellipse cx="721.2" cy="584.0" rx="7" ry="5" fill="#e00000" filter="url(#sb)"/><ellipse cx="870.2" cy="636.0" rx="3" ry="6" fill="#e00000" filter="url(#sb)"/><use href="#bd" x="685.2" y="473.0"/></g><filter id="f23" filterUnits="userSpaceOnUse" x="938.3" y="433.0" width="301.5" height="269.5" color-interpolation-filters="sRGB"><feGaussianBlur in="SourceGraphic" stdDeviation="6" result="b"/><feColorMatrix in="b" type="matrix" values="1 0 0 0 0 1 0 0 0 0 1 0 0 0 0 0 0 0 0 1" result="val"/><feColorMatrix in="b" type="matrix" values="0 1 0 0 0 0 1 0 0 0 0 1 0 0 0 0 0 0 0 1" result="amp"/><feTurbulence type="fractalNoise" baseFrequency="0.12 0.2" numOctaves="2" seed="14" result="t"/><feColorMatrix in="t" type="matrix" values="1 0 0 0 0 1 0 0 0 0 1 0 0 0 0 0 0 0 0 1" result="tg0"/><feOffset in="tg0" dx="0" dy="0" result="tg"/><feComposite in="amp" in2="tg" operator="arithmetic" k1="1" k2="-0.5" k3="0" k4="0.5" result="nm"/><feComposite in="val" in2="nm" operator="arithmetic" k1="0" k2="1" k3="0.95" k4="-0.475" result="sum"/><feComponentTransfer><feFuncR type="table" tableValues="0.855 0.866 0.877 0.888 0.898 0.909 0.920 0.931 0.942 0.953 0.964 0.975 0.985 0.996 0.954 0.884 0.814 0.745 0.675 0.605 0.536 0.466 0.396 0.327 0.257 0.187 0.117 0.048 0.000 0.000 0.000 0.000 0.000 0.000 0.000 0.000 0.000 0.000 0.000 0.000 0.000 0.000 0.000 0.000 0.000 0.000 0.000 0.000 0.000 0.000 0.000 0.000 0.000 0.000 0.000 0.000 0.000 0.000 0.000 0.000 0.000 0.000 0.000 0.000 0.000 0.285 0.409 0.454 0.499 0.544 0.589 0.633 0.678 0.728 0.778 0.829 0.880 0.931 0.982 1.000 1.000 1.000 1.000 1.000 1.000 1.000 1.000 1.000 1.000 1.000 1.000 1.000 1.000 1.000 1.000 1.000 1.000 1.000 1.000 1.000 1.000 1.000 1.000 1.000 1.000 1.000 1.000 1.000 1.000 1.000 1.000 1.000 0.988 0.974 0.961 0.947 0.933 0.915 0.874 0.832 0.791 0.750 0.708 0.667 0.626 0.585 0.543 0.502"/><feFuncG type="table" tableValues="0.835 0.848 0.860 0.872 0.885 0.897 0.909 0.922 0.934 0.946 0.959 0.971 0.984 0.996 1.000 1.000 1.000 1.000 1.000 1.000 1.000 1.000 1.000 1.000 1.000 1.000 1.000 1.000 1.000 1.000 1.000 1.000 1.000 1.000 1.000 1.000 1.000 1.000 1.000 1.000 1.000 1.000 1.000 1.000 1.000 1.000 1.000 1.000 1.000 1.000 1.000 1.000 1.000 1.000 1.000 1.000 1.000 1.000 1.000 1.000 1.000 1.000 1.000 1.000 1.000 1.000 1.000 1.000 1.000 1.000 1.000 1.000 1.000 1.000 1.000 1.000 1.000 1.000 1.000 0.981 0.952 0.923 0.894 0.865 0.836 0.807 0.778 0.750 0.727 0.704 0.680 0.657 0.629 0.596 0.563 0.530 0.498 0.465 0.432 0.399 0.366 0.333 0.301 0.268 0.235 0.202 0.169 0.136 0.103 0.070 0.037 0.004 0.000 0.000 0.000 0.000 0.000 0.000 0.000 0.000 0.000 0.000 0.000 0.000 0.000 0.000 0.000 0.000"/><feFuncB type="table" tableValues="0.816 0.830 0.843 0.857 0.871 0.885 0.899 0.912 0.926 0.940 0.954 0.968 0.982 0.995 1.000 1.000 1.000 1.000 1.000 1.000 1.000 1.000 1.000 1.000 1.000 1.000 1.000 1.000 1.000 1.000 1.000 1.000 1.000 1.000 1.000 1.000 1.000 1.000 1.000 1.000 1.000 1.000 1.000 1.000 1.000 1.000 0.999 0.965 0.930 0.896 0.862 0.827 0.793 0.759 0.724 0.690 0.656 0.621 0.587 0.553 0.518 0.484 0.450 0.415 0.381 0.329 0.281 0.236 0.191 0.147 0.102 0.057 0.012 0.000 0.000 0.000 0.000 0.000 0.000 0.000 0.000 0.000 0.000 0.000 0.000 0.000 0.000 0.000 0.000 0.000 0.000 0.000 0.000 0.000 0.000 0.000 0.000 0.000 0.000 0.000 0.000 0.000 0.000 0.000 0.000 0.000 0.000 0.000 0.000 0.000 0.000 0.000 0.000 0.000 0.000 0.000 0.000 0.000 0.000 0.000 0.000 0.000 0.000 0.000 0.000 0.000 0.000 0.000"/></feComponentTransfer><feGaussianBlur stdDeviation="0.6"/></filter><clipPath id="cf23"><rect x="978.3" y="473.0" width="221.5" height="189.5"/></clipPath><g clip-path="url(#cf23)"><g filter="url(#f23)"><rect x="938.3" y="433.0" width="62.6" height="64.2" fill="rgb(50,204,0)"/><rect x="1000.4" y="433.0" width="22.6" height="64.2" fill="rgb(50,204,0)"/><rect x="1022.6" y="433.0" width="22.6" height="64.2" fill="rgb(50,204,0)"/><rect x="1044.8" y="433.0" width="22.6" height="64.2" fill="rgb(50,204,0)"/><rect x="1066.9" y="433.0" width="22.6" height="64.2" fill="rgb(50,204,0)"/><rect x="1089.0" y="433.0" width="22.6" height="64.2" fill="rgb(50,204,0)"/><rect x="1111.2" y="433.0" width="22.6" height="64.2" fill="rgb(50,204,0)"/><rect x="1133.3" y="433.0" width="22.6" height="64.2" fill="rgb(50,204,0)"/><rect x="1155.5" y="433.0" width="22.6" height="64.2" fill="rgb(50,204,0)"/><rect x="1177.6" y="433.0" width="62.6" height="64.2" fill="rgb(102,178,0)"/><rect x="938.3" y="496.7" width="62.6" height="24.2" fill="rgb(50,204,0)"/><rect x="1000.4" y="496.7" width="22.6" height="24.2" fill="rgb(50,204,0)"/><rect x="1022.6" y="496.7" width="22.6" height="24.2" fill="rgb(50,204,0)"/><rect x="1044.8" y="496.7" width="22.6" height="24.2" fill="rgb(50,204,0)"/><rect x="1066.9" y="496.7" width="22.6" height="24.2" fill="rgb(50,204,0)"/><rect x="1089.0" y="496.7" width="22.6" height="24.2" fill="rgb(50,204,0)"/><rect x="1111.2" y="496.7" width="22.6" height="24.2" fill="rgb(102,178,0)"/><rect x="1133.3" y="496.7" width="22.6" height="24.2" fill="rgb(141,204,0)"/><rect x="1155.5" y="496.7" width="22.6" height="24.2" fill="rgb(102,178,0)"/><rect x="1177.6" y="496.7" width="62.6" height="24.2" fill="rgb(102,178,0)"/><rect x="938.3" y="520.4" width="62.6" height="24.2" fill="rgb(38,204,0)"/><rect x="1000.4" y="520.4" width="22.6" height="24.2" fill="rgb(50,204,0)"/><rect x="1022.6" y="520.4" width="22.6" height="24.2" fill="rgb(76,153,0)"/><rect x="1044.8" y="520.4" width="22.6" height="24.2" fill="rgb(76,153,0)"/><rect x="1066.9" y="520.4" width="22.6" height="24.2" fill="rgb(76,153,0)"/><rect x="1089.0" y="520.4" width="22.6" height="24.2" fill="rgb(102,178,0)"/><rect x="1111.2" y="520.4" width="22.6" height="24.2" fill="rgb(164,204,0)"/><rect x="1133.3" y="520.4" width="22.6" height="24.2" fill="rgb(141,204,0)"/><rect x="1155.5" y="520.4" width="22.6" height="24.2" fill="rgb(141,204,0)"/><rect x="1177.6" y="520.4" width="62.6" height="24.2" fill="rgb(50,204,0)"/><rect x="938.3" y="544.1" width="62.6" height="24.2" fill="rgb(50,204,0)"/><rect x="1000.4" y="544.1" width="22.6" height="24.2" fill="rgb(50,204,0)"/><rect x="1022.6" y="544.1" width="22.6" height="24.2" fill="rgb(76,153,0)"/><rect x="1044.8" y="544.1" width="22.6" height="24.2" fill="rgb(102,178,0)"/><rect x="1066.9" y="544.1" width="22.6" height="24.2" fill="rgb(102,178,0)"/><rect x="1089.0" y="544.1" width="22.6" height="24.2" fill="rgb(164,204,0)"/><rect x="1111.2" y="544.1" width="22.6" height="24.2" fill="rgb(164,204,0)"/><rect x="1133.3" y="544.1" width="22.6" height="24.2" fill="rgb(164,204,0)"/><rect x="1155.5" y="544.1" width="22.6" height="24.2" fill="rgb(154,204,0)"/><rect x="1177.6" y="544.1" width="62.6" height="24.2" fill="rgb(50,204,0)"/><rect x="938.3" y="567.8" width="62.6" height="24.2" fill="rgb(50,204,0)"/><rect x="1000.4" y="567.8" width="22.6" height="24.2" fill="rgb(102,178,0)"/><rect x="1022.6" y="567.8" width="22.6" height="24.2" fill="rgb(154,204,0)"/><rect x="1044.8" y="567.8" width="22.6" height="24.2" fill="rgb(102,178,0)"/><rect x="1066.9" y="567.8" width="22.6" height="24.2" fill="rgb(102,178,0)"/><rect x="1089.0" y="567.8" width="22.6" height="24.2" fill="rgb(164,204,0)"/><rect x="1111.2" y="567.8" width="22.6" height="24.2" fill="rgb(141,204,0)"/><rect x="1133.3" y="567.8" width="22.6" height="24.2" fill="rgb(154,204,0)"/><rect x="1155.5" y="567.8" width="22.6" height="24.2" fill="rgb(164,204,0)"/><rect x="1177.6" y="567.8" width="62.6" height="24.2" fill="rgb(76,153,0)"/><rect x="938.3" y="591.4" width="62.6" height="24.2" fill="rgb(50,204,0)"/><rect x="1000.4" y="591.4" width="22.6" height="24.2" fill="rgb(102,178,0)"/><rect x="1022.6" y="591.4" width="22.6" height="24.2" fill="rgb(141,204,0)"/><rect x="1044.8" y="591.4" width="22.6" height="24.2" fill="rgb(175,217,0)"/><rect x="1066.9" y="591.4" width="22.6" height="24.2" fill="rgb(141,204,0)"/><rect x="1089.0" y="591.4" width="22.6" height="24.2" fill="rgb(164,204,0)"/><rect x="1111.2" y="591.4" width="22.6" height="24.2" fill="rgb(154,204,0)"/><rect x="1133.3" y="591.4" width="22.6" height="24.2" fill="rgb(141,204,0)"/><rect x="1155.5" y="591.4" width="22.6" height="24.2" fill="rgb(141,204,0)"/><rect x="1177.6" y="591.4" width="62.6" height="24.2" fill="rgb(76,153,0)"/><rect x="938.3" y="615.1" width="62.6" height="24.2" fill="rgb(76,153,0)"/><rect x="1000.4" y="615.1" width="22.6" height="24.2" fill="rgb(76,153,0)"/><rect x="1022.6" y="615.1" width="22.6" height="24.2" fill="rgb(102,178,0)"/><rect x="1044.8" y="615.1" width="22.6" height="24.2" fill="rgb(164,204,0)"/><rect x="1066.9" y="615.1" width="22.6" height="24.2" fill="rgb(164,204,0)"/><rect x="1089.0" y="615.1" width="22.6" height="24.2" fill="rgb(141,204,0)"/><rect x="1111.2" y="615.1" width="22.6" height="24.2" fill="rgb(102,178,0)"/><rect x="1133.3" y="615.1" width="22.6" height="24.2" fill="rgb(154,204,0)"/><rect x="1155.5" y="615.1" width="22.6" height="24.2" fill="rgb(102,178,0)"/><rect x="1177.6" y="615.1" width="62.6" height="24.2" fill="rgb(50,204,0)"/><rect x="938.3" y="638.8" width="62.6" height="64.2" fill="rgb(102,178,0)"/><rect x="1000.4" y="638.8" width="22.6" height="64.2" fill="rgb(154,204,0)"/><rect x="1022.6" y="638.8" width="22.6" height="64.2" fill="rgb(164,204,0)"/><rect x="1044.8" y="638.8" width="22.6" height="64.2" fill="rgb(175,217,0)"/><rect x="1066.9" y="638.8" width="22.6" height="64.2" fill="rgb(175,217,0)"/><rect x="1089.0" y="638.8" width="22.6" height="64.2" fill="rgb(175,217,0)"/><rect x="1111.2" y="638.8" width="22.6" height="64.2" fill="rgb(141,204,0)"/><rect x="1133.3" y="638.8" width="22.6" height="64.2" fill="rgb(102,178,0)"/><rect x="1155.5" y="638.8" width="22.6" height="64.2" fill="rgb(50,204,0)"/><rect x="1177.6" y="638.8" width="62.6" height="64.2" fill="rgb(38,204,0)"/></g><ellipse cx="1094.3" cy="641.0" rx="10" ry="6" fill="#c00000" filter="url(#sb)"/><ellipse cx="1094.3" cy="641.0" rx="5" ry="3" fill="#600000" filter="url(#sb)"/><ellipse cx="1073.3" cy="655.0" rx="8" ry="4" fill="#d00000" filter="url(#sb)"/><ellipse cx="1045.3" cy="608.0" rx="4" ry="4" fill="#c00000" filter="url(#sb)"/><ellipse cx="1158.3" cy="576.0" rx="5" ry="4" fill="#e00000" filter="url(#sb)"/><use href="#bd" x="978.3" y="473.0"/></g><filter id="f30" filterUnits="userSpaceOnUse" x="61.5" y="641.4" width="301.5" height="269.5" color-interpolation-filters="sRGB"><feGaussianBlur in="SourceGraphic" stdDeviation="6" result="b"/><feColorMatrix in="b" type="matrix" values="1 0 0 0 0 1 0 0 0 0 1 0 0 0 0 0 0 0 0 1" result="val"/><feColorMatrix in="b" type="matrix" values="0 1 0 0 0 0 1 0 0 0 0 1 0 0 0 0 0 0 0 1" result="amp"/><feTurbulence type="fractalNoise" baseFrequency="0.18" numOctaves="2" seed="15" result="t"/><feColorMatrix in="t" type="matrix" values="1 0 0 0 0 1 0 0 0 0 1 0 0 0 0 0 0 0 0 1" result="tg0"/><feOffset in="tg0" dx="0" dy="0" result="tg"/><feComposite in="amp" in2="tg" operator="arithmetic" k1="1" k2="-0.5" k3="0" k4="0.5" result="nm"/><feComposite in="val" in2="nm" operator="arithmetic" k1="0" k2="1" k3="0.32" k4="-0.160" result="sum"/><feComponentTransfer><feFuncR type="table" tableValues="0.855 0.866 0.877 0.888 0.898 0.909 0.920 0.931 0.942 0.953 0.964 0.975 0.985 0.996 0.954 0.884 0.814 0.745 0.675 0.605 0.536 0.466 0.396 0.327 0.257 0.187 0.117 0.048 0.000 0.000 0.000 0.000 0.000 0.000 0.000 0.000 0.000 0.000 0.000 0.000 0.000 0.000 0.000 0.000 0.000 0.000 0.000 0.000 0.000 0.000 0.000 0.000 0.000 0.000 0.000 0.000 0.000 0.000 0.000 0.000 0.000 0.000 0.000 0.000 0.000 0.285 0.409 0.454 0.499 0.544 0.589 0.633 0.678 0.728 0.778 0.829 0.880 0.931 0.982 1.000 1.000 1.000 1.000 1.000 1.000 1.000 1.000 1.000 1.000 1.000 1.000 1.000 1.000 1.000 1.000 1.000 1.000 1.000 1.000 1.000 1.000 1.000 1.000 1.000 1.000 1.000 1.000 1.000 1.000 1.000 1.000 1.000 0.988 0.974 0.961 0.947 0.933 0.915 0.874 0.832 0.791 0.750 0.708 0.667 0.626 0.585 0.543 0.502"/><feFuncG type="table" tableValues="0.835 0.848 0.860 0.872 0.885 0.897 0.909 0.922 0.934 0.946 0.959 0.971 0.984 0.996 1.000 1.000 1.000 1.000 1.000 1.000 1.000 1.000 1.000 1.000 1.000 1.000 1.000 1.000 1.000 1.000 1.000 1.000 1.000 1.000 1.000 1.000 1.000 1.000 1.000 1.000 1.000 1.000 1.000 1.000 1.000 1.000 1.000 1.000 1.000 1.000 1.000 1.000 1.000 1.000 1.000 1.000 1.000 1.000 1.000 1.000 1.000 1.000 1.000 1.000 1.000 1.000 1.000 1.000 1.000 1.000 1.000 1.000 1.000 1.000 1.000 1.000 1.000 1.000 1.000 0.981 0.952 0.923 0.894 0.865 0.836 0.807 0.778 0.750 0.727 0.704 0.680 0.657 0.629 0.596 0.563 0.530 0.498 0.465 0.432 0.399 0.366 0.333 0.301 0.268 0.235 0.202 0.169 0.136 0.103 0.070 0.037 0.004 0.000 0.000 0.000 0.000 0.000 0.000 0.000 0.000 0.000 0.000 0.000 0.000 0.000 0.000 0.000 0.000"/><feFuncB type="table" tableValues="0.816 0.830 0.843 0.857 0.871 0.885 0.899 0.912 0.926 0.940 0.954 0.968 0.982 0.995 1.000 1.000 1.000 1.000 1.000 1.000 1.000 1.000 1.000 1.000 1.000 1.000 1.000 1.000 1.000 1.000 1.000 1.000 1.000 1.000 1.000 1.000 1.000 1.000 1.000 1.000 1.000 1.000 1.000 1.000 1.000 1.000 0.999 0.965 0.930 0.896 0.862 0.827 0.793 0.759 0.724 0.690 0.656 0.621 0.587 0.553 0.518 0.484 0.450 0.415 0.381 0.329 0.281 0.236 0.191 0.147 0.102 0.057 0.012 0.000 0.000 0.000 0.000 0.000 0.000 0.000 0.000 0.000 0.000 0.000 0.000 0.000 0.000 0.000 0.000 0.000 0.000 0.000 0.000 0.000 0.000 0.000 0.000 0.000 0.000 0.000 0.000 0.000 0.000 0.000 0.000 0.000 0.000 0.000 0.000 0.000 0.000 0.000 0.000 0.000 0.000 0.000 0.000 0.000 0.000 0.000 0.000 0.000 0.000 0.000 0.000 0.000 0.000 0.000"/></feComponentTransfer><feGaussianBlur stdDeviation="0.6"/></filter><clipPath id="cf30"><rect x="101.5" y="681.4" width="221.5" height="189.5"/></clipPath><g clip-path="url(#cf30)"><g filter="url(#f30)"><rect x="61.5" y="641.4" width="62.6" height="64.2" fill="rgb(141,255,0)"/><rect x="123.7" y="641.4" width="22.6" height="64.2" fill="rgb(121,204,0)"/><rect x="145.8" y="641.4" width="22.6" height="64.2" fill="rgb(102,178,0)"/><rect x="167.9" y="641.4" width="22.6" height="64.2" fill="rgb(102,178,0)"/><rect x="190.1" y="641.4" width="22.6" height="64.2" fill="rgb(102,178,0)"/><rect x="212.2" y="641.4" width="22.6" height="64.2" fill="rgb(141,255,0)"/><rect x="234.4" y="641.4" width="22.6" height="64.2" fill="rgb(141,255,0)"/><rect x="256.5" y="641.4" width="22.6" height="64.2" fill="rgb(102,178,0)"/><rect x="278.7" y="641.4" width="22.6" height="64.2" fill="rgb(102,178,0)"/><rect x="300.9" y="641.4" width="62.6" height="64.2" fill="rgb(155,255,0)"/><rect x="61.5" y="705.1" width="62.6" height="24.2" fill="rgb(102,178,0)"/><rect x="123.7" y="705.1" width="22.6" height="24.2" fill="rgb(121,204,0)"/><rect x="145.8" y="705.1" width="22.6" height="24.2" fill="rgb(141,255,0)"/><rect x="167.9" y="705.1" width="22.6" height="24.2" fill="rgb(141,255,0)"/><rect x="190.1" y="705.1" width="22.6" height="24.2" fill="rgb(141,255,0)"/><rect x="212.2" y="705.1" width="22.6" height="24.2" fill="rgb(155,255,0)"/><rect x="234.4" y="705.1" width="22.6" height="24.2" fill="rgb(102,178,0)"/><rect x="256.5" y="705.1" width="22.6" height="24.2" fill="rgb(102,178,0)"/><rect x="278.7" y="705.1" width="22.6" height="24.2" fill="rgb(141,255,0)"/><rect x="300.9" y="705.1" width="62.6" height="24.2" fill="rgb(141,255,0)"/><rect x="61.5" y="728.8" width="62.6" height="24.2" fill="rgb(155,255,0)"/><rect x="123.7" y="728.8" width="22.6" height="24.2" fill="rgb(141,255,0)"/><rect x="145.8" y="728.8" width="22.6" height="24.2" fill="rgb(141,255,0)"/><rect x="167.9" y="728.8" width="22.6" height="24.2" fill="rgb(102,178,0)"/><rect x="190.1" y="728.8" width="22.6" height="24.2" fill="rgb(141,255,0)"/><rect x="212.2" y="728.8" width="22.6" height="24.2" fill="rgb(155,255,0)"/><rect x="234.4" y="728.8" width="22.6" height="24.2" fill="rgb(121,204,0)"/><rect x="256.5" y="728.8" width="22.6" height="24.2" fill="rgb(121,204,0)"/><rect x="278.7" y="728.8" width="22.6" height="24.2" fill="rgb(121,204,0)"/><rect x="300.9" y="728.8" width="62.6" height="24.2" fill="rgb(128,255,0)"/><rect x="61.5" y="752.5" width="62.6" height="24.2" fill="rgb(155,255,0)"/><rect x="123.7" y="752.5" width="22.6" height="24.2" fill="rgb(141,255,0)"/><rect x="145.8" y="752.5" width="22.6" height="24.2" fill="rgb(155,255,0)"/><rect x="167.9" y="752.5" width="22.6" height="24.2" fill="rgb(102,178,0)"/><rect x="190.1" y="752.5" width="22.6" height="24.2" fill="rgb(128,255,0)"/><rect x="212.2" y="752.5" width="22.6" height="24.2" fill="rgb(141,255,0)"/><rect x="234.4" y="752.5" width="22.6" height="24.2" fill="rgb(121,204,0)"/><rect x="256.5" y="752.5" width="22.6" height="24.2" fill="rgb(102,178,0)"/><rect x="278.7" y="752.5" width="22.6" height="24.2" fill="rgb(128,255,0)"/><rect x="300.9" y="752.5" width="62.6" height="24.2" fill="rgb(155,255,0)"/><rect x="61.5" y="776.1" width="62.6" height="24.2" fill="rgb(178,255,0)"/><rect x="123.7" y="776.1" width="22.6" height="24.2" fill="rgb(155,255,0)"/><rect x="145.8" y="776.1" width="22.6" height="24.2" fill="rgb(178,255,0)"/><rect x="167.9" y="776.1" width="22.6" height="24.2" fill="rgb(141,255,0)"/><rect x="190.1" y="776.1" width="22.6" height="24.2" fill="rgb(121,204,0)"/><rect x="212.2" y="776.1" width="22.6" height="24.2" fill="rgb(128,255,0)"/><rect x="234.4" y="776.1" width="22.6" height="24.2" fill="rgb(102,178,0)"/><rect x="256.5" y="776.1" width="22.6" height="24.2" fill="rgb(128,255,0)"/><rect x="278.7" y="776.1" width="22.6" height="24.2" fill="rgb(128,255,0)"/><rect x="300.9" y="776.1" width="62.6" height="24.2" fill="rgb(155,255,0)"/><rect x="61.5" y="799.8" width="62.6" height="24.2" fill="rgb(76,153,0)"/><rect x="123.7" y="799.8" width="22.6" height="24.2" fill="rgb(102,178,0)"/><rect x="145.8" y="799.8" width="22.6" height="24.2" fill="rgb(155,255,0)"/><rect x="167.9" y="799.8" width="22.6" height="24.2" fill="rgb(141,255,0)"/><rect x="190.1" y="799.8" width="22.6" height="24.2" fill="rgb(128,255,0)"/><rect x="212.2" y="799.8" width="22.6" height="24.2" fill="rgb(155,255,0)"/><rect x="234.4" y="799.8" width="22.6" height="24.2" fill="rgb(102,178,0)"/><rect x="256.5" y="799.8" width="22.6" height="24.2" fill="rgb(102,178,0)"/><rect x="278.7" y="799.8" width="22.6" height="24.2" fill="rgb(155,255,0)"/><rect x="300.9" y="799.8" width="62.6" height="24.2" fill="rgb(167,255,0)"/><rect x="61.5" y="823.5" width="62.6" height="24.2" fill="rgb(102,178,0)"/><rect x="123.7" y="823.5" width="22.6" height="24.2" fill="rgb(102,178,0)"/><rect x="145.8" y="823.5" width="22.6" height="24.2" fill="rgb(141,255,0)"/><rect x="167.9" y="823.5" width="22.6" height="24.2" fill="rgb(141,255,0)"/><rect x="190.1" y="823.5" width="22.6" height="24.2" fill="rgb(128,255,0)"/><rect x="212.2" y="823.5" width="22.6" height="24.2" fill="rgb(128,255,0)"/><rect x="234.4" y="823.5" width="22.6" height="24.2" fill="rgb(102,178,0)"/><rect x="256.5" y="823.5" width="22.6" height="24.2" fill="rgb(102,178,0)"/><rect x="278.7" y="823.5" width="22.6" height="24.2" fill="rgb(155,255,0)"/><rect x="300.9" y="823.5" width="62.6" height="24.2" fill="rgb(167,255,0)"/><rect x="61.5" y="847.2" width="62.6" height="64.2" fill="rgb(141,255,0)"/><rect x="123.7" y="847.2" width="22.6" height="64.2" fill="rgb(155,255,0)"/><rect x="145.8" y="847.2" width="22.6" height="64.2" fill="rgb(178,255,0)"/><rect x="167.9" y="847.2" width="22.6" height="64.2" fill="rgb(155,255,0)"/><rect x="190.1" y="847.2" width="22.6" height="64.2" fill="rgb(128,255,0)"/><rect x="212.2" y="847.2" width="22.6" height="64.2" fill="rgb(141,255,0)"/><rect x="234.4" y="847.2" width="22.6" height="64.2" fill="rgb(155,255,0)"/><rect x="256.5" y="847.2" width="22.6" height="64.2" fill="rgb(167,255,0)"/><rect x="278.7" y="847.2" width="22.6" height="64.2" fill="rgb(155,255,0)"/><rect x="300.9" y="847.2" width="62.6" height="64.2" fill="rgb(167,255,0)"/></g><use href="#bd" x="101.5" y="681.4"/></g><filter id="f31" filterUnits="userSpaceOnUse" x="354.4" y="641.4" width="301.5" height="269.5" color-interpolation-filters="sRGB"><feGaussianBlur in="SourceGraphic" stdDeviation="6" result="b"/><feColorMatrix in="b" type="matrix" values="1 0 0 0 0 1 0 0 0 0 1 0 0 0 0 0 0 0 0 1" result="val"/><feColorMatrix in="b" type="matrix" values="0 1 0 0 0 0 1 0 0 0 0 1 0 0 0 0 0 0 0 1" result="amp"/><feTurbulence type="fractalNoise" baseFrequency="0.19" numOctaves="2" seed="16" result="t"/><feColorMatrix in="t" type="matrix" values="1 0 0 0 0 1 0 0 0 0 1 0 0 0 0 0 0 0 0 1" result="tg0"/><feComponentTransfer in="tg0" result="tg"><feFuncR type="table" tableValues="0 0.12 0.25 0.36 0.45 0.5 0.55 0.7 0.84 0.95 1"/><feFuncG type="table" tableValues="0 0.12 0.25 0.36 0.45 0.5 0.55 0.7 0.84 0.95 1"/><feFuncB type="table" tableValues="0 0.12 0.25 0.36 0.45 0.5 0.55 0.7 0.84 0.95 1"/></feComponentTransfer><feComposite in="amp" in2="tg" operator="arithmetic" k1="1" k2="-0.5" k3="0" k4="0.5" result="nm"/><feComposite in="val" in2="nm" operator="arithmetic" k1="0" k2="1" k3="1.25" k4="-0.625" result="sum"/><feComponentTransfer><feFuncR type="table" tableValues="0.855 0.866 0.877 0.888 0.898 0.909 0.920 0.931 0.942 0.953 0.964 0.975 0.985 0.996 0.954 0.884 0.814 0.745 0.675 0.605 0.536 0.466 0.396 0.327 0.257 0.187 0.117 0.048 0.000 0.000 0.000 0.000 0.000 0.000 0.000 0.000 0.000 0.000 0.000 0.000 0.000 0.000 0.000 0.000 0.000 0.000 0.000 0.000 0.000 0.000 0.000 0.000 0.000 0.000 0.000 0.000 0.000 0.000 0.000 0.000 0.000 0.000 0.000 0.000 0.000 0.285 0.409 0.454 0.499 0.544 0.589 0.633 0.678 0.728 0.778 0.829 0.880 0.931 0.982 1.000 1.000 1.000 1.000 1.000 1.000 1.000 1.000 1.000 1.000 1.000 1.000 1.000 1.000 1.000 1.000 1.000 1.000 1.000 1.000 1.000 1.000 1.000 1.000 1.000 1.000 1.000 1.000 1.000 1.000 1.000 1.000 1.000 0.988 0.974 0.961 0.947 0.933 0.915 0.874 0.832 0.791 0.750 0.708 0.667 0.626 0.585 0.543 0.502"/><feFuncG type="table" tableValues="0.835 0.848 0.860 0.872 0.885 0.897 0.909 0.922 0.934 0.946 0.959 0.971 0.984 0.996 1.000 1.000 1.000 1.000 1.000 1.000 1.000 1.000 1.000 1.000 1.000 1.000 1.000 1.000 1.000 1.000 1.000 1.000 1.000 1.000 1.000 1.000 1.000 1.000 1.000 1.000 1.000 1.000 1.000 1.000 1.000 1.000 1.000 1.000 1.000 1.000 1.000 1.000 1.000 1.000 1.000 1.000 1.000 1.000 1.000 1.000 1.000 1.000 1.000 1.000 1.000 1.000 1.000 1.000 1.000 1.000 1.000 1.000 1.000 1.000 1.000 1.000 1.000 1.000 1.000 0.981 0.952 0.923 0.894 0.865 0.836 0.807 0.778 0.750 0.727 0.704 0.680 0.657 0.629 0.596 0.563 0.530 0.498 0.465 0.432 0.399 0.366 0.333 0.301 0.268 0.235 0.202 0.169 0.136 0.103 0.070 0.037 0.004 0.000 0.000 0.000 0.000 0.000 0.000 0.000 0.000 0.000 0.000 0.000 0.000 0.000 0.000 0.000 0.000"/><feFuncB type="table" tableValues="0.816 0.830 0.843 0.857 0.871 0.885 0.899 0.912 0.926 0.940 0.954 0.968 0.982 0.995 1.000 1.000 1.000 1.000 1.000 1.000 1.000 1.000 1.000 1.000 1.000 1.000 1.000 1.000 1.000 1.000 1.000 1.000 1.000 1.000 1.000 1.000 1.000 1.000 1.000 1.000 1.000 1.000 1.000 1.000 1.000 1.000 0.999 0.965 0.930 0.896 0.862 0.827 0.793 0.759 0.724 0.690 0.656 0.621 0.587 0.553 0.518 0.484 0.450 0.415 0.381 0.329 0.281 0.236 0.191 0.147 0.102 0.057 0.012 0.000 0.000 0.000 0.000 0.000 0.000 0.000 0.000 0.000 0.000 0.000 0.000 0.000 0.000 0.000 0.000 0.000 0.000 0.000 0.000 0.000 0.000 0.000 0.000 0.000 0.000 0.000 0.000 0.000 0.000 0.000 0.000 0.000 0.000 0.000 0.000 0.000 0.000 0.000 0.000 0.000 0.000 0.000 0.000 0.000 0.000 0.000 0.000 0.000 0.000 0.000 0.000 0.000 0.000 0.000"/></feComponentTransfer><feGaussianBlur stdDeviation="0.6"/></filter><clipPath id="cf31"><rect x="394.4" y="681.4" width="221.5" height="189.5"/></clipPath><g clip-path="url(#cf31)"><g filter="url(#f31)"><rect x="354.4" y="641.4" width="62.6" height="64.2" fill="rgb(136,71,0)"/><rect x="416.5" y="641.4" width="22.6" height="64.2" fill="rgb(136,71,0)"/><rect x="438.7" y="641.4" width="22.6" height="64.2" fill="rgb(136,71,0)"/><rect x="460.8" y="641.4" width="22.6" height="64.2" fill="rgb(136,71,0)"/><rect x="483.0" y="641.4" width="22.6" height="64.2" fill="rgb(136,71,0)"/><rect x="505.1" y="641.4" width="22.6" height="64.2" fill="rgb(136,71,0)"/><rect x="527.3" y="641.4" width="22.6" height="64.2" fill="rgb(136,71,0)"/><rect x="549.4" y="641.4" width="22.6" height="64.2" fill="rgb(136,71,0)"/><rect x="571.6" y="641.4" width="22.6" height="64.2" fill="rgb(136,71,0)"/><rect x="593.8" y="641.4" width="62.6" height="64.2" fill="rgb(136,71,0)"/><rect x="354.4" y="705.1" width="62.6" height="24.2" fill="rgb(136,71,0)"/><rect x="416.5" y="705.1" width="22.6" height="24.2" fill="rgb(136,71,0)"/><rect x="438.7" y="705.1" width="22.6" height="24.2" fill="rgb(136,71,0)"/><rect x="460.8" y="705.1" width="22.6" height="24.2" fill="rgb(136,71,0)"/><rect x="483.0" y="705.1" width="22.6" height="24.2" fill="rgb(136,71,0)"/><rect x="505.1" y="705.1" width="22.6" height="24.2" fill="rgb(146,133,0)"/><rect x="527.3" y="705.1" width="22.6" height="24.2" fill="rgb(146,133,0)"/><rect x="549.4" y="705.1" width="22.6" height="24.2" fill="rgb(146,133,0)"/><rect x="571.6" y="705.1" width="22.6" height="24.2" fill="rgb(146,133,0)"/><rect x="593.8" y="705.1" width="62.6" height="24.2" fill="rgb(146,133,0)"/><rect x="354.4" y="728.8" width="62.6" height="24.2" fill="rgb(146,133,0)"/><rect x="416.5" y="728.8" width="22.6" height="24.2" fill="rgb(136,71,0)"/><rect x="438.7" y="728.8" width="22.6" height="24.2" fill="rgb(136,71,0)"/><rect x="460.8" y="728.8" width="22.6" height="24.2" fill="rgb(136,71,0)"/><rect x="483.0" y="728.8" width="22.6" height="24.2" fill="rgb(146,133,0)"/><rect x="505.1" y="728.8" width="22.6" height="24.2" fill="rgb(146,133,0)"/><rect x="527.3" y="728.8" width="22.6" height="24.2" fill="rgb(146,133,0)"/><rect x="549.4" y="728.8" width="22.6" height="24.2" fill="rgb(146,133,0)"/><rect x="571.6" y="728.8" width="22.6" height="24.2" fill="rgb(146,133,0)"/><rect x="593.8" y="728.8" width="62.6" height="24.2" fill="rgb(136,71,0)"/><rect x="354.4" y="752.5" width="62.6" height="24.2" fill="rgb(161,255,0)"/><rect x="416.5" y="752.5" width="22.6" height="24.2" fill="rgb(146,133,0)"/><rect x="438.7" y="752.5" width="22.6" height="24.2" fill="rgb(146,133,0)"/><rect x="460.8" y="752.5" width="22.6" height="24.2" fill="rgb(146,133,0)"/><rect x="483.0" y="752.5" width="22.6" height="24.2" fill="rgb(146,133,0)"/><rect x="505.1" y="752.5" width="22.6" height="24.2" fill="rgb(146,133,0)"/><rect x="527.3" y="752.5" width="22.6" height="24.2" fill="rgb(146,133,0)"/><rect x="549.4" y="752.5" width="22.6" height="24.2" fill="rgb(146,133,0)"/><rect x="571.6" y="752.5" width="22.6" height="24.2" fill="rgb(146,133,0)"/><rect x="593.8" y="752.5" width="62.6" height="24.2" fill="rgb(136,71,0)"/><rect x="354.4" y="776.1" width="62.6" height="24.2" fill="rgb(161,255,0)"/><rect x="416.5" y="776.1" width="22.6" height="24.2" fill="rgb(161,255,0)"/><rect x="438.7" y="776.1" width="22.6" height="24.2" fill="rgb(146,133,0)"/><rect x="460.8" y="776.1" width="22.6" height="24.2" fill="rgb(146,133,0)"/><rect x="483.0" y="776.1" width="22.6" height="24.2" fill="rgb(146,133,0)"/><rect x="505.1" y="776.1" width="22.6" height="24.2" fill="rgb(146,133,0)"/><rect x="527.3" y="776.1" width="22.6" height="24.2" fill="rgb(146,133,0)"/><rect x="549.4" y="776.1" width="22.6" height="24.2" fill="rgb(146,133,0)"/><rect x="571.6" y="776.1" width="22.6" height="24.2" fill="rgb(146,133,0)"/><rect x="593.8" y="776.1" width="62.6" height="24.2" fill="rgb(136,71,0)"/><rect x="354.4" y="799.8" width="62.6" height="24.2" fill="rgb(161,255,0)"/><rect x="416.5" y="799.8" width="22.6" height="24.2" fill="rgb(161,255,0)"/><rect x="438.7" y="799.8" width="22.6" height="24.2" fill="rgb(146,133,0)"/><rect x="460.8" y="799.8" width="22.6" height="24.2" fill="rgb(146,133,0)"/><rect x="483.0" y="799.8" width="22.6" height="24.2" fill="rgb(146,133,0)"/><rect x="505.1" y="799.8" width="22.6" height="24.2" fill="rgb(146,133,0)"/><rect x="527.3" y="799.8" width="22.6" height="24.2" fill="rgb(146,133,0)"/><rect x="549.4" y="799.8" width="22.6" height="24.2" fill="rgb(146,133,0)"/><rect x="571.6" y="799.8" width="22.6" height="24.2" fill="rgb(146,133,0)"/><rect x="593.8" y="799.8" width="62.6" height="24.2" fill="rgb(146,133,0)"/><rect x="354.4" y="823.5" width="62.6" height="24.2" fill="rgb(161,255,0)"/><rect x="416.5" y="823.5" width="22.6" height="24.2" fill="rgb(162,204,0)"/><rect x="438.7" y="823.5" width="22.6" height="24.2" fill="rgb(146,133,0)"/><rect x="460.8" y="823.5" width="22.6" height="24.2" fill="rgb(146,133,0)"/><rect x="483.0" y="823.5" width="22.6" height="24.2" fill="rgb(146,133,0)"/><rect x="505.1" y="823.5" width="22.6" height="24.2" fill="rgb(146,133,0)"/><rect x="527.3" y="823.5" width="22.6" height="24.2" fill="rgb(146,133,0)"/><rect x="549.4" y="823.5" width="22.6" height="24.2" fill="rgb(146,133,0)"/><rect x="571.6" y="823.5" width="22.6" height="24.2" fill="rgb(157,168,0)"/><rect x="593.8" y="823.5" width="62.6" height="24.2" fill="rgb(146,133,0)"/><rect x="354.4" y="847.2" width="62.6" height="64.2" fill="rgb(162,204,0)"/><rect x="416.5" y="847.2" width="22.6" height="64.2" fill="rgb(162,204,0)"/><rect x="438.7" y="847.2" width="22.6" height="64.2" fill="rgb(157,168,0)"/><rect x="460.8" y="847.2" width="22.6" height="64.2" fill="rgb(146,133,0)"/><rect x="483.0" y="847.2" width="22.6" height="64.2" fill="rgb(146,133,0)"/><rect x="505.1" y="847.2" width="22.6" height="64.2" fill="rgb(146,133,0)"/><rect x="527.3" y="847.2" width="22.6" height="64.2" fill="rgb(146,133,0)"/><rect x="549.4" y="847.2" width="22.6" height="64.2" fill="rgb(157,168,0)"/><rect x="571.6" y="847.2" width="22.6" height="64.2" fill="rgb(157,168,0)"/><rect x="593.8" y="847.2" width="62.6" height="64.2" fill="rgb(157,168,0)"/></g><use href="#bd" x="394.4" y="681.4"/></g><filter id="f32" filterUnits="userSpaceOnUse" x="645.2" y="641.4" width="301.5" height="269.5" color-interpolation-filters="sRGB"><feGaussianBlur in="SourceGraphic" stdDeviation="6" result="b"/><feColorMatrix in="b" type="matrix" values="1 0 0 0 0 1 0 0 0 0 1 0 0 0 0 0 0 0 0 1" result="val"/><feColorMatrix in="b" type="matrix" values="0 1 0 0 0 0 1 0 0 0 0 1 0 0 0 0 0 0 0 1" result="amp"/><feTurbulence type="fractalNoise" baseFrequency="0.15 0.22" numOctaves="2" seed="17" result="t"/><feColorMatrix in="t" type="matrix" values="1 0 0 0 0 1 0 0 0 0 1 0 0 0 0 0 0 0 0 1" result="tg0"/><feOffset in="tg0" dx="0" dy="0" result="tg"/><feComposite in="amp" in2="tg" operator="arithmetic" k1="1" k2="-0.5" k3="0" k4="0.5" result="nm"/><feComposite in="val" in2="nm" operator="arithmetic" k1="0" k2="1" k3="0.9" k4="-0.450" result="sum"/><feTurbulence type="fractalNoise" baseFrequency="0.22" numOctaves="2" seed="34" result="t2"/><feComponentTransfer in="t2" result="sp"><feFuncR type="table" tableValues="0 0 0 0 0 0 0 0.35 0.9 1 1"/></feComponentTransfer><feColorMatrix in="sp" type="matrix" values="1 0 0 0 0 1 0 0 0 0 1 0 0 0 0 0 0 0 0 1" result="spg"/><feComposite in="sum" in2="spg" operator="arithmetic" k1="0" k2="1" k3="0.62" k4="0"/><feComponentTransfer><feFuncR type="table" tableValues="0.855 0.866 0.877 0.888 0.898 0.909 0.920 0.931 0.942 0.953 0.964 0.975 0.985 0.996 0.954 0.884 0.814 0.745 0.675 0.605 0.536 0.466 0.396 0.327 0.257 0.187 0.117 0.048 0.000 0.000 0.000 0.000 0.000 0.000 0.000 0.000 0.000 0.000 0.000 0.000 0.000 0.000 0.000 0.000 0.000 0.000 0.000 0.000 0.000 0.000 0.000 0.000 0.000 0.000 0.000 0.000 0.000 0.000 0.000 0.000 0.000 0.000 0.000 0.000 0.000 0.285 0.409 0.454 0.499 0.544 0.589 0.633 0.678 0.728 0.778 0.829 0.880 0.931 0.982 1.000 1.000 1.000 1.000 1.000 1.000 1.000 1.000 1.000 1.000 1.000 1.000 1.000 1.000 1.000 1.000 1.000 1.000 1.000 1.000 1.000 1.000 1.000 1.000 1.000 1.000 1.000 1.000 1.000 1.000 1.000 1.000 1.000 0.988 0.974 0.961 0.947 0.933 0.915 0.874 0.832 0.791 0.750 0.708 0.667 0.626 0.585 0.543 0.502"/><feFuncG type="table" tableValues="0.835 0.848 0.860 0.872 0.885 0.897 0.909 0.922 0.934 0.946 0.959 0.971 0.984 0.996 1.000 1.000 1.000 1.000 1.000 1.000 1.000 1.000 1.000 1.000 1.000 1.000 1.000 1.000 1.000 1.000 1.000 1.000 1.000 1.000 1.000 1.000 1.000 1.000 1.000 1.000 1.000 1.000 1.000 1.000 1.000 1.000 1.000 1.000 1.000 1.000 1.000 1.000 1.000 1.000 1.000 1.000 1.000 1.000 1.000 1.000 1.000 1.000 1.000 1.000 1.000 1.000 1.000 1.000 1.000 1.000 1.000 1.000 1.000 1.000 1.000 1.000 1.000 1.000 1.000 0.981 0.952 0.923 0.894 0.865 0.836 0.807 0.778 0.750 0.727 0.704 0.680 0.657 0.629 0.596 0.563 0.530 0.498 0.465 0.432 0.399 0.366 0.333 0.301 0.268 0.235 0.202 0.169 0.136 0.103 0.070 0.037 0.004 0.000 0.000 0.000 0.000 0.000 0.000 0.000 0.000 0.000 0.000 0.000 0.000 0.000 0.000 0.000 0.000"/><feFuncB type="table" tableValues="0.816 0.830 0.843 0.857 0.871 0.885 0.899 0.912 0.926 0.940 0.954 0.968 0.982 0.995 1.000 1.000 1.000 1.000 1.000 1.000 1.000 1.000 1.000 1.000 1.000 1.000 1.000 1.000 1.000 1.000 1.000 1.000 1.000 1.000 1.000 1.000 1.000 1.000 1.000 1.000 1.000 1.000 1.000 1.000 1.000 1.000 0.999 0.965 0.930 0.896 0.862 0.827 0.793 0.759 0.724 0.690 0.656 0.621 0.587 0.553 0.518 0.484 0.450 0.415 0.381 0.329 0.281 0.236 0.191 0.147 0.102 0.057 0.012 0.000 0.000 0.000 0.000 0.000 0.000 0.000 0.000 0.000 0.000 0.000 0.000 0.000 0.000 0.000 0.000 0.000 0.000 0.000 0.000 0.000 0.000 0.000 0.000 0.000 0.000 0.000 0.000 0.000 0.000 0.000 0.000 0.000 0.000 0.000 0.000 0.000 0.000 0.000 0.000 0.000 0.000 0.000 0.000 0.000 0.000 0.000 0.000 0.000 0.000 0.000 0.000 0.000 0.000 0.000"/></feComponentTransfer><feGaussianBlur stdDeviation="0.6"/></filter><clipPath id="cf32"><rect x="685.2" y="681.4" width="221.5" height="189.5"/></clipPath><g clip-path="url(#cf32)"><g filter="url(#f32)"><rect x="645.2" y="641.4" width="62.6" height="64.2" fill="rgb(57,204,0)"/><rect x="707.4" y="641.4" width="22.6" height="64.2" fill="rgb(57,204,0)"/><rect x="729.5" y="641.4" width="22.6" height="64.2" fill="rgb(57,204,0)"/><rect x="751.7" y="641.4" width="22.6" height="64.2" fill="rgb(57,204,0)"/><rect x="773.8" y="641.4" width="22.6" height="64.2" fill="rgb(57,204,0)"/><rect x="796.0" y="641.4" width="22.6" height="64.2" fill="rgb(57,204,0)"/><rect x="818.1" y="641.4" width="22.6" height="64.2" fill="rgb(38,204,0)"/><rect x="840.2" y="641.4" width="22.6" height="64.2" fill="rgb(57,204,0)"/><rect x="862.4" y="641.4" width="22.6" height="64.2" fill="rgb(57,204,0)"/><rect x="884.6" y="641.4" width="62.6" height="64.2" fill="rgb(57,204,0)"/><rect x="645.2" y="705.1" width="62.6" height="24.2" fill="rgb(76,153,0)"/><rect x="707.4" y="705.1" width="22.6" height="24.2" fill="rgb(76,153,0)"/><rect x="729.5" y="705.1" width="22.6" height="24.2" fill="rgb(76,153,0)"/><rect x="751.7" y="705.1" width="22.6" height="24.2" fill="rgb(76,153,0)"/><rect x="773.8" y="705.1" width="22.6" height="24.2" fill="rgb(76,153,0)"/><rect x="796.0" y="705.1" width="22.6" height="24.2" fill="rgb(57,204,0)"/><rect x="818.1" y="705.1" width="22.6" height="24.2" fill="rgb(76,153,0)"/><rect x="840.2" y="705.1" width="22.6" height="24.2" fill="rgb(76,153,0)"/><rect x="862.4" y="705.1" width="22.6" height="24.2" fill="rgb(76,153,0)"/><rect x="884.6" y="705.1" width="62.6" height="24.2" fill="rgb(76,153,0)"/><rect x="645.2" y="728.8" width="62.6" height="24.2" fill="rgb(57,204,0)"/><rect x="707.4" y="728.8" width="22.6" height="24.2" fill="rgb(76,153,0)"/><rect x="729.5" y="728.8" width="22.6" height="24.2" fill="rgb(76,153,0)"/><rect x="751.7" y="728.8" width="22.6" height="24.2" fill="rgb(102,178,0)"/><rect x="773.8" y="728.8" width="22.6" height="24.2" fill="rgb(76,153,0)"/><rect x="796.0" y="728.8" width="22.6" height="24.2" fill="rgb(102,178,0)"/><rect x="818.1" y="728.8" width="22.6" height="24.2" fill="rgb(164,204,0)"/><rect x="840.2" y="728.8" width="22.6" height="24.2" fill="rgb(164,204,0)"/><rect x="862.4" y="728.8" width="22.6" height="24.2" fill="rgb(102,178,0)"/><rect x="884.6" y="728.8" width="62.6" height="24.2" fill="rgb(76,153,0)"/><rect x="645.2" y="752.5" width="62.6" height="24.2" fill="rgb(10,128,0)"/><rect x="707.4" y="752.5" width="22.6" height="24.2" fill="rgb(76,153,0)"/><rect x="729.5" y="752.5" width="22.6" height="24.2" fill="rgb(164,204,0)"/><rect x="751.7" y="752.5" width="22.6" height="24.2" fill="rgb(164,204,0)"/><rect x="773.8" y="752.5" width="22.6" height="24.2" fill="rgb(102,178,0)"/><rect x="796.0" y="752.5" width="22.6" height="24.2" fill="rgb(154,204,0)"/><rect x="818.1" y="752.5" width="22.6" height="24.2" fill="rgb(164,204,0)"/><rect x="840.2" y="752.5" width="22.6" height="24.2" fill="rgb(154,204,0)"/><rect x="862.4" y="752.5" width="22.6" height="24.2" fill="rgb(102,178,0)"/><rect x="884.6" y="752.5" width="62.6" height="24.2" fill="rgb(76,153,0)"/><rect x="645.2" y="776.1" width="62.6" height="24.2" fill="rgb(10,128,0)"/><rect x="707.4" y="776.1" width="22.6" height="24.2" fill="rgb(154,204,0)"/><rect x="729.5" y="776.1" width="22.6" height="24.2" fill="rgb(164,204,0)"/><rect x="751.7" y="776.1" width="22.6" height="24.2" fill="rgb(164,204,0)"/><rect x="773.8" y="776.1" width="22.6" height="24.2" fill="rgb(102,178,0)"/><rect x="796.0" y="776.1" width="22.6" height="24.2" fill="rgb(164,204,0)"/><rect x="818.1" y="776.1" width="22.6" height="24.2" fill="rgb(164,204,0)"/><rect x="840.2" y="776.1" width="22.6" height="24.2" fill="rgb(154,204,0)"/><rect x="862.4" y="776.1" width="22.6" height="24.2" fill="rgb(102,178,0)"/><rect x="884.6" y="776.1" width="62.6" height="24.2" fill="rgb(76,153,0)"/><rect x="645.2" y="799.8" width="62.6" height="24.2" fill="rgb(57,204,0)"/><rect x="707.4" y="799.8" width="22.6" height="24.2" fill="rgb(164,204,0)"/><rect x="729.5" y="799.8" width="22.6" height="24.2" fill="rgb(175,217,0)"/><rect x="751.7" y="799.8" width="22.6" height="24.2" fill="rgb(164,204,0)"/><rect x="773.8" y="799.8" width="22.6" height="24.2" fill="rgb(164,204,0)"/><rect x="796.0" y="799.8" width="22.6" height="24.2" fill="rgb(164,204,0)"/><rect x="818.1" y="799.8" width="22.6" height="24.2" fill="rgb(102,178,0)"/><rect x="840.2" y="799.8" width="22.6" height="24.2" fill="rgb(141,204,0)"/><rect x="862.4" y="799.8" width="22.6" height="24.2" fill="rgb(76,153,0)"/><rect x="884.6" y="799.8" width="62.6" height="24.2" fill="rgb(102,178,0)"/><rect x="645.2" y="823.5" width="62.6" height="24.2" fill="rgb(76,153,0)"/><rect x="707.4" y="823.5" width="22.6" height="24.2" fill="rgb(102,178,0)"/><rect x="729.5" y="823.5" width="22.6" height="24.2" fill="rgb(164,204,0)"/><rect x="751.7" y="823.5" width="22.6" height="24.2" fill="rgb(164,204,0)"/><rect x="773.8" y="823.5" width="22.6" height="24.2" fill="rgb(141,204,0)"/><rect x="796.0" y="823.5" width="22.6" height="24.2" fill="rgb(154,204,0)"/><rect x="818.1" y="823.5" width="22.6" height="24.2" fill="rgb(102,178,0)"/><rect x="840.2" y="823.5" width="22.6" height="24.2" fill="rgb(102,178,0)"/><rect x="862.4" y="823.5" width="22.6" height="24.2" fill="rgb(102,178,0)"/><rect x="884.6" y="823.5" width="62.6" height="24.2" fill="rgb(102,178,0)"/><rect x="645.2" y="847.2" width="62.6" height="64.2" fill="rgb(102,178,0)"/><rect x="707.4" y="847.2" width="22.6" height="64.2" fill="rgb(154,204,0)"/><rect x="729.5" y="847.2" width="22.6" height="64.2" fill="rgb(164,204,0)"/><rect x="751.7" y="847.2" width="22.6" height="64.2" fill="rgb(175,217,0)"/><rect x="773.8" y="847.2" width="22.6" height="64.2" fill="rgb(175,217,0)"/><rect x="796.0" y="847.2" width="22.6" height="64.2" fill="rgb(208,255,0)"/><rect x="818.1" y="847.2" width="22.6" height="64.2" fill="rgb(164,204,0)"/><rect x="840.2" y="847.2" width="22.6" height="64.2" fill="rgb(154,204,0)"/><rect x="862.4" y="847.2" width="22.6" height="64.2" fill="rgb(102,178,0)"/><rect x="884.6" y="847.2" width="62.6" height="64.2" fill="rgb(102,178,0)"/></g><ellipse cx="803.2" cy="852.4" rx="10" ry="4" fill="#c00000" filter="url(#sb)"/><g transform="translate(685.2,681.4)"><rect x="141" y="1" width="16" height="10" rx="4" fill="#fff" opacity="0.9"/><rect x="1.5" y="84" width="24" height="30" fill="#fff"/><rect x="0" y="81" width="1.8" height="33" fill="#666"/></g><use href="#bd" x="685.2" y="681.4"/></g><filter id="f33" filterUnits="userSpaceOnUse" x="938.3" y="641.4" width="301.5" height="269.5" color-interpolation-filters="sRGB"><feGaussianBlur in="SourceGraphic" stdDeviation="6" result="b"/><feColorMatrix in="b" type="matrix" values="1 0 0 0 0 1 0 0 0 0 1 0 0 0 0 0 0 0 0 1" result="val"/><feColorMatrix in="b" type="matrix" values="0 1 0 0 0 0 1 0 0 0 0 1 0 0 0 0 0 0 0 1" result="amp"/><feTurbulence type="fractalNoise" baseFrequency="0.12 0.2" numOctaves="2" seed="18" result="t"/><feColorMatrix in="t" type="matrix" values="1 0 0 0 0 1 0 0 0 0 1 0 0 0 0 0 0 0 0 1" result="tg0"/><feOffset in="tg0" dx="0" dy="0" result="tg"/><feComposite in="amp" in2="tg" operator="arithmetic" k1="1" k2="-0.5" k3="0" k4="0.5" result="nm"/><feComposite in="val" in2="nm" operator="arithmetic" k1="0" k2="1" k3="0.95" k4="-0.475" result="sum"/><feTurbulence type="fractalNoise" baseFrequency="0.25" numOctaves="2" seed="35" result="t2"/><feComponentTransfer in="t2" result="sp"><feFuncR type="table" tableValues="0 0 0 0 0 0 0 0.35 0.9 1 1"/></feComponentTransfer><feColorMatrix in="sp" type="matrix" values="1 0 0 0 0 1 0 0 0 0 1 0 0 0 0 0 0 0 0 1" result="spg"/><feComposite in="sum" in2="spg" operator="arithmetic" k1="0" k2="1" k3="0.55" k4="0"/><feComponentTransfer><feFuncR type="table" tableValues="0.855 0.866 0.877 0.888 0.898 0.909 0.920 0.931 0.942 0.953 0.964 0.975 0.985 0.996 0.954 0.884 0.814 0.745 0.675 0.605 0.536 0.466 0.396 0.327 0.257 0.187 0.117 0.048 0.000 0.000 0.000 0.000 0.000 0.000 0.000 0.000 0.000 0.000 0.000 0.000 0.000 0.000 0.000 0.000 0.000 0.000 0.000 0.000 0.000 0.000 0.000 0.000 0.000 0.000 0.000 0.000 0.000 0.000 0.000 0.000 0.000 0.000 0.000 0.000 0.000 0.285 0.409 0.454 0.499 0.544 0.589 0.633 0.678 0.728 0.778 0.829 0.880 0.931 0.982 1.000 1.000 1.000 1.000 1.000 1.000 1.000 1.000 1.000 1.000 1.000 1.000 1.000 1.000 1.000 1.000 1.000 1.000 1.000 1.000 1.000 1.000 1.000 1.000 1.000 1.000 1.000 1.000 1.000 1.000 1.000 1.000 1.000 0.988 0.974 0.961 0.947 0.933 0.915 0.874 0.832 0.791 0.750 0.708 0.667 0.626 0.585 0.543 0.502"/><feFuncG type="table" tableValues="0.835 0.848 0.860 0.872 0.885 0.897 0.909 0.922 0.934 0.946 0.959 0.971 0.984 0.996 1.000 1.000 1.000 1.000 1.000 1.000 1.000 1.000 1.000 1.000 1.000 1.000 1.000 1.000 1.000 1.000 1.000 1.000 1.000 1.000 1.000 1.000 1.000 1.000 1.000 1.000 1.000 1.000 1.000 1.000 1.000 1.000 1.000 1.000 1.000 1.000 1.000 1.000 1.000 1.000 1.000 1.000 1.000 1.000 1.000 1.000 1.000 1.000 1.000 1.000 1.000 1.000 1.000 1.000 1.000 1.000 1.000 1.000 1.000 1.000 1.000 1.000 1.000 1.000 1.000 0.981 0.952 0.923 0.894 0.865 0.836 0.807 0.778 0.750 0.727 0.704 0.680 0.657 0.629 0.596 0.563 0.530 0.498 0.465 0.432 0.399 0.366 0.333 0.301 0.268 0.235 0.202 0.169 0.136 0.103 0.070 0.037 0.004 0.000 0.000 0.000 0.000 0.000 0.000 0.000 0.000 0.000 0.000 0.000 0.000 0.000 0.000 0.000 0.000"/><feFuncB type="table" tableValues="0.816 0.830 0.843 0.857 0.871 0.885 0.899 0.912 0.926 0.940 0.954 0.968 0.982 0.995 1.000 1.000 1.000 1.000 1.000 1.000 1.000 1.000 1.000 1.000 1.000 1.000 1.000 1.000 1.000 1.000 1.000 1.000 1.000 1.000 1.000 1.000 1.000 1.000 1.000 1.000 1.000 1.000 1.000 1.000 1.000 1.000 0.999 0.965 0.930 0.896 0.862 0.827 0.793 0.759 0.724 0.690 0.656 0.621 0.587 0.553 0.518 0.484 0.450 0.415 0.381 0.329 0.281 0.236 0.191 0.147 0.102 0.057 0.012 0.000 0.000 0.000 0.000 0.000 0.000 0.000 0.000 0.000 0.000 0.000 0.000 0.000 0.000 0.000 0.000 0.000 0.000 0.000 0.000 0.000 0.000 0.000 0.000 0.000 0.000 0.000 0.000 0.000 0.000 0.000 0.000 0.000 0.000 0.000 0.000 0.000 0.000 0.000 0.000 0.000 0.000 0.000 0.000 0.000 0.000 0.000 0.000 0.000 0.000 0.000 0.000 0.000 0.000 0.000"/></feComponentTransfer><feGaussianBlur stdDeviation="0.6"/></filter><clipPath id="cf33"><rect x="978.3" y="681.4" width="221.5" height="189.5"/></clipPath><g clip-path="url(#cf33)"><g filter="url(#f33)"><rect x="938.3" y="641.4" width="62.6" height="64.2" fill="rgb(38,204,0)"/><rect x="1000.4" y="641.4" width="22.6" height="64.2" fill="rgb(38,204,0)"/><rect x="1022.6" y="641.4" width="22.6" height="64.2" fill="rgb(50,204,0)"/><rect x="1044.8" y="641.4" width="22.6" height="64.2" fill="rgb(50,204,0)"/><rect x="1066.9" y="641.4" width="22.6" height="64.2" fill="rgb(38,204,0)"/><rect x="1089.0" y="641.4" width="22.6" height="64.2" fill="rgb(50,204,0)"/><rect x="1111.2" y="641.4" width="22.6" height="64.2" fill="rgb(50,204,0)"/><rect x="1133.3" y="641.4" width="22.6" height="64.2" fill="rgb(38,204,0)"/><rect x="1155.5" y="641.4" width="22.6" height="64.2" fill="rgb(50,204,0)"/><rect x="1177.6" y="641.4" width="62.6" height="64.2" fill="rgb(50,204,0)"/><rect x="938.3" y="705.1" width="62.6" height="24.2" fill="rgb(38,204,0)"/><rect x="1000.4" y="705.1" width="22.6" height="24.2" fill="rgb(50,204,0)"/><rect x="1022.6" y="705.1" width="22.6" height="24.2" fill="rgb(50,204,0)"/><rect x="1044.8" y="705.1" width="22.6" height="24.2" fill="rgb(50,204,0)"/><rect x="1066.9" y="705.1" width="22.6" height="24.2" fill="rgb(50,204,0)"/><rect x="1089.0" y="705.1" width="22.6" height="24.2" fill="rgb(50,204,0)"/><rect x="1111.2" y="705.1" width="22.6" height="24.2" fill="rgb(50,204,0)"/><rect x="1133.3" y="705.1" width="22.6" height="24.2" fill="rgb(50,204,0)"/><rect x="1155.5" y="705.1" width="22.6" height="24.2" fill="rgb(50,204,0)"/><rect x="1177.6" y="705.1" width="62.6" height="24.2" fill="rgb(50,204,0)"/><rect x="938.3" y="728.8" width="62.6" height="24.2" fill="rgb(38,204,0)"/><rect x="1000.4" y="728.8" width="22.6" height="24.2" fill="rgb(50,204,0)"/><rect x="1022.6" y="728.8" width="22.6" height="24.2" fill="rgb(50,204,0)"/><rect x="1044.8" y="728.8" width="22.6" height="24.2" fill="rgb(76,153,0)"/><rect x="1066.9" y="728.8" width="22.6" height="24.2" fill="rgb(76,153,0)"/><rect x="1089.0" y="728.8" width="22.6" height="24.2" fill="rgb(76,153,0)"/><rect x="1111.2" y="728.8" width="22.6" height="24.2" fill="rgb(50,204,0)"/><rect x="1133.3" y="728.8" width="22.6" height="24.2" fill="rgb(102,178,0)"/><rect x="1155.5" y="728.8" width="22.6" height="24.2" fill="rgb(50,204,0)"/><rect x="1177.6" y="728.8" width="62.6" height="24.2" fill="rgb(38,204,0)"/><rect x="938.3" y="752.5" width="62.6" height="24.2" fill="rgb(38,204,0)"/><rect x="1000.4" y="752.5" width="22.6" height="24.2" fill="rgb(76,153,0)"/><rect x="1022.6" y="752.5" width="22.6" height="24.2" fill="rgb(50,204,0)"/><rect x="1044.8" y="752.5" width="22.6" height="24.2" fill="rgb(102,178,0)"/><rect x="1066.9" y="752.5" width="22.6" height="24.2" fill="rgb(50,204,0)"/><rect x="1089.0" y="752.5" width="22.6" height="24.2" fill="rgb(76,153,0)"/><rect x="1111.2" y="752.5" width="22.6" height="24.2" fill="rgb(102,178,0)"/><rect x="1133.3" y="752.5" width="22.6" height="24.2" fill="rgb(102,178,0)"/><rect x="1155.5" y="752.5" width="22.6" height="24.2" fill="rgb(50,204,0)"/><rect x="1177.6" y="752.5" width="62.6" height="24.2" fill="rgb(38,204,0)"/><rect x="938.3" y="776.1" width="62.6" height="24.2" fill="rgb(38,204,0)"/><rect x="1000.4" y="776.1" width="22.6" height="24.2" fill="rgb(164,204,0)"/><rect x="1022.6" y="776.1" width="22.6" height="24.2" fill="rgb(164,204,0)"/><rect x="1044.8" y="776.1" width="22.6" height="24.2" fill="rgb(102,178,0)"/><rect x="1066.9" y="776.1" width="22.6" height="24.2" fill="rgb(76,153,0)"/><rect x="1089.0" y="776.1" width="22.6" height="24.2" fill="rgb(154,204,0)"/><rect x="1111.2" y="776.1" width="22.6" height="24.2" fill="rgb(102,178,0)"/><rect x="1133.3" y="776.1" width="22.6" height="24.2" fill="rgb(102,178,0)"/><rect x="1155.5" y="776.1" width="22.6" height="24.2" fill="rgb(102,178,0)"/><rect x="1177.6" y="776.1" width="62.6" height="24.2" fill="rgb(50,204,0)"/><rect x="938.3" y="799.8" width="62.6" height="24.2" fill="rgb(38,204,0)"/><rect x="1000.4" y="799.8" width="22.6" height="24.2" fill="rgb(175,217,0)"/><rect x="1022.6" y="799.8" width="22.6" height="24.2" fill="rgb(50,204,0)"/><rect x="1044.8" y="799.8" width="22.6" height="24.2" fill="rgb(102,178,0)"/><rect x="1066.9" y="799.8" width="22.6" height="24.2" fill="rgb(164,204,0)"/><rect x="1089.0" y="799.8" width="22.6" height="24.2" fill="rgb(102,178,0)"/><rect x="1111.2" y="799.8" width="22.6" height="24.2" fill="rgb(154,204,0)"/><rect x="1133.3" y="799.8" width="22.6" height="24.2" fill="rgb(102,178,0)"/><rect x="1155.5" y="799.8" width="22.6" height="24.2" fill="rgb(102,178,0)"/><rect x="1177.6" y="799.8" width="62.6" height="24.2" fill="rgb(102,178,0)"/><rect x="938.3" y="823.5" width="62.6" height="24.2" fill="rgb(50,204,0)"/><rect x="1000.4" y="823.5" width="22.6" height="24.2" fill="rgb(50,204,0)"/><rect x="1022.6" y="823.5" width="22.6" height="24.2" fill="rgb(102,178,0)"/><rect x="1044.8" y="823.5" width="22.6" height="24.2" fill="rgb(154,204,0)"/><rect x="1066.9" y="823.5" width="22.6" height="24.2" fill="rgb(102,178,0)"/><rect x="1089.0" y="823.5" width="22.6" height="24.2" fill="rgb(76,153,0)"/><rect x="1111.2" y="823.5" width="22.6" height="24.2" fill="rgb(102,178,0)"/><rect x="1133.3" y="823.5" width="22.6" height="24.2" fill="rgb(102,178,0)"/><rect x="1155.5" y="823.5" width="22.6" height="24.2" fill="rgb(76,153,0)"/><rect x="1177.6" y="823.5" width="62.6" height="24.2" fill="rgb(102,178,0)"/><rect x="938.3" y="847.2" width="62.6" height="64.2" fill="rgb(102,178,0)"/><rect x="1000.4" y="847.2" width="22.6" height="64.2" fill="rgb(164,204,0)"/><rect x="1022.6" y="847.2" width="22.6" height="64.2" fill="rgb(164,204,0)"/><rect x="1044.8" y="847.2" width="22.6" height="64.2" fill="rgb(102,178,0)"/><rect x="1066.9" y="847.2" width="22.6" height="64.2" fill="rgb(175,217,0)"/><rect x="1089.0" y="847.2" width="22.6" height="64.2" fill="rgb(175,217,0)"/><rect x="1111.2" y="847.2" width="22.6" height="64.2" fill="rgb(102,178,0)"/><rect x="1133.3" y="847.2" width="22.6" height="64.2" fill="rgb(102,178,0)"/><rect x="1155.5" y="847.2" width="22.6" height="64.2" fill="rgb(76,153,0)"/><rect x="1177.6" y="847.2" width="62.6" height="64.2" fill="rgb(50,204,0)"/></g><ellipse cx="1018.3" cy="799.4" rx="8" ry="7" fill="#d00000" filter="url(#sb)"/><ellipse cx="1098.3" cy="852.4" rx="8" ry="4" fill="#c00000" filter="url(#sb)"/><ellipse cx="1073.3" cy="862.4" rx="7" ry="4" fill="#c00000" filter="url(#sb)"/><use href="#bd" x="978.3" y="681.4"/></g><rect x="100.9" y="54.5" width="1.3" height="189.5" fill="#3a3a3a"/><rect x="393.79999999999995" y="54.5" width="1.3" height="189.5" fill="#3a3a3a"/><rect x="1199.1" y="54.5" width="1.3" height="189.5" fill="#3a3a3a"/><rect x="100.9" y="264.5" width="1.3" height="189.5" fill="#3a3a3a"/><rect x="393.79999999999995" y="264.5" width="1.3" height="189.5" fill="#3a3a3a"/><rect x="1199.1" y="264.5" width="1.3" height="189.5" fill="#3a3a3a"/><rect x="100.9" y="473.0" width="1.3" height="189.5" fill="#3a3a3a"/><rect x="393.79999999999995" y="473.0" width="1.3" height="189.5" fill="#3a3a3a"/><rect x="1199.1" y="473.0" width="1.3" height="189.5" fill="#3a3a3a"/><rect x="100.9" y="681.4" width="1.3" height="189.5" fill="#3a3a3a"/><rect x="393.79999999999995" y="681.4" width="1.3" height="189.5" fill="#3a3a3a"/><rect x="1199.1" y="681.4" width="1.3" height="189.5" fill="#3a3a3a"/><text x="148.4" y="38.6" font-size="33.5" font-weight="normal" fill="#000" text-anchor="start" textLength="130.2" lengthAdjust="spacingAndGlyphs">OMI-CAS</text><text x="414.5" y="38.0" font-size="33.5" font-weight="normal" fill="#000" text-anchor="start" textLength="187.8" lengthAdjust="spacingAndGlyphs">OMI-Harvard</text><text x="730" y="38.0" font-size="33.5" font-weight="normal" fill="#000" text-anchor="start" textLength="123.9" lengthAdjust="spacingAndGlyphs">OMI-IUP</text><text x="987.5" y="31.6" font-size="33.5" font-weight="normal" fill="#000" text-anchor="start" textLength="212.1" lengthAdjust="spacingAndGlyphs">Sciamachy-IUP</text><text transform="translate(33,208.4) rotate(-90)" x="0" y="0" font-size="34" fill="#000" textLength="91.4" lengthAdjust="spacingAndGlyphs">Spring</text><text transform="translate(34,420.6) rotate(-90)" x="0" y="0" font-size="34" fill="#000" textLength="123.3" lengthAdjust="spacingAndGlyphs">Summer</text><text transform="translate(35.7,619.8) rotate(-90)" x="0" y="0" font-size="34" fill="#000" textLength="116.8" lengthAdjust="spacingAndGlyphs">Autumn</text><text transform="translate(35.7,832.3) rotate(-90)" x="0" y="0" font-size="34" fill="#000" textLength="103.3" lengthAdjust="spacingAndGlyphs">Winter</text><text x="92" y="60.7" font-size="17" font-weight="bold" fill="#3a3a3a" text-anchor="end" textLength="22" lengthAdjust="spacingAndGlyphs">45</text><text x="92" y="98.60000000000001" font-size="17" font-weight="bold" fill="#3a3a3a" text-anchor="end" textLength="22" lengthAdjust="spacingAndGlyphs">40</text><text x="92" y="136.5" font-size="17" font-weight="bold" fill="#3a3a3a" text-anchor="end" textLength="22" lengthAdjust="spacingAndGlyphs">35</text><text x="92" y="174.39999999999998" font-size="17" font-weight="bold" fill="#3a3a3a" text-anchor="end" textLength="22" lengthAdjust="spacingAndGlyphs">30</text><text x="92" y="212.29999999999998" font-size="17" font-weight="bold" fill="#3a3a3a" text-anchor="end" textLength="22" lengthAdjust="spacingAndGlyphs">25</text><text x="92" y="250.2" font-size="17" font-weight="bold" fill="#3a3a3a" text-anchor="end" textLength="22" lengthAdjust="spacingAndGlyphs">20</text><text x="92" y="270.7" font-size="17" font-weight="bold" fill="#3a3a3a" text-anchor="end" textLength="22" lengthAdjust="spacingAndGlyphs">45</text><text x="92" y="308.59999999999997" font-size="17" font-weight="bold" fill="#3a3a3a" text-anchor="end" textLength="22" lengthAdjust="spacingAndGlyphs">40</text><text x="92" y="346.5" font-size="17" font-weight="bold" fill="#3a3a3a" text-anchor="end" textLength="22" lengthAdjust="spacingAndGlyphs">35</text><text x="92" y="384.4" font-size="17" font-weight="bold" fill="#3a3a3a" text-anchor="end" textLength="22" lengthAdjust="spacingAndGlyphs">30</text><text x="92" y="422.3" font-size="17" font-weight="bold" fill="#3a3a3a" text-anchor="end" textLength="22" lengthAdjust="spacingAndGlyphs">25</text><text x="92" y="460.2" font-size="17" font-weight="bold" fill="#3a3a3a" text-anchor="end" textLength="22" lengthAdjust="spacingAndGlyphs">20</text><text x="92" y="479.2" font-size="17" font-weight="bold" fill="#3a3a3a" text-anchor="end" textLength="22" lengthAdjust="spacingAndGlyphs">45</text><text x="92" y="517.1" font-size="17" font-weight="bold" fill="#3a3a3a" text-anchor="end" textLength="22" lengthAdjust="spacingAndGlyphs">40</text><text x="92" y="555.0" font-size="17" font-weight="bold" fill="#3a3a3a" text-anchor="end" textLength="22" lengthAdjust="spacingAndGlyphs">35</text><text x="92" y="592.9000000000001" font-size="17" font-weight="bold" fill="#3a3a3a" text-anchor="end" textLength="22" lengthAdjust="spacingAndGlyphs">30</text><text x="92" y="630.8000000000001" font-size="17" font-weight="bold" fill="#3a3a3a" text-anchor="end" textLength="22" lengthAdjust="spacingAndGlyphs">25</text><text x="92" y="668.7" font-size="17" font-weight="bold" fill="#3a3a3a" text-anchor="end" textLength="22" lengthAdjust="spacingAndGlyphs">20</text><text x="92" y="687.6" font-size="17" font-weight="bold" fill="#3a3a3a" text-anchor="end" textLength="22" lengthAdjust="spacingAndGlyphs">45</text><text x="92" y="725.5" font-size="17" font-weight="bold" fill="#3a3a3a" text-anchor="end" textLength="22" lengthAdjust="spacingAndGlyphs">40</text><text x="92" y="763.4" font-size="17" font-weight="bold" fill="#3a3a3a" text-anchor="end" textLength="22" lengthAdjust="spacingAndGlyphs">35</text><text x="92" y="801.3000000000001" font-size="17" font-weight="bold" fill="#3a3a3a" text-anchor="end" textLength="22" lengthAdjust="spacingAndGlyphs">30</text><text x="92" y="839.2" font-size="17" font-weight="bold" fill="#3a3a3a" text-anchor="end" textLength="22" lengthAdjust="spacingAndGlyphs">25</text><text x="92" y="877.1" font-size="17" font-weight="bold" fill="#3a3a3a" text-anchor="end" textLength="22" lengthAdjust="spacingAndGlyphs">20</text><text x="101.5" y="893.6" font-size="17" font-weight="bold" fill="#3a3a3a" text-anchor="middle" textLength="31" lengthAdjust="spacingAndGlyphs">100</text><text x="190.1" y="893.6" font-size="17" font-weight="bold" fill="#3a3a3a" text-anchor="middle" textLength="31" lengthAdjust="spacingAndGlyphs">110</text><text x="278.7" y="893.6" font-size="17" font-weight="bold" fill="#3a3a3a" text-anchor="middle" textLength="31" lengthAdjust="spacingAndGlyphs">120</text><text x="394.4" y="893.6" font-size="17" font-weight="bold" fill="#3a3a3a" text-anchor="middle" textLength="31" lengthAdjust="spacingAndGlyphs">100</text><text x="483.0" y="893.6" font-size="17" font-weight="bold" fill="#3a3a3a" text-anchor="middle" textLength="31" lengthAdjust="spacingAndGlyphs">110</text><text x="571.5999999999999" y="893.6" font-size="17" font-weight="bold" fill="#3a3a3a" text-anchor="middle" textLength="31" lengthAdjust="spacingAndGlyphs">120</text><text x="685.2" y="893.6" font-size="17" font-weight="bold" fill="#3a3a3a" text-anchor="middle" textLength="31" lengthAdjust="spacingAndGlyphs">100</text><text x="773.8000000000001" y="893.6" font-size="17" font-weight="bold" fill="#3a3a3a" text-anchor="middle" textLength="31" lengthAdjust="spacingAndGlyphs">110</text><text x="862.4000000000001" y="893.6" font-size="17" font-weight="bold" fill="#3a3a3a" text-anchor="middle" textLength="31" lengthAdjust="spacingAndGlyphs">120</text><text x="978.3" y="893.6" font-size="17" font-weight="bold" fill="#3a3a3a" text-anchor="middle" textLength="31" lengthAdjust="spacingAndGlyphs">100</text><text x="1066.8999999999999" y="893.6" font-size="17" font-weight="bold" fill="#3a3a3a" text-anchor="middle" textLength="31" lengthAdjust="spacingAndGlyphs">110</text><text x="1155.5" y="893.6" font-size="17" font-weight="bold" fill="#3a3a3a" text-anchor="middle" textLength="31" lengthAdjust="spacingAndGlyphs">120</text><rect x="80.0" y="910.6" width="263.8" height="16.8" fill="url(#cbg)" stroke="#505050" stroke-width="1.3"/><text x="79.4" y="951.8" font-size="17" font-weight="bold" fill="#3a3a3a" text-anchor="middle" textLength="9.5" lengthAdjust="spacingAndGlyphs">0</text><text x="145.65" y="951.8" font-size="17" font-weight="bold" fill="#3a3a3a" text-anchor="middle" textLength="30.5" lengthAdjust="spacingAndGlyphs">100</text><text x="211.9" y="951.8" font-size="17" font-weight="bold" fill="#3a3a3a" text-anchor="middle" textLength="30.5" lengthAdjust="spacingAndGlyphs">200</text><text x="278.15" y="951.8" font-size="17" font-weight="bold" fill="#3a3a3a" text-anchor="middle" textLength="30.5" lengthAdjust="spacingAndGlyphs">300</text><text x="344.4" y="951.8" font-size="17" font-weight="bold" fill="#3a3a3a" text-anchor="middle" textLength="30.5" lengthAdjust="spacingAndGlyphs">400</text><rect x="372.90000000000003" y="910.6" width="263.8" height="16.8" fill="url(#cbg)" stroke="#505050" stroke-width="1.3"/><text x="372.3" y="951.8" font-size="17" font-weight="bold" fill="#3a3a3a" text-anchor="middle" textLength="9.5" lengthAdjust="spacingAndGlyphs">0</text><text x="438.55" y="951.8" font-size="17" font-weight="bold" fill="#3a3a3a" text-anchor="middle" textLength="30.5" lengthAdjust="spacingAndGlyphs">100</text><text x="504.8" y="951.8" font-size="17" font-weight="bold" fill="#3a3a3a" text-anchor="middle" textLength="30.5" lengthAdjust="spacingAndGlyphs">200</text><text x="571.05" y="951.8" font-size="17" font-weight="bold" fill="#3a3a3a" text-anchor="middle" textLength="30.5" lengthAdjust="spacingAndGlyphs">300</text><text x="637.3" y="951.8" font-size="17" font-weight="bold" fill="#3a3a3a" text-anchor="middle" textLength="30.5" lengthAdjust="spacingAndGlyphs">400</text><rect x="664.6" y="910.6" width="263.8" height="16.8" fill="url(#cbg)" stroke="#505050" stroke-width="1.3"/><text x="664.0" y="951.8" font-size="17" font-weight="bold" fill="#3a3a3a" text-anchor="middle" textLength="9.5" lengthAdjust="spacingAndGlyphs">0</text><text x="752.3333333333334" y="951.8" font-size="17" font-weight="bold" fill="#3a3a3a" text-anchor="middle" textLength="20.5" lengthAdjust="spacingAndGlyphs">20</text><text x="840.6666666666666" y="951.8" font-size="17" font-weight="bold" fill="#3a3a3a" text-anchor="middle" textLength="20.5" lengthAdjust="spacingAndGlyphs">40</text><text x="929.0" y="951.8" font-size="17" font-weight="bold" fill="#3a3a3a" text-anchor="middle" textLength="20.5" lengthAdjust="spacingAndGlyphs">60</text><rect x="956.0" y="910.6" width="263.8" height="16.8" fill="url(#cbg)" stroke="#505050" stroke-width="1.3"/><text x="955.4" y="951.8" font-size="17" font-weight="bold" fill="#3a3a3a" text-anchor="middle" textLength="9.5" lengthAdjust="spacingAndGlyphs">0</text><text x="1043.7333333333333" y="951.8" font-size="17" font-weight="bold" fill="#3a3a3a" text-anchor="middle" textLength="20.5" lengthAdjust="spacingAndGlyphs">20</text><text x="1132.0666666666666" y="951.8" font-size="17" font-weight="bold" fill="#3a3a3a" text-anchor="middle" textLength="20.5" lengthAdjust="spacingAndGlyphs">40</text><text x="1220.4" y="951.8" font-size="17" font-weight="bold" fill="#3a3a3a" text-anchor="middle" textLength="20.5" lengthAdjust="spacingAndGlyphs">60</text></svg></body></html>
